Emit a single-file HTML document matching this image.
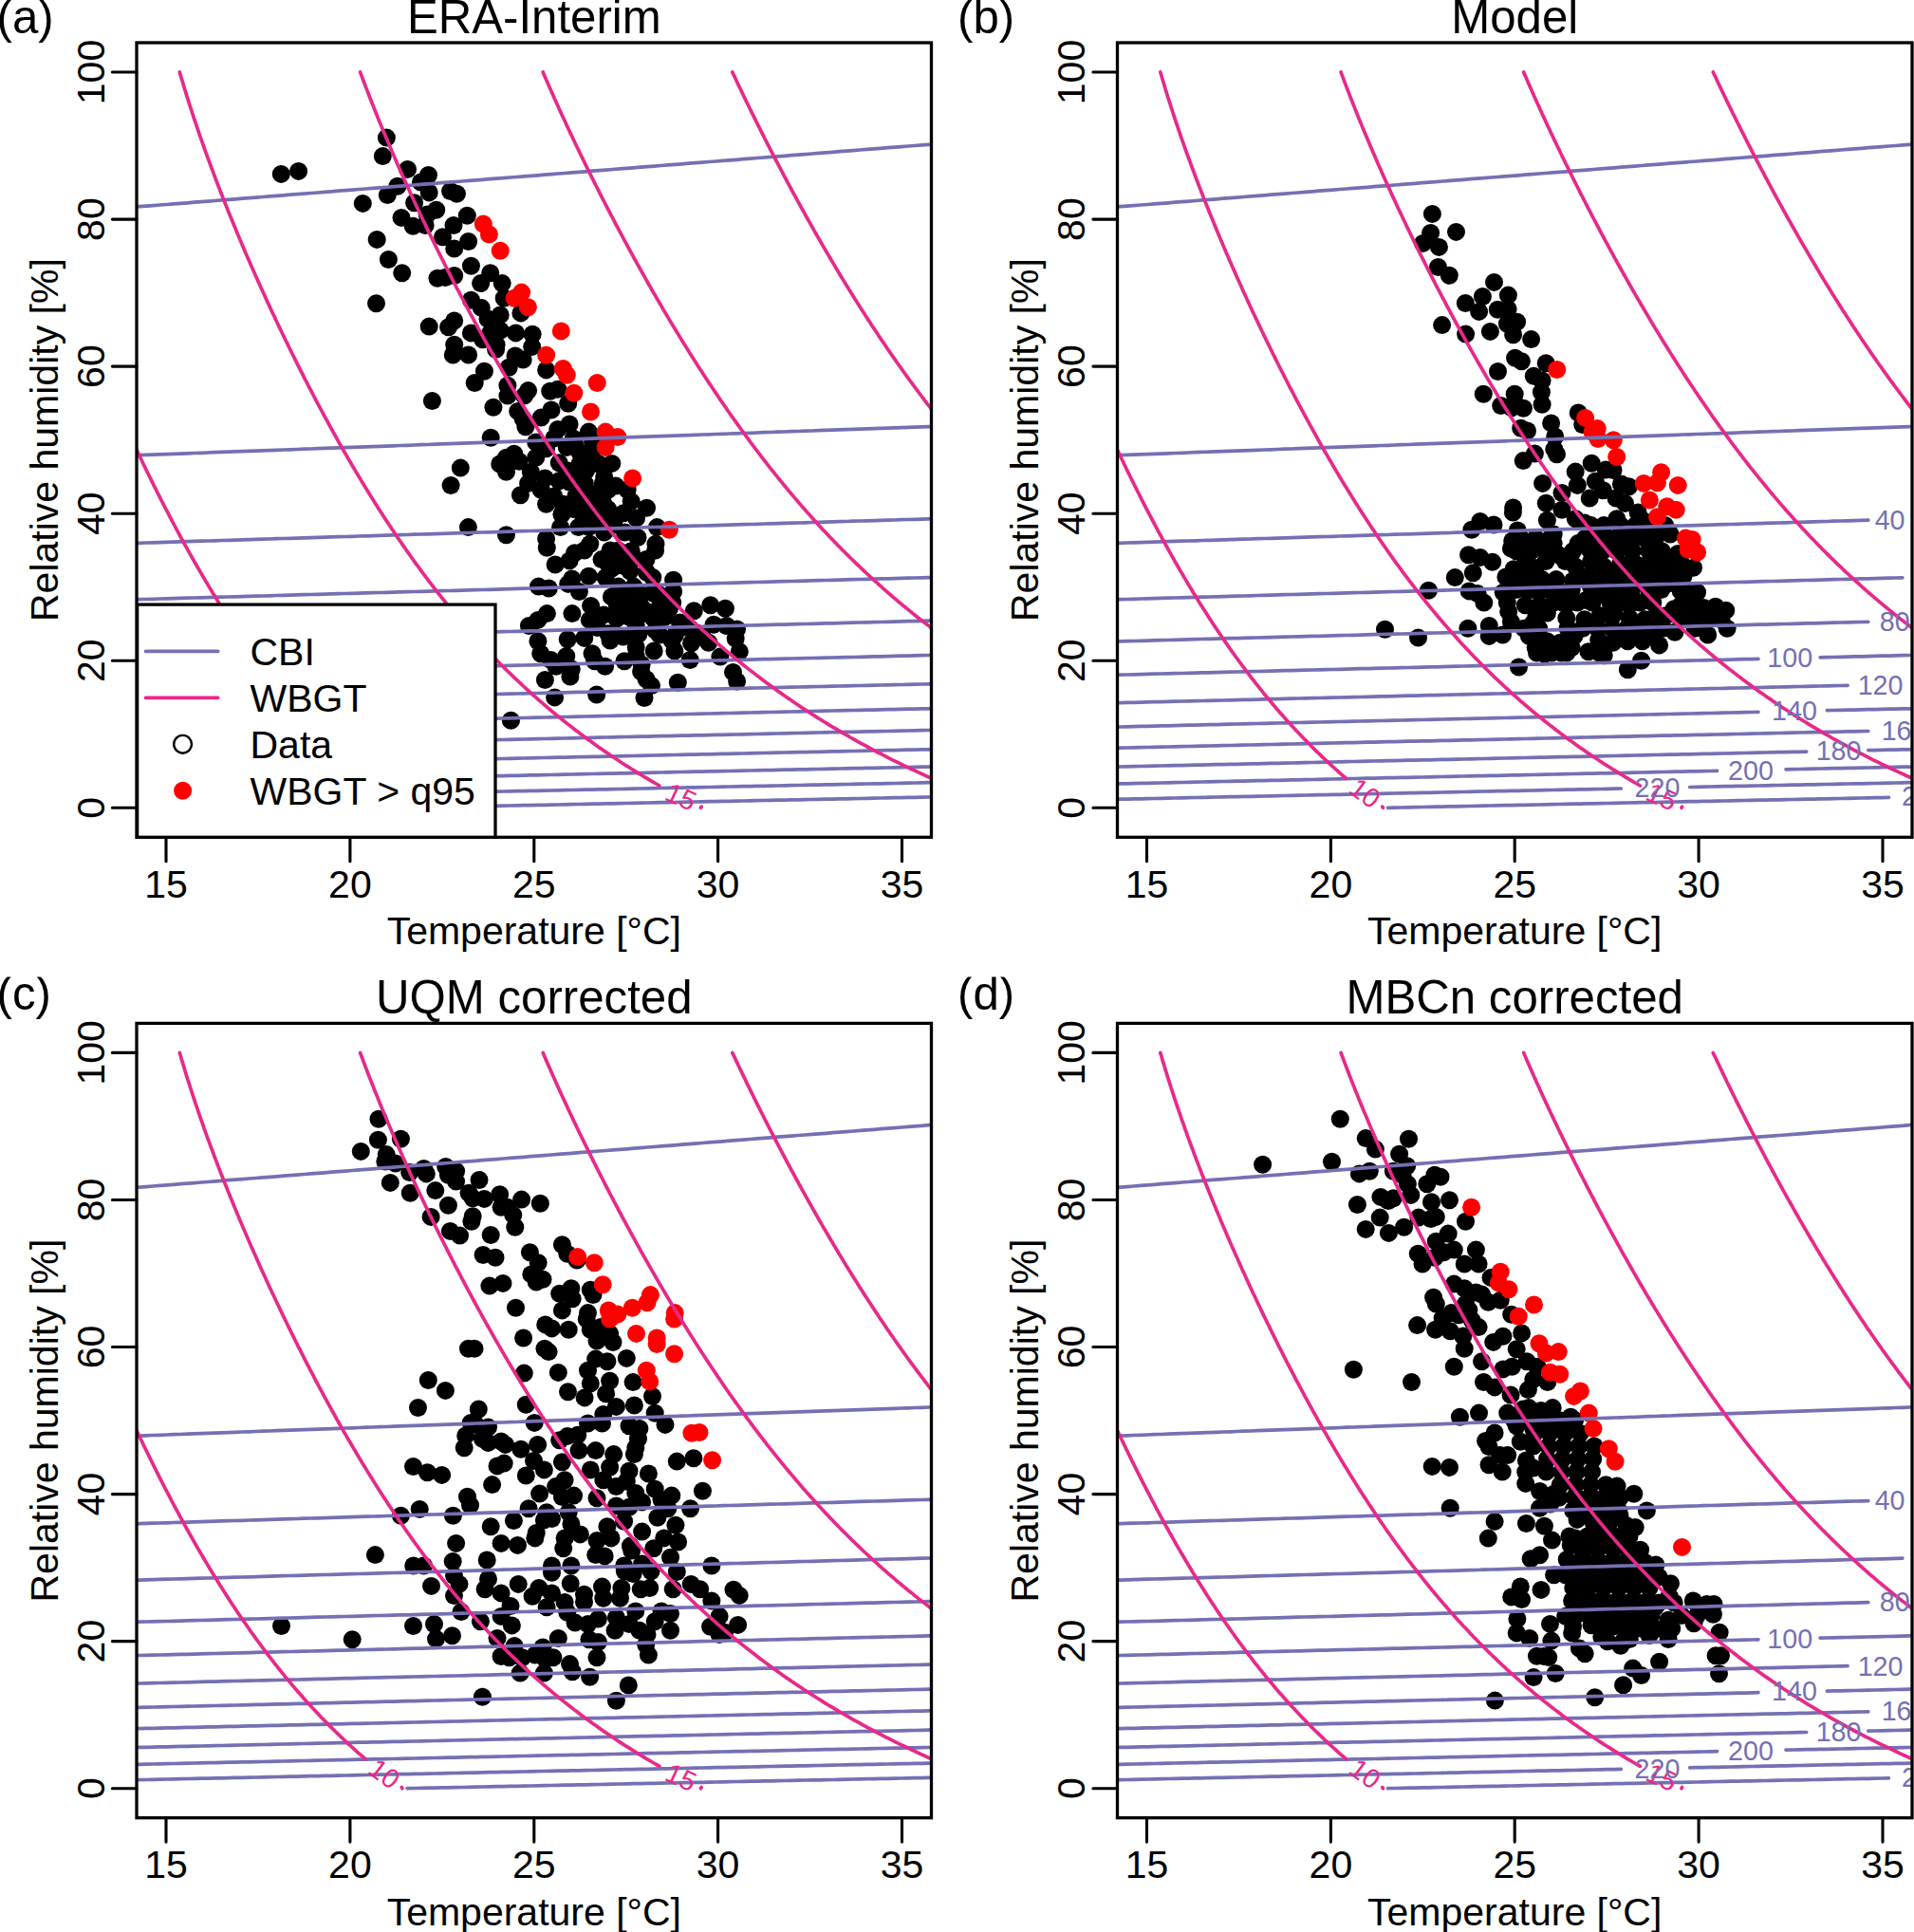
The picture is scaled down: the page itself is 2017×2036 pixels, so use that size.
<!DOCTYPE html>
<html><head><meta charset="utf-8"><style>
html,body{margin:0;padding:0;background:#fff;overflow:hidden;}
svg{display:block;font-family:'Liberation Sans', sans-serif;}
</style></head><body>
<svg width="2017" height="2036" viewBox="0 0 2017 2036">
<rect width="2017" height="2036" fill="#fff"/>
<defs><clipPath id="clip0"><rect x="144.0" y="45.0" width="837.5" height="837.3"/></clipPath></defs>
<g clip-path="url(#clip0)">
<g fill="#000"><circle cx="296.3" cy="183.4" r="9.5"/><circle cx="314.6" cy="180.4" r="9.5"/><circle cx="407.4" cy="145.1" r="9.5"/><circle cx="403.3" cy="164.6" r="9.5"/><circle cx="429.5" cy="178.4" r="9.5"/><circle cx="451.5" cy="184.5" r="9.5"/><circle cx="443.4" cy="192.0" r="9.5"/><circle cx="418.9" cy="196.3" r="9.5"/><circle cx="408.3" cy="205.6" r="9.5"/><circle cx="382.3" cy="214.4" r="9.5"/><circle cx="452.2" cy="202.9" r="9.5"/><circle cx="436.6" cy="213.7" r="9.5"/><circle cx="474.6" cy="201.5" r="9.5"/><circle cx="481.4" cy="204.2" r="9.5"/><circle cx="459.7" cy="221.2" r="9.5"/><circle cx="450.2" cy="226.0" r="9.5"/><circle cx="423.0" cy="229.4" r="9.5"/><circle cx="435.2" cy="238.2" r="9.5"/><circle cx="448.1" cy="237.5" r="9.5"/><circle cx="492.3" cy="227.3" r="9.5"/><circle cx="478.0" cy="237.5" r="9.5"/><circle cx="466.5" cy="249.7" r="9.5"/><circle cx="493.6" cy="254.5" r="9.5"/><circle cx="478.7" cy="262.0" r="9.5"/><circle cx="397.2" cy="252.4" r="9.5"/><circle cx="409.4" cy="273.5" r="9.5"/><circle cx="423.7" cy="287.8" r="9.5"/><circle cx="496.4" cy="280.3" r="9.5"/><circle cx="461.0" cy="293.2" r="9.5"/><circle cx="469.2" cy="292.5" r="9.5"/><circle cx="478.7" cy="290.5" r="9.5"/><circle cx="506.6" cy="298.6" r="9.5"/><circle cx="516.7" cy="287.8" r="9.5"/><circle cx="396.5" cy="319.7" r="9.5"/><circle cx="496.4" cy="316.3" r="9.5"/><circle cx="507.2" cy="324.4" r="9.5"/><circle cx="514.0" cy="336.0" r="9.5"/><circle cx="452.2" cy="344.1" r="9.5"/><circle cx="478.7" cy="338.0" r="9.5"/><circle cx="472.6" cy="344.8" r="9.5"/><circle cx="496.4" cy="350.9" r="9.5"/><circle cx="478.7" cy="363.2" r="9.5"/><circle cx="477.3" cy="374.0" r="9.5"/><circle cx="493.6" cy="374.0" r="9.5"/><circle cx="508.6" cy="357.7" r="9.5"/><circle cx="516.7" cy="350.9" r="9.5"/><circle cx="510.4" cy="391.2" r="9.5"/><circle cx="522.6" cy="368.2" r="9.5"/><circle cx="500.2" cy="403.5" r="9.5"/><circle cx="534.9" cy="406.2" r="9.5"/><circle cx="534.9" cy="417.1" r="9.5"/><circle cx="536.2" cy="387.2" r="9.5"/><circle cx="551.2" cy="379.0" r="9.5"/><circle cx="543.0" cy="374.9" r="9.5"/><circle cx="560.7" cy="365.4" r="9.5"/><circle cx="575.6" cy="389.9" r="9.5"/><circle cx="556.6" cy="411.6" r="9.5"/><circle cx="552.5" cy="417.1" r="9.5"/><circle cx="579.7" cy="412.3" r="9.5"/><circle cx="587.8" cy="410.3" r="9.5"/><circle cx="598.7" cy="425.2" r="9.5"/><circle cx="455.4" cy="422.5" r="9.5"/><circle cx="519.9" cy="429.3" r="9.5"/><circle cx="545.7" cy="433.4" r="9.5"/><circle cx="551.2" cy="441.5" r="9.5"/><circle cx="553.9" cy="449.7" r="9.5"/><circle cx="581.0" cy="432.0" r="9.5"/><circle cx="570.2" cy="440.1" r="9.5"/><circle cx="600.1" cy="446.9" r="9.5"/><circle cx="587.8" cy="452.4" r="9.5"/><circle cx="620.4" cy="455.1" r="9.5"/><circle cx="517.2" cy="461.2" r="9.5"/><circle cx="564.7" cy="466.0" r="9.5"/><circle cx="575.6" cy="472.7" r="9.5"/><circle cx="541.7" cy="478.2" r="9.5"/><circle cx="533.5" cy="482.3" r="9.5"/><circle cx="526.7" cy="489.0" r="9.5"/><circle cx="533.5" cy="497.2" r="9.5"/><circle cx="547.1" cy="486.3" r="9.5"/><circle cx="564.7" cy="482.3" r="9.5"/><circle cx="559.3" cy="497.2" r="9.5"/><circle cx="589.2" cy="487.7" r="9.5"/><circle cx="556.6" cy="509.4" r="9.5"/><circle cx="548.4" cy="521.7" r="9.5"/><circle cx="574.3" cy="504.0" r="9.5"/><circle cx="589.2" cy="506.7" r="9.5"/><circle cx="605.5" cy="506.7" r="9.5"/><circle cx="617.7" cy="495.8" r="9.5"/><circle cx="610.9" cy="476.8" r="9.5"/><circle cx="597.3" cy="471.4" r="9.5"/><circle cx="631.3" cy="489.0" r="9.5"/><circle cx="635.4" cy="509.4" r="9.5"/><circle cx="575.6" cy="531.2" r="9.5"/><circle cx="593.3" cy="531.2" r="9.5"/><circle cx="613.6" cy="525.7" r="9.5"/><circle cx="635.4" cy="529.8" r="9.5"/><circle cx="591.9" cy="542.0" r="9.5"/><circle cx="615.0" cy="546.1" r="9.5"/><circle cx="635.4" cy="547.5" r="9.5"/><circle cx="590.6" cy="555.6" r="9.5"/><circle cx="609.6" cy="555.6" r="9.5"/><circle cx="620.4" cy="555.6" r="9.5"/><circle cx="636.7" cy="561.0" r="9.5"/><circle cx="485.3" cy="493.1" r="9.5"/><circle cx="475.1" cy="511.5" r="9.5"/><circle cx="493.4" cy="555.6" r="9.5"/><circle cx="533.5" cy="563.8" r="9.5"/><circle cx="575.6" cy="567.8" r="9.5"/><circle cx="576.3" cy="577.3" r="9.5"/><circle cx="621.8" cy="573.3" r="9.5"/><circle cx="605.5" cy="582.8" r="9.5"/><circle cx="634.0" cy="589.6" r="9.5"/><circle cx="585.1" cy="595.0" r="9.5"/><circle cx="600.1" cy="590.9" r="9.5"/><circle cx="620.4" cy="607.2" r="9.5"/><circle cx="638.1" cy="608.6" r="9.5"/><circle cx="598.7" cy="615.4" r="9.5"/><circle cx="567.5" cy="618.1" r="9.5"/><circle cx="578.3" cy="620.0" r="9.5"/><circle cx="583.8" cy="461.9" r="9.5"/><circle cx="604.1" cy="461.9" r="9.5"/><circle cx="624.5" cy="466.0" r="9.5"/><circle cx="610.9" cy="489.0" r="9.5"/><circle cx="624.5" cy="475.5" r="9.5"/><circle cx="597.3" cy="495.8" r="9.5"/><circle cx="627.2" cy="520.3" r="9.5"/><circle cx="604.1" cy="536.6" r="9.5"/><circle cx="624.5" cy="536.6" r="9.5"/><circle cx="583.8" cy="523.0" r="9.5"/><circle cx="570.2" cy="516.2" r="9.5"/><circle cx="640.3" cy="593.6" r="9.5"/><circle cx="656.6" cy="596.3" r="9.5"/><circle cx="681.0" cy="589.5" r="9.5"/><circle cx="687.8" cy="608.5" r="9.5"/><circle cx="709.6" cy="611.2" r="9.5"/><circle cx="615.8" cy="580.0" r="9.5"/><circle cx="643.0" cy="580.0" r="9.5"/><circle cx="690.6" cy="580.0" r="9.5"/><circle cx="610.4" cy="623.5" r="9.5"/><circle cx="709.6" cy="623.5" r="9.5"/><circle cx="576.4" cy="646.6" r="9.5"/><circle cx="566.9" cy="653.4" r="9.5"/><circle cx="557.4" cy="659.5" r="9.5"/><circle cx="602.9" cy="646.6" r="9.5"/><circle cx="622.6" cy="638.4" r="9.5"/><circle cx="644.4" cy="628.9" r="9.5"/><circle cx="655.2" cy="634.3" r="9.5"/><circle cx="670.2" cy="631.6" r="9.5"/><circle cx="687.8" cy="624.8" r="9.5"/><circle cx="696.0" cy="634.3" r="9.5"/><circle cx="705.5" cy="641.1" r="9.5"/><circle cx="731.3" cy="643.8" r="9.5"/><circle cx="621.3" cy="653.4" r="9.5"/><circle cx="636.2" cy="647.9" r="9.5"/><circle cx="649.8" cy="652.0" r="9.5"/><circle cx="663.4" cy="650.6" r="9.5"/><circle cx="683.8" cy="645.2" r="9.5"/><circle cx="700.1" cy="650.6" r="9.5"/><circle cx="716.4" cy="656.1" r="9.5"/><circle cx="734.0" cy="666.9" r="9.5"/><circle cx="566.9" cy="675.8" r="9.5"/><circle cx="598.2" cy="673.7" r="9.5"/><circle cx="615.8" cy="672.4" r="9.5"/><circle cx="643.0" cy="675.1" r="9.5"/><circle cx="656.6" cy="671.0" r="9.5"/><circle cx="672.9" cy="668.3" r="9.5"/><circle cx="690.6" cy="664.2" r="9.5"/><circle cx="708.2" cy="675.1" r="9.5"/><circle cx="724.5" cy="661.5" r="9.5"/><circle cx="728.6" cy="677.8" r="9.5"/><circle cx="569.7" cy="688.7" r="9.5"/><circle cx="580.5" cy="695.5" r="9.5"/><circle cx="596.8" cy="691.4" r="9.5"/><circle cx="586.0" cy="702.3" r="9.5"/><circle cx="624.0" cy="688.7" r="9.5"/><circle cx="626.7" cy="696.8" r="9.5"/><circle cx="637.6" cy="702.3" r="9.5"/><circle cx="658.0" cy="696.8" r="9.5"/><circle cx="670.2" cy="691.4" r="9.5"/><circle cx="689.2" cy="686.0" r="9.5"/><circle cx="670.2" cy="681.9" r="9.5"/><circle cx="710.9" cy="686.0" r="9.5"/><circle cx="727.2" cy="695.5" r="9.5"/><circle cx="675.6" cy="707.7" r="9.5"/><circle cx="681.0" cy="715.8" r="9.5"/><circle cx="686.5" cy="722.6" r="9.5"/><circle cx="574.4" cy="716.5" r="9.5"/><circle cx="600.9" cy="713.1" r="9.5"/><circle cx="602.3" cy="705.0" r="9.5"/><circle cx="714.3" cy="719.2" r="9.5"/><circle cx="584.6" cy="734.9" r="9.5"/><circle cx="628.7" cy="732.1" r="9.5"/><circle cx="679.0" cy="735.5" r="9.5"/><circle cx="538.4" cy="759.3" r="9.5"/><circle cx="656.6" cy="641.1" r="9.5"/><circle cx="677.0" cy="641.1" r="9.5"/><circle cx="629.4" cy="661.5" r="9.5"/><circle cx="670.2" cy="658.8" r="9.5"/><circle cx="529.2" cy="298.6" r="9.5"/><circle cx="531.2" cy="314.3" r="9.5"/><circle cx="527.2" cy="331.9" r="9.5"/><circle cx="548.9" cy="329.9" r="9.5"/><circle cx="527.2" cy="348.2" r="9.5"/><circle cx="543.5" cy="350.9" r="9.5"/><circle cx="561.1" cy="352.3" r="9.5"/><circle cx="523.1" cy="363.2" r="9.5"/><circle cx="605.4" cy="467.3" r="9.5"/><circle cx="620.4" cy="482.3" r="9.5"/><circle cx="644.8" cy="488.4" r="9.5"/><circle cx="606.8" cy="495.8" r="9.5"/><circle cx="636.7" cy="502.6" r="9.5"/><circle cx="616.3" cy="509.4" r="9.5"/><circle cx="600.0" cy="508.1" r="9.5"/><circle cx="648.9" cy="512.1" r="9.5"/><circle cx="661.1" cy="516.2" r="9.5"/><circle cx="665.2" cy="528.4" r="9.5"/><circle cx="681.5" cy="535.2" r="9.5"/><circle cx="614.9" cy="536.6" r="9.5"/><circle cx="640.8" cy="536.6" r="9.5"/><circle cx="657.1" cy="540.7" r="9.5"/><circle cx="670.6" cy="546.1" r="9.5"/><circle cx="692.4" cy="555.6" r="9.5"/><circle cx="640.8" cy="557.0" r="9.5"/><circle cx="658.4" cy="561.0" r="9.5"/><circle cx="672.0" cy="566.5" r="9.5"/><circle cx="691.0" cy="573.3" r="9.5"/><circle cx="651.6" cy="580.1" r="9.5"/><circle cx="667.9" cy="588.2" r="9.5"/><circle cx="644.8" cy="599.1" r="9.5"/><circle cx="663.8" cy="601.8" r="9.5"/><circle cx="681.5" cy="603.2" r="9.5"/><circle cx="602.7" cy="609.9" r="9.5"/><circle cx="667.9" cy="618.1" r="9.5"/><circle cx="651.6" cy="618.1" r="9.5"/><circle cx="640.8" cy="516.2" r="9.5"/><circle cx="606.8" cy="523.0" r="9.5"/><circle cx="627.2" cy="543.4" r="9.5"/><circle cx="647.5" cy="547.5" r="9.5"/><circle cx="650.3" cy="594.3" r="9.5"/><circle cx="665.2" cy="580.8" r="9.5"/><circle cx="661.1" cy="624.2" r="9.5"/><circle cx="676.1" cy="626.9" r="9.5"/><circle cx="695.1" cy="626.9" r="9.5"/><circle cx="708.7" cy="635.1" r="9.5"/><circle cx="650.3" cy="637.8" r="9.5"/><circle cx="665.2" cy="640.5" r="9.5"/><circle cx="695.1" cy="643.2" r="9.5"/><circle cx="748.7" cy="637.8" r="9.5"/><circle cx="764.4" cy="641.2" r="9.5"/><circle cx="672.0" cy="650.0" r="9.5"/><circle cx="688.3" cy="651.4" r="9.5"/><circle cx="752.1" cy="658.2" r="9.5"/><circle cx="765.7" cy="659.5" r="9.5"/><circle cx="776.6" cy="662.9" r="9.5"/><circle cx="640.8" cy="667.7" r="9.5"/><circle cx="695.1" cy="669.0" r="9.5"/><circle cx="711.4" cy="669.0" r="9.5"/><circle cx="739.9" cy="670.4" r="9.5"/><circle cx="775.2" cy="673.1" r="9.5"/><circle cx="746.7" cy="677.2" r="9.5"/><circle cx="779.3" cy="686.7" r="9.5"/><circle cx="758.9" cy="692.1" r="9.5"/><circle cx="676.1" cy="700.3" r="9.5"/><circle cx="772.5" cy="708.4" r="9.5"/><circle cx="776.6" cy="718.0" r="9.5"/></g>
<g fill="#f00"><circle cx="509.3" cy="236.1" r="9.5"/><circle cx="515.4" cy="247.0" r="9.5"/><circle cx="575.6" cy="374.3" r="9.5"/><circle cx="593.3" cy="388.5" r="9.5"/><circle cx="597.3" cy="395.3" r="9.5"/><circle cx="604.8" cy="414.3" r="9.5"/><circle cx="629.3" cy="403.5" r="9.5"/><circle cx="622.5" cy="434.0" r="9.5"/><circle cx="638.1" cy="455.1" r="9.5"/><circle cx="638.1" cy="471.4" r="9.5"/><circle cx="527.2" cy="264.3" r="9.5"/><circle cx="549.6" cy="308.1" r="9.5"/><circle cx="542.1" cy="314.3" r="9.5"/><circle cx="556.4" cy="323.8" r="9.5"/><circle cx="591.3" cy="348.9" r="9.5"/><circle cx="650.9" cy="460.5" r="9.5"/><circle cx="666.6" cy="504.0" r="9.5"/><circle cx="705.3" cy="558.3" r="9.5"/></g>
<g fill="none" stroke="#7570B3" stroke-width="3.7" stroke-linecap="round" stroke-linejoin="round">
<path d="M132.4,218.9 L139.6,218.3 L146.8,217.7 L154.1,217.2 L161.3,216.6 L168.5,216.0 L175.8,215.5 L183.0,214.9 L190.2,214.3 L197.5,213.8 L204.7,213.2 L211.9,212.6 L219.2,212.1 L226.4,211.5 L233.6,210.9 L240.9,210.3 L248.1,209.8 L255.3,209.2 L262.6,208.6 L269.8,208.1 L277.0,207.5 L284.3,206.9 L291.5,206.4 L298.7,205.8 L306.0,205.2 L313.2,204.7 L320.4,204.1 L327.7,203.5 L334.9,203.0 L342.1,202.4 L349.4,201.8 L356.6,201.2 L363.8,200.7 L371.1,200.1 L378.3,199.5 L385.5,199.0 L392.8,198.4 L400.0,197.8 L407.2,197.3 L414.5,196.7 L421.7,196.1 L428.9,195.6 L436.2,195.0 L443.4,194.4 L450.6,193.9 L457.9,193.3 L465.1,192.7 L472.3,192.1 L479.6,191.6 L486.8,191.0 L494.0,190.4 L501.3,189.9 L508.5,189.3 L515.7,188.7 L523.0,188.2 L530.2,187.6 L537.4,187.0 L544.7,186.5 L551.9,185.9 L559.1,185.3 L566.4,184.8 L573.6,184.2 L580.8,183.6 L588.1,183.0 L595.3,182.5 L602.5,181.9 L609.8,181.3 L617.0,180.8 L624.2,180.2 L631.5,179.6 L638.7,179.1 L645.9,178.5 L653.2,177.9 L660.4,177.4 L667.6,176.8 L674.9,176.2 L682.1,175.6 L689.3,175.1 L696.6,174.5 L703.8,173.9 L711.0,173.4 L718.3,172.8 L725.5,172.2 L732.7,171.7 L740.0,171.1 L747.2,170.5 L754.4,170.0 L761.7,169.4 L768.9,168.8 L776.1,168.3 L783.4,167.7 L790.6,167.1 L797.8,166.5 L805.1,166.0 L812.3,165.4 L819.5,164.8 L826.8,164.3 L834.0,163.7 L841.2,163.1 L848.5,162.6 L855.7,162.0 L862.9,161.4 L870.2,160.9 L877.4,160.3 L884.6,159.7 L891.9,159.2 L899.1,158.6 L906.3,158.0 L913.6,157.4 L920.8,156.9 L928.0,156.3 L935.3,155.7 L942.5,155.2 L949.7,154.6 L957.0,154.0 L964.2,153.5 L971.4,152.9 L978.7,152.3 L985.9,151.8 L993.1,151.2"/>
<path d="M132.4,480.2 L139.6,479.9 L146.8,479.7 L154.1,479.4 L161.3,479.1 L168.5,478.9 L175.8,478.6 L183.0,478.3 L190.2,478.1 L197.5,477.8 L204.7,477.5 L211.9,477.3 L219.2,477.0 L226.4,476.7 L233.6,476.4 L240.9,476.2 L248.1,475.9 L255.3,475.6 L262.6,475.4 L269.8,475.1 L277.0,474.8 L284.3,474.6 L291.5,474.3 L298.7,474.0 L306.0,473.8 L313.2,473.5 L320.4,473.2 L327.7,473.0 L334.9,472.7 L342.1,472.4 L349.4,472.2 L356.6,471.9 L363.8,471.6 L371.1,471.4 L378.3,471.1 L385.5,470.8 L392.8,470.6 L400.0,470.3 L407.2,470.1 L414.5,469.8 L421.7,469.5 L428.9,469.3 L436.2,469.0 L443.4,468.7 L450.6,468.5 L457.9,468.2 L465.1,467.9 L472.3,467.7 L479.6,467.4 L486.8,467.2 L494.0,466.9 L501.3,466.6 L508.5,466.4 L515.7,466.1 L523.0,465.8 L530.2,465.6 L537.4,465.3 L544.7,465.1 L551.9,464.8 L559.1,464.5 L566.4,464.3 L573.6,464.0 L580.8,463.7 L588.1,463.5 L595.3,463.2 L602.5,463.0 L609.8,462.7 L617.0,462.4 L624.2,462.2 L631.5,461.9 L638.7,461.7 L645.9,461.4 L653.2,461.1 L660.4,460.9 L667.6,460.6 L674.9,460.4 L682.1,460.1 L689.3,459.9 L696.6,459.6 L703.8,459.3 L711.0,459.1 L718.3,458.8 L725.5,458.6 L732.7,458.3 L740.0,458.0 L747.2,457.8 L754.4,457.5 L761.7,457.3 L768.9,457.0 L776.1,456.8 L783.4,456.5 L790.6,456.3 L797.8,456.0 L805.1,455.7 L812.3,455.5 L819.5,455.2 L826.8,455.0 L834.0,454.7 L841.2,454.5 L848.5,454.2 L855.7,454.0 L862.9,453.7 L870.2,453.4 L877.4,453.2 L884.6,452.9 L891.9,452.7 L899.1,452.4 L906.3,452.2 L913.6,451.9 L920.8,451.7 L928.0,451.4 L935.3,451.2 L942.5,450.9 L949.7,450.6 L957.0,450.4 L964.2,450.1 L971.4,449.9 L978.7,449.6 L985.9,449.4 L993.1,449.1"/>
<path d="M132.4,572.7 L139.6,572.5 L146.8,572.3 L154.1,572.0 L161.3,571.8 L168.5,571.6 L175.8,571.4 L183.0,571.1 L190.2,570.9 L197.5,570.7 L204.7,570.4 L211.9,570.2 L219.2,570.0 L226.4,569.8 L233.6,569.5 L240.9,569.3 L248.1,569.1 L255.3,568.9 L262.6,568.6 L269.8,568.4 L277.0,568.2 L284.3,568.0 L291.5,567.7 L298.7,567.5 L306.0,567.3 L313.2,567.1 L320.4,566.8 L327.7,566.6 L334.9,566.4 L342.1,566.2 L349.4,565.9 L356.6,565.7 L363.8,565.5 L371.1,565.3 L378.3,565.0 L385.5,564.8 L392.8,564.6 L400.0,564.4 L407.2,564.1 L414.5,563.9 L421.7,563.7 L428.9,563.5 L436.2,563.2 L443.4,563.0 L450.6,562.8 L457.9,562.6 L465.1,562.4 L472.3,562.1 L479.6,561.9 L486.8,561.7 L494.0,561.5 L501.3,561.2 L508.5,561.0 L515.7,560.8 L523.0,560.6 L530.2,560.4 L537.4,560.1 L544.7,559.9 L551.9,559.7 L559.1,559.5 L566.4,559.3 L573.6,559.0 L580.8,558.8 L588.1,558.6 L595.3,558.4 L602.5,558.2 L609.8,557.9 L617.0,557.7 L624.2,557.5 L631.5,557.3 L638.7,557.1 L645.9,556.8 L653.2,556.6 L660.4,556.4 L667.6,556.2 L674.9,556.0 L682.1,555.7 L689.3,555.5 L696.6,555.3 L703.8,555.1 L711.0,554.9 L718.3,554.7 L725.5,554.4 L732.7,554.2 L740.0,554.0 L747.2,553.8 L754.4,553.6 L761.7,553.3 L768.9,553.1 L776.1,552.9 L783.4,552.7 L790.6,552.5 L797.8,552.3 L805.1,552.0 L812.3,551.8 L819.5,551.6 L826.8,551.4 L834.0,551.2 L841.2,551.0 L848.5,550.8 L855.7,550.5 L862.9,550.3 L870.2,550.1 L877.4,549.9 L884.6,549.7 L891.9,549.5 L899.1,549.2 L906.3,549.0 L913.6,548.8 L920.8,548.6 L928.0,548.4 L935.3,548.2 L942.5,548.0 L949.7,547.7 L957.0,547.5 L964.2,547.3 L971.4,547.1 L978.7,546.9 L985.9,546.7 L993.1,546.5"/>
<path d="M132.4,632.1 L139.6,631.9 L146.8,631.7 L154.1,631.5 L161.3,631.3 L168.5,631.0 L175.8,630.8 L183.0,630.6 L190.2,630.4 L197.5,630.2 L204.7,630.0 L211.9,629.8 L219.2,629.6 L226.4,629.4 L233.6,629.2 L240.9,629.0 L248.1,628.8 L255.3,628.6 L262.6,628.4 L269.8,628.2 L277.0,628.0 L284.3,627.8 L291.5,627.5 L298.7,627.3 L306.0,627.1 L313.2,626.9 L320.4,626.7 L327.7,626.5 L334.9,626.3 L342.1,626.1 L349.4,625.9 L356.6,625.7 L363.8,625.5 L371.1,625.3 L378.3,625.1 L385.5,624.9 L392.8,624.7 L400.0,624.5 L407.2,624.3 L414.5,624.1 L421.7,623.9 L428.9,623.7 L436.2,623.5 L443.4,623.3 L450.6,623.1 L457.9,622.9 L465.1,622.7 L472.3,622.5 L479.6,622.3 L486.8,622.1 L494.0,621.9 L501.3,621.7 L508.5,621.5 L515.7,621.3 L523.0,621.1 L530.2,620.8 L537.4,620.6 L544.7,620.4 L551.9,620.2 L559.1,620.0 L566.4,619.8 L573.6,619.6 L580.8,619.4 L588.1,619.2 L595.3,619.0 L602.5,618.8 L609.8,618.6 L617.0,618.4 L624.2,618.2 L631.5,618.0 L638.7,617.8 L645.9,617.6 L653.2,617.4 L660.4,617.2 L667.6,617.0 L674.9,616.8 L682.1,616.6 L689.3,616.4 L696.6,616.3 L703.8,616.1 L711.0,615.9 L718.3,615.7 L725.5,615.5 L732.7,615.3 L740.0,615.1 L747.2,614.9 L754.4,614.7 L761.7,614.5 L768.9,614.3 L776.1,614.1 L783.4,613.9 L790.6,613.7 L797.8,613.5 L805.1,613.3 L812.3,613.1 L819.5,612.9 L826.8,612.7 L834.0,612.5 L841.2,612.3 L848.5,612.1 L855.7,611.9 L862.9,611.7 L870.2,611.5 L877.4,611.3 L884.6,611.1 L891.9,610.9 L899.1,610.7 L906.3,610.5 L913.6,610.3 L920.8,610.1 L928.0,609.9 L935.3,609.8 L942.5,609.6 L949.7,609.4 L957.0,609.2 L964.2,609.0 L971.4,608.8 L978.7,608.6 L985.9,608.4 L993.1,608.2"/>
<path d="M132.4,676.2 L139.6,676.0 L146.8,675.8 L154.1,675.6 L161.3,675.5 L168.5,675.3 L175.8,675.1 L183.0,674.9 L190.2,674.7 L197.5,674.5 L204.7,674.3 L211.9,674.1 L219.2,673.9 L226.4,673.7 L233.6,673.5 L240.9,673.3 L248.1,673.1 L255.3,672.9 L262.6,672.7 L269.8,672.6 L277.0,672.4 L284.3,672.2 L291.5,672.0 L298.7,671.8 L306.0,671.6 L313.2,671.4 L320.4,671.2 L327.7,671.0 L334.9,670.8 L342.1,670.6 L349.4,670.4 L356.6,670.3 L363.8,670.1 L371.1,669.9 L378.3,669.7 L385.5,669.5 L392.8,669.3 L400.0,669.1 L407.2,668.9 L414.5,668.7 L421.7,668.5 L428.9,668.4 L436.2,668.2 L443.4,668.0 L450.6,667.8 L457.9,667.6 L465.1,667.4 L472.3,667.2 L479.6,667.0 L486.8,666.8 L494.0,666.6 L501.3,666.5 L508.5,666.3 L515.7,666.1 L523.0,665.9 L530.2,665.7 L537.4,665.5 L544.7,665.3 L551.9,665.1 L559.1,664.9 L566.4,664.8 L573.6,664.6 L580.8,664.4 L588.1,664.2 L595.3,664.0 L602.5,663.8 L609.8,663.6 L617.0,663.4 L624.2,663.3 L631.5,663.1 L638.7,662.9 L645.9,662.7 L653.2,662.5 L660.4,662.3 L667.6,662.1 L674.9,662.0 L682.1,661.8 L689.3,661.6 L696.6,661.4 L703.8,661.2 L711.0,661.0 L718.3,660.8 L725.5,660.6 L732.7,660.5 L740.0,660.3 L747.2,660.1 L754.4,659.9 L761.7,659.7 L768.9,659.5 L776.1,659.3 L783.4,659.2 L790.6,659.0 L797.8,658.8 L805.1,658.6 L812.3,658.4 L819.5,658.2 L826.8,658.1 L834.0,657.9 L841.2,657.7 L848.5,657.5 L855.7,657.3 L862.9,657.1 L870.2,656.9 L877.4,656.8 L884.6,656.6 L891.9,656.4 L899.1,656.2 L906.3,656.0 L913.6,655.8 L920.8,655.7 L928.0,655.5 L935.3,655.3 L942.5,655.1 L949.7,654.9 L957.0,654.7 L964.2,654.6 L971.4,654.4 L978.7,654.2 L985.9,654.0 L993.1,653.8"/>
<path d="M132.4,711.5 L139.6,711.3 L146.8,711.1 L154.1,711.0 L161.3,710.8 L168.5,710.6 L175.8,710.4 L183.0,710.2 L190.2,710.0 L197.5,709.9 L204.7,709.7 L211.9,709.5 L219.2,709.3 L226.4,709.1 L233.6,708.9 L240.9,708.8 L248.1,708.6 L255.3,708.4 L262.6,708.2 L269.8,708.0 L277.0,707.8 L284.3,707.7 L291.5,707.5 L298.7,707.3 L306.0,707.1 L313.2,706.9 L320.4,706.7 L327.7,706.6 L334.9,706.4 L342.1,706.2 L349.4,706.0 L356.6,705.8 L363.8,705.7 L371.1,705.5 L378.3,705.3 L385.5,705.1 L392.8,704.9 L400.0,704.7 L407.2,704.6 L414.5,704.4 L421.7,704.2 L428.9,704.0 L436.2,703.8 L443.4,703.7 L450.6,703.5 L457.9,703.3 L465.1,703.1 L472.3,702.9 L479.6,702.8 L486.8,702.6 L494.0,702.4 L501.3,702.2 L508.5,702.0 L515.7,701.9 L523.0,701.7 L530.2,701.5 L537.4,701.3 L544.7,701.1 L551.9,701.0 L559.1,700.8 L566.4,700.6 L573.6,700.4 L580.8,700.2 L588.1,700.1 L595.3,699.9 L602.5,699.7 L609.8,699.5 L617.0,699.3 L624.2,699.2 L631.5,699.0 L638.7,698.8 L645.9,698.6 L653.2,698.5 L660.4,698.3 L667.6,698.1 L674.9,697.9 L682.1,697.7 L689.3,697.6 L696.6,697.4 L703.8,697.2 L711.0,697.0 L718.3,696.9 L725.5,696.7 L732.7,696.5 L740.0,696.3 L747.2,696.1 L754.4,696.0 L761.7,695.8 L768.9,695.6 L776.1,695.4 L783.4,695.3 L790.6,695.1 L797.8,694.9 L805.1,694.7 L812.3,694.6 L819.5,694.4 L826.8,694.2 L834.0,694.0 L841.2,693.9 L848.5,693.7 L855.7,693.5 L862.9,693.3 L870.2,693.2 L877.4,693.0 L884.6,692.8 L891.9,692.6 L899.1,692.5 L906.3,692.3 L913.6,692.1 L920.8,691.9 L928.0,691.8 L935.3,691.6 L942.5,691.4 L949.7,691.2 L957.0,691.1 L964.2,690.9 L971.4,690.7 L978.7,690.5 L985.9,690.4 L993.1,690.2"/>
<path d="M132.4,741.0 L139.6,740.8 L146.8,740.6 L154.1,740.4 L161.3,740.3 L168.5,740.1 L175.8,739.9 L183.0,739.7 L190.2,739.6 L197.5,739.4 L204.7,739.2 L211.9,739.0 L219.2,738.8 L226.4,738.7 L233.6,738.5 L240.9,738.3 L248.1,738.1 L255.3,738.0 L262.6,737.8 L269.8,737.6 L277.0,737.4 L284.3,737.3 L291.5,737.1 L298.7,736.9 L306.0,736.7 L313.2,736.6 L320.4,736.4 L327.7,736.2 L334.9,736.0 L342.1,735.9 L349.4,735.7 L356.6,735.5 L363.8,735.3 L371.1,735.2 L378.3,735.0 L385.5,734.8 L392.8,734.6 L400.0,734.5 L407.2,734.3 L414.5,734.1 L421.7,733.9 L428.9,733.8 L436.2,733.6 L443.4,733.4 L450.6,733.2 L457.9,733.1 L465.1,732.9 L472.3,732.7 L479.6,732.6 L486.8,732.4 L494.0,732.2 L501.3,732.0 L508.5,731.9 L515.7,731.7 L523.0,731.5 L530.2,731.3 L537.4,731.2 L544.7,731.0 L551.9,730.8 L559.1,730.7 L566.4,730.5 L573.6,730.3 L580.8,730.1 L588.1,730.0 L595.3,729.8 L602.5,729.6 L609.8,729.4 L617.0,729.3 L624.2,729.1 L631.5,728.9 L638.7,728.8 L645.9,728.6 L653.2,728.4 L660.4,728.2 L667.6,728.1 L674.9,727.9 L682.1,727.7 L689.3,727.6 L696.6,727.4 L703.8,727.2 L711.0,727.0 L718.3,726.9 L725.5,726.7 L732.7,726.5 L740.0,726.4 L747.2,726.2 L754.4,726.0 L761.7,725.9 L768.9,725.7 L776.1,725.5 L783.4,725.3 L790.6,725.2 L797.8,725.0 L805.1,724.8 L812.3,724.7 L819.5,724.5 L826.8,724.3 L834.0,724.2 L841.2,724.0 L848.5,723.8 L855.7,723.7 L862.9,723.5 L870.2,723.3 L877.4,723.1 L884.6,723.0 L891.9,722.8 L899.1,722.6 L906.3,722.5 L913.6,722.3 L920.8,722.1 L928.0,722.0 L935.3,721.8 L942.5,721.6 L949.7,721.5 L957.0,721.3 L964.2,721.1 L971.4,721.0 L978.7,720.8 L985.9,720.6 L993.1,720.5"/>
<path d="M132.4,766.3 L139.6,766.1 L146.8,766.0 L154.1,765.8 L161.3,765.6 L168.5,765.4 L175.8,765.3 L183.0,765.1 L190.2,764.9 L197.5,764.8 L204.7,764.6 L211.9,764.4 L219.2,764.2 L226.4,764.1 L233.6,763.9 L240.9,763.7 L248.1,763.6 L255.3,763.4 L262.6,763.2 L269.8,763.0 L277.0,762.9 L284.3,762.7 L291.5,762.5 L298.7,762.4 L306.0,762.2 L313.2,762.0 L320.4,761.9 L327.7,761.7 L334.9,761.5 L342.1,761.3 L349.4,761.2 L356.6,761.0 L363.8,760.8 L371.1,760.7 L378.3,760.5 L385.5,760.3 L392.8,760.2 L400.0,760.0 L407.2,759.8 L414.5,759.7 L421.7,759.5 L428.9,759.3 L436.2,759.2 L443.4,759.0 L450.6,758.8 L457.9,758.6 L465.1,758.5 L472.3,758.3 L479.6,758.1 L486.8,758.0 L494.0,757.8 L501.3,757.6 L508.5,757.5 L515.7,757.3 L523.0,757.1 L530.2,757.0 L537.4,756.8 L544.7,756.6 L551.9,756.5 L559.1,756.3 L566.4,756.1 L573.6,756.0 L580.8,755.8 L588.1,755.6 L595.3,755.5 L602.5,755.3 L609.8,755.1 L617.0,755.0 L624.2,754.8 L631.5,754.6 L638.7,754.5 L645.9,754.3 L653.2,754.1 L660.4,754.0 L667.6,753.8 L674.9,753.6 L682.1,753.5 L689.3,753.3 L696.6,753.1 L703.8,753.0 L711.0,752.8 L718.3,752.7 L725.5,752.5 L732.7,752.3 L740.0,752.2 L747.2,752.0 L754.4,751.8 L761.7,751.7 L768.9,751.5 L776.1,751.3 L783.4,751.2 L790.6,751.0 L797.8,750.8 L805.1,750.7 L812.3,750.5 L819.5,750.3 L826.8,750.2 L834.0,750.0 L841.2,749.9 L848.5,749.7 L855.7,749.5 L862.9,749.4 L870.2,749.2 L877.4,749.0 L884.6,748.9 L891.9,748.7 L899.1,748.5 L906.3,748.4 L913.6,748.2 L920.8,748.1 L928.0,747.9 L935.3,747.7 L942.5,747.6 L949.7,747.4 L957.0,747.2 L964.2,747.1 L971.4,746.9 L978.7,746.8 L985.9,746.6 L993.1,746.4"/>
<path d="M132.4,788.5 L139.6,788.4 L146.8,788.2 L154.1,788.0 L161.3,787.9 L168.5,787.7 L175.8,787.5 L183.0,787.4 L190.2,787.2 L197.5,787.0 L204.7,786.9 L211.9,786.7 L219.2,786.5 L226.4,786.4 L233.6,786.2 L240.9,786.0 L248.1,785.9 L255.3,785.7 L262.6,785.5 L269.8,785.4 L277.0,785.2 L284.3,785.0 L291.5,784.9 L298.7,784.7 L306.0,784.5 L313.2,784.4 L320.4,784.2 L327.7,784.0 L334.9,783.9 L342.1,783.7 L349.4,783.5 L356.6,783.4 L363.8,783.2 L371.1,783.0 L378.3,782.9 L385.5,782.7 L392.8,782.6 L400.0,782.4 L407.2,782.2 L414.5,782.1 L421.7,781.9 L428.9,781.7 L436.2,781.6 L443.4,781.4 L450.6,781.2 L457.9,781.1 L465.1,780.9 L472.3,780.8 L479.6,780.6 L486.8,780.4 L494.0,780.3 L501.3,780.1 L508.5,779.9 L515.7,779.8 L523.0,779.6 L530.2,779.5 L537.4,779.3 L544.7,779.1 L551.9,779.0 L559.1,778.8 L566.4,778.6 L573.6,778.5 L580.8,778.3 L588.1,778.2 L595.3,778.0 L602.5,777.8 L609.8,777.7 L617.0,777.5 L624.2,777.3 L631.5,777.2 L638.7,777.0 L645.9,776.9 L653.2,776.7 L660.4,776.5 L667.6,776.4 L674.9,776.2 L682.1,776.1 L689.3,775.9 L696.6,775.7 L703.8,775.6 L711.0,775.4 L718.3,775.2 L725.5,775.1 L732.7,774.9 L740.0,774.8 L747.2,774.6 L754.4,774.4 L761.7,774.3 L768.9,774.1 L776.1,774.0 L783.4,773.8 L790.6,773.6 L797.8,773.5 L805.1,773.3 L812.3,773.2 L819.5,773.0 L826.8,772.8 L834.0,772.7 L841.2,772.5 L848.5,772.4 L855.7,772.2 L862.9,772.0 L870.2,771.9 L877.4,771.7 L884.6,771.6 L891.9,771.4 L899.1,771.3 L906.3,771.1 L913.6,770.9 L920.8,770.8 L928.0,770.6 L935.3,770.5 L942.5,770.3 L949.7,770.1 L957.0,770.0 L964.2,769.8 L971.4,769.7 L978.7,769.5 L985.9,769.4 L993.1,769.2"/>
<path d="M132.4,808.3 L139.6,808.2 L146.8,808.0 L154.1,807.9 L161.3,807.7 L168.5,807.5 L175.8,807.4 L183.0,807.2 L190.2,807.0 L197.5,806.9 L204.7,806.7 L211.9,806.6 L219.2,806.4 L226.4,806.2 L233.6,806.1 L240.9,805.9 L248.1,805.7 L255.3,805.6 L262.6,805.4 L269.8,805.3 L277.0,805.1 L284.3,804.9 L291.5,804.8 L298.7,804.6 L306.0,804.4 L313.2,804.3 L320.4,804.1 L327.7,804.0 L334.9,803.8 L342.1,803.6 L349.4,803.5 L356.6,803.3 L363.8,803.2 L371.1,803.0 L378.3,802.8 L385.5,802.7 L392.8,802.5 L400.0,802.4 L407.2,802.2 L414.5,802.0 L421.7,801.9 L428.9,801.7 L436.2,801.6 L443.4,801.4 L450.6,801.2 L457.9,801.1 L465.1,800.9 L472.3,800.8 L479.6,800.6 L486.8,800.4 L494.0,800.3 L501.3,800.1 L508.5,800.0 L515.7,799.8 L523.0,799.6 L530.2,799.5 L537.4,799.3 L544.7,799.2 L551.9,799.0 L559.1,798.9 L566.4,798.7 L573.6,798.5 L580.8,798.4 L588.1,798.2 L595.3,798.1 L602.5,797.9 L609.8,797.7 L617.0,797.6 L624.2,797.4 L631.5,797.3 L638.7,797.1 L645.9,797.0 L653.2,796.8 L660.4,796.6 L667.6,796.5 L674.9,796.3 L682.1,796.2 L689.3,796.0 L696.6,795.9 L703.8,795.7 L711.0,795.5 L718.3,795.4 L725.5,795.2 L732.7,795.1 L740.0,794.9 L747.2,794.8 L754.4,794.6 L761.7,794.4 L768.9,794.3 L776.1,794.1 L783.4,794.0 L790.6,793.8 L797.8,793.7 L805.1,793.5 L812.3,793.3 L819.5,793.2 L826.8,793.0 L834.0,792.9 L841.2,792.7 L848.5,792.6 L855.7,792.4 L862.9,792.3 L870.2,792.1 L877.4,791.9 L884.6,791.8 L891.9,791.6 L899.1,791.5 L906.3,791.3 L913.6,791.2 L920.8,791.0 L928.0,790.9 L935.3,790.7 L942.5,790.6 L949.7,790.4 L957.0,790.2 L964.2,790.1 L971.4,789.9 L978.7,789.8 L985.9,789.6 L993.1,789.5"/>
<path d="M132.4,826.2 L139.6,826.1 L146.8,825.9 L154.1,825.8 L161.3,825.6 L168.5,825.4 L175.8,825.3 L183.0,825.1 L190.2,825.0 L197.5,824.8 L204.7,824.6 L211.9,824.5 L219.2,824.3 L226.4,824.2 L233.6,824.0 L240.9,823.8 L248.1,823.7 L255.3,823.5 L262.6,823.4 L269.8,823.2 L277.0,823.1 L284.3,822.9 L291.5,822.7 L298.7,822.6 L306.0,822.4 L313.2,822.3 L320.4,822.1 L327.7,821.9 L334.9,821.8 L342.1,821.6 L349.4,821.5 L356.6,821.3 L363.8,821.2 L371.1,821.0 L378.3,820.8 L385.5,820.7 L392.8,820.5 L400.0,820.4 L407.2,820.2 L414.5,820.1 L421.7,819.9 L428.9,819.7 L436.2,819.6 L443.4,819.4 L450.6,819.3 L457.9,819.1 L465.1,819.0 L472.3,818.8 L479.6,818.7 L486.8,818.5 L494.0,818.3 L501.3,818.2 L508.5,818.0 L515.7,817.9 L523.0,817.7 L530.2,817.6 L537.4,817.4 L544.7,817.3 L551.9,817.1 L559.1,816.9 L566.4,816.8 L573.6,816.6 L580.8,816.5 L588.1,816.3 L595.3,816.2 L602.5,816.0 L609.8,815.9 L617.0,815.7 L624.2,815.5 L631.5,815.4 L638.7,815.2 L645.9,815.1 L653.2,814.9 L660.4,814.8 L667.6,814.6 L674.9,814.5 L682.1,814.3 L689.3,814.2 L696.6,814.0 L703.8,813.9 L711.0,813.7 L718.3,813.5 L725.5,813.4 L732.7,813.2 L740.0,813.1 L747.2,812.9 L754.4,812.8 L761.7,812.6 L768.9,812.5 L776.1,812.3 L783.4,812.2 L790.6,812.0 L797.8,811.9 L805.1,811.7 L812.3,811.6 L819.5,811.4 L826.8,811.2 L834.0,811.1 L841.2,810.9 L848.5,810.8 L855.7,810.6 L862.9,810.5 L870.2,810.3 L877.4,810.2 L884.6,810.0 L891.9,809.9 L899.1,809.7 L906.3,809.6 L913.6,809.4 L920.8,809.3 L928.0,809.1 L935.3,809.0 L942.5,808.8 L949.7,808.7 L957.0,808.5 L964.2,808.4 L971.4,808.2 L978.7,808.1 L985.9,807.9 L993.1,807.8"/>
<path d="M132.4,842.5 L139.6,842.4 L146.8,842.2 L154.1,842.1 L161.3,841.9 L168.5,841.8 L175.8,841.6 L183.0,841.5 L190.2,841.3 L197.5,841.1 L204.7,841.0 L211.9,840.8 L219.2,840.7 L226.4,840.5 L233.6,840.4 L240.9,840.2 L248.1,840.0 L255.3,839.9 L262.6,839.7 L269.8,839.6 L277.0,839.4 L284.3,839.3 L291.5,839.1 L298.7,839.0 L306.0,838.8 L313.2,838.7 L320.4,838.5 L327.7,838.3 L334.9,838.2 L342.1,838.0 L349.4,837.9 L356.6,837.7 L363.8,837.6 L371.1,837.4 L378.3,837.3 L385.5,837.1 L392.8,837.0 L400.0,836.8 L407.2,836.6 L414.5,836.5 L421.7,836.3 L428.9,836.2 L436.2,836.0 L443.4,835.9 L450.6,835.7 L457.9,835.6 L465.1,835.4 L472.3,835.3 L479.6,835.1 L486.8,835.0 L494.0,834.8 L501.3,834.7 L508.5,834.5 L515.7,834.3 L523.0,834.2 L530.2,834.0 L537.4,833.9 L544.7,833.7 L551.9,833.6 L559.1,833.4 L566.4,833.3 L573.6,833.1 L580.8,833.0 L588.1,832.8 L595.3,832.7 L602.5,832.5 L609.8,832.4 L617.0,832.2 L624.2,832.1 L631.5,831.9 L638.7,831.8 L645.9,831.6 L653.2,831.5 L660.4,831.3 L667.6,831.2 L674.9,831.0 L682.1,830.9 L689.3,830.7 L696.6,830.5 L703.8,830.4 L711.0,830.2 L718.3,830.1 L725.5,829.9 L732.7,829.8 L740.0,829.6 L747.2,829.5 L754.4,829.3 L761.7,829.2 L768.9,829.0 L776.1,828.9 L783.4,828.7 L790.6,828.6 L797.8,828.4 L805.1,828.3 L812.3,828.1 L819.5,828.0 L826.8,827.8 L834.0,827.7 L841.2,827.5 L848.5,827.4 L855.7,827.2 L862.9,827.1 L870.2,826.9 L877.4,826.8 L884.6,826.6 L891.9,826.5 L899.1,826.3 L906.3,826.2 L913.6,826.0 L920.8,825.9 L928.0,825.8 L935.3,825.6 L942.5,825.5 L949.7,825.3 L957.0,825.2 L964.2,825.0 L971.4,824.9 L978.7,824.7 L985.9,824.6 L993.1,824.4"/>
<path d="M429.0,851.3 L436.2,851.1 L443.4,851.0 L450.6,850.8 L457.9,850.7 L465.1,850.5 L472.3,850.4 L479.6,850.2 L486.8,850.1 L494.0,849.9 L501.3,849.8 L508.5,849.6 L515.7,849.5 L523.0,849.3 L530.2,849.2 L537.4,849.0 L544.7,848.9 L551.9,848.7 L559.1,848.6 L566.4,848.4 L573.6,848.3 L580.8,848.1 L588.1,848.0 L595.3,847.8 L602.5,847.7 L609.8,847.5 L617.0,847.4 L624.2,847.2 L631.5,847.1 L638.7,846.9 L645.9,846.8 L653.2,846.6 L660.4,846.5 L667.6,846.3 L674.9,846.2 L682.1,846.0 L689.3,845.9 L696.6,845.7 L703.8,845.6 L711.0,845.5 L718.3,845.3 L725.5,845.2 L732.7,845.0 L740.0,844.9 L747.2,844.7 L754.4,844.6 L761.7,844.4 L768.9,844.3 L776.1,844.1 L783.4,844.0 L790.6,843.8 L797.8,843.7 L805.1,843.5 L812.3,843.4 L819.5,843.2 L826.8,843.1 L834.0,842.9 L841.2,842.8 L848.5,842.6 L855.7,842.5 L862.9,842.4 L870.2,842.2 L877.4,842.1 L884.6,841.9 L891.9,841.8 L899.1,841.6 L906.3,841.5 L913.6,841.3 L920.8,841.2 L928.0,841.0 L935.3,840.9 L942.5,840.7 L949.7,840.6 L957.0,840.4 L964.2,840.3 L971.4,840.2 L978.7,840.0 L985.9,839.9 L993.1,839.7"/>
</g>
<g fill="none" stroke="#E7298A" stroke-width="3.7" stroke-linecap="round" stroke-linejoin="round">
<path d="M59.3,270.3 L60.0,272.3 L60.7,274.2 L61.4,276.1 L62.1,278.1 L62.8,280.0 L63.5,282.0 L64.2,283.9 L64.9,285.9 L65.6,287.8 L66.4,289.7 L67.1,291.7 L67.8,293.6 L68.5,295.6 L69.3,297.5 L70.0,299.5 L70.7,301.4 L71.5,303.3 L72.2,305.3 L72.9,307.2 L73.7,309.2 L74.4,311.1 L75.2,313.1 L75.9,315.0 L76.7,316.9 L77.4,318.9 L78.2,320.8 L78.9,322.8 L79.7,324.7 L80.4,326.7 L81.2,328.6 L82.0,330.6 L82.7,332.5 L83.5,334.4 L84.3,336.4 L85.0,338.3 L85.8,340.3 L86.6,342.2 L87.4,344.2 L88.1,346.1 L88.9,348.0 L89.7,350.0 L90.5,351.9 L91.3,353.9 L92.1,355.8 L92.9,357.8 L93.6,359.7 L94.4,361.6 L95.2,363.6 L96.0,365.5 L96.8,367.5 L97.6,369.4 L98.5,371.4 L99.3,373.3 L100.1,375.2 L100.9,377.2 L101.7,379.1 L102.5,381.1 L103.3,383.0 L104.2,385.0 L105.0,386.9 L105.8,388.8 L106.6,390.8 L107.4,392.7 L108.3,394.7 L109.1,396.6 L109.9,398.6 L110.8,400.5 L111.6,402.4 L112.5,404.4 L113.3,406.3 L114.1,408.3 L115.0,410.2 L115.8,412.2 L116.7,414.1 L117.5,416.0 L118.4,418.0 L119.3,419.9 L120.1,421.9 L121.0,423.8 L121.8,425.8 L122.7,427.7 L123.6,429.6 L124.4,431.6 L125.3,433.5 L126.2,435.5 L127.1,437.4 L127.9,439.4 L128.8,441.3 L129.7,443.2 L130.6,445.2 L131.5,447.1 L132.4,449.1 L133.2,451.0 L134.1,453.0 L135.0,454.9 L135.9,456.8 L136.8,458.8 L137.7,460.7 L138.6,462.7 L139.5,464.6 L140.4,466.6 L141.4,468.5 L142.3,470.5 L143.2,472.4 L144.1,474.3 L145.0,476.3 L145.9,478.2 L146.9,480.2 L147.8,482.1 L148.7,484.1 L149.7,486.0 L150.6,487.9 L151.5,489.9 L152.5,491.8 L153.4,493.8 L154.4,495.7 L155.3,497.7 L156.3,499.6 L157.2,501.5 L158.2,503.5 L159.1,505.4 L160.1,507.4 L161.1,509.3 L162.0,511.3 L163.0,513.2 L164.0,515.1 L164.9,517.1 L165.9,519.0 L166.9,521.0 L167.9,522.9 L168.9,524.9 L169.8,526.8 L170.8,528.7 L171.8,530.7 L172.8,532.6 L173.8,534.6 L174.8,536.5 L175.8,538.5 L176.9,540.4 L177.9,542.3 L178.9,544.3 L179.9,546.2 L180.9,548.2 L182.0,550.1 L183.0,552.1 L184.0,554.0 L185.0,555.9 L186.1,557.9 L187.1,559.8 L188.2,561.8 L189.2,563.7 L190.3,565.7 L191.3,567.6 L192.4,569.5 L193.5,571.5 L194.5,573.4 L195.6,575.4 L196.7,577.3 L197.8,579.3 L198.8,581.2 L199.9,583.1 L201.0,585.1 L202.1,587.0 L203.2,589.0 L204.3,590.9 L205.4,592.9 L206.5,594.8 L207.6,596.7 L208.8,598.7 L209.9,600.6 L211.0,602.6 L212.2,604.5 L213.3,606.5 L214.4,608.4 L215.6,610.4 L216.7,612.3 L217.9,614.2 L219.0,616.2 L220.2,618.1 L221.4,620.1 L222.6,622.0 L223.7,624.0 L224.9,625.9 L226.1,627.8 L227.3,629.8 L228.5,631.7 L229.7,633.7 L230.9,635.6 L232.1,637.6 L233.4,639.5 L234.6,641.4 L235.8,643.4 L237.1,645.3 L238.3,647.3 L239.6,649.2 L240.8,651.2 L242.1,653.1 L243.3,655.0 L244.6,657.0 L245.9,658.9 L247.2,660.9 L248.5,662.8 L249.8,664.8 L251.1,666.7 L252.4,668.6 L253.7,670.6 L255.0,672.5 L256.4,674.5 L257.7,676.4 L259.1,678.4 L260.4,680.3 L261.8,682.2 L263.1,684.2 L264.5,686.1 L265.9,688.1 L267.3,690.0 L268.7,692.0 L270.1,693.9 L271.5,695.8 L272.9,697.8 L274.4,699.7 L275.8,701.7 L277.3,703.6 L278.7,705.6 L280.2,707.5 L281.6,709.4 L283.1,711.4 L284.6,713.3 L286.1,715.3 L287.6,717.2 L289.1,719.2 L290.7,721.1 L292.2,723.0 L293.7,725.0 L295.3,726.9 L296.9,728.9 L298.4,730.8 L300.0,732.8 L301.6,734.7 L303.2,736.6 L304.9,738.6 L306.5,740.5 L308.1,742.5 L309.8,744.4 L311.4,746.4 L313.1,748.3 L314.8,750.3 L316.5,752.2 L318.2,754.1 L319.9,756.1 L321.6,758.0 L323.4,760.0 L325.2,761.9 L326.9,763.9 L328.7,765.8 L330.5,767.7 L332.3,769.7 L334.1,771.6 L336.0,773.6 L337.8,775.5 L339.7,777.5 L341.6,779.4 L343.5,781.3 L345.4,783.3 L347.3,785.2 L349.3,787.2 L351.2,789.1 L353.2,791.1 L355.2,793.0 L357.2,794.9 L359.2,796.9 L361.3,798.8 L363.3,800.8 L365.4,802.7 L367.5,804.7 L369.6,806.6 L371.7,808.5 L373.9,810.5 L376.0,812.4 L378.2,814.4 L380.4,816.3 L382.7,818.3 L384.9,820.2"/>
<path d="M423.2,850.1 L424.0,851.3"/>
<path d="M189.3,76.0 L189.9,78.0 L190.5,79.9 L191.0,81.8 L191.6,83.8 L192.2,85.7 L192.8,87.7 L193.4,89.6 L194.0,91.6 L194.5,93.5 L195.1,95.4 L195.7,97.4 L196.3,99.3 L196.9,101.3 L197.5,103.2 L198.2,105.2 L198.8,107.1 L199.4,109.0 L200.0,111.0 L200.6,112.9 L201.3,114.9 L201.9,116.8 L202.5,118.8 L203.2,120.7 L203.8,122.6 L204.4,124.6 L205.1,126.5 L205.7,128.5 L206.4,130.4 L207.1,132.4 L207.7,134.3 L208.4,136.2 L209.0,138.2 L209.7,140.1 L210.4,142.1 L211.0,144.0 L211.7,146.0 L212.4,147.9 L213.1,149.8 L213.8,151.8 L214.5,153.7 L215.1,155.7 L215.8,157.6 L216.5,159.6 L217.2,161.5 L217.9,163.4 L218.6,165.4 L219.3,167.3 L220.1,169.3 L220.8,171.2 L221.5,173.2 L222.2,175.1 L222.9,177.0 L223.7,179.0 L224.4,180.9 L225.1,182.9 L225.8,184.8 L226.6,186.8 L227.3,188.7 L228.1,190.7 L228.8,192.6 L229.5,194.5 L230.3,196.5 L231.0,198.4 L231.8,200.4 L232.5,202.3 L233.3,204.3 L234.1,206.2 L234.8,208.1 L235.6,210.1 L236.4,212.0 L237.1,214.0 L237.9,215.9 L238.7,217.9 L239.5,219.8 L240.2,221.7 L241.0,223.7 L241.8,225.6 L242.6,227.6 L243.4,229.5 L244.2,231.5 L245.0,233.4 L245.8,235.3 L246.6,237.3 L247.4,239.2 L248.2,241.2 L249.0,243.1 L249.8,245.1 L250.6,247.0 L251.4,248.9 L252.2,250.9 L253.0,252.8 L253.9,254.8 L254.7,256.7 L255.5,258.7 L256.3,260.6 L257.2,262.5 L258.0,264.5 L258.8,266.4 L259.7,268.4 L260.5,270.3 L261.4,272.3 L262.2,274.2 L263.0,276.1 L263.9,278.1 L264.7,280.0 L265.6,282.0 L266.5,283.9 L267.3,285.9 L268.2,287.8 L269.0,289.7 L269.9,291.7 L270.8,293.6 L271.6,295.6 L272.5,297.5 L273.4,299.5 L274.3,301.4 L275.1,303.3 L276.0,305.3 L276.9,307.2 L277.8,309.2 L278.7,311.1 L279.6,313.1 L280.4,315.0 L281.3,316.9 L282.2,318.9 L283.1,320.8 L284.0,322.8 L284.9,324.7 L285.8,326.7 L286.7,328.6 L287.6,330.6 L288.6,332.5 L289.5,334.4 L290.4,336.4 L291.3,338.3 L292.2,340.3 L293.2,342.2 L294.1,344.2 L295.0,346.1 L295.9,348.0 L296.9,350.0 L297.8,351.9 L298.7,353.9 L299.7,355.8 L300.6,357.8 L301.6,359.7 L302.5,361.6 L303.5,363.6 L304.4,365.5 L305.4,367.5 L306.3,369.4 L307.3,371.4 L308.2,373.3 L309.2,375.2 L310.2,377.2 L311.1,379.1 L312.1,381.1 L313.1,383.0 L314.0,385.0 L315.0,386.9 L316.0,388.8 L317.0,390.8 L318.0,392.7 L319.0,394.7 L319.9,396.6 L320.9,398.6 L321.9,400.5 L322.9,402.4 L323.9,404.4 L324.9,406.3 L325.9,408.3 L326.9,410.2 L328.0,412.2 L329.0,414.1 L330.0,416.0 L331.0,418.0 L332.0,419.9 L333.0,421.9 L334.1,423.8 L335.1,425.8 L336.1,427.7 L337.2,429.6 L338.2,431.6 L339.3,433.5 L340.3,435.5 L341.3,437.4 L342.4,439.4 L343.5,441.3 L344.5,443.2 L345.6,445.2 L346.6,447.1 L347.7,449.1 L348.8,451.0 L349.8,453.0 L350.9,454.9 L352.0,456.8 L353.1,458.8 L354.2,460.7 L355.2,462.7 L356.3,464.6 L357.4,466.6 L358.5,468.5 L359.6,470.5 L360.7,472.4 L361.8,474.3 L362.9,476.3 L364.1,478.2 L365.2,480.2 L366.3,482.1 L367.4,484.1 L368.6,486.0 L369.7,487.9 L370.8,489.9 L372.0,491.8 L373.1,493.8 L374.3,495.7 L375.4,497.7 L376.6,499.6 L377.7,501.5 L378.9,503.5 L380.1,505.4 L381.2,507.4 L382.4,509.3 L383.6,511.3 L384.8,513.2 L386.0,515.1 L387.2,517.1 L388.4,519.0 L389.6,521.0 L390.8,522.9 L392.0,524.9 L393.2,526.8 L394.4,528.7 L395.6,530.7 L396.9,532.6 L398.1,534.6 L399.3,536.5 L400.6,538.5 L401.8,540.4 L403.1,542.3 L404.3,544.3 L405.6,546.2 L406.9,548.2 L408.1,550.1 L409.4,552.1 L410.7,554.0 L412.0,555.9 L413.3,557.9 L414.6,559.8 L415.9,561.8 L417.2,563.7 L418.5,565.7 L419.8,567.6 L421.1,569.5 L422.5,571.5 L423.8,573.4 L425.2,575.4 L426.5,577.3 L427.9,579.3 L429.2,581.2 L430.6,583.1 L432.0,585.1 L433.4,587.0 L434.7,589.0 L436.1,590.9 L437.5,592.9 L438.9,594.8 L440.4,596.7 L441.8,598.7 L443.2,600.6 L444.6,602.6 L446.1,604.5 L447.5,606.5 L449.0,608.4 L450.5,610.4 L451.9,612.3 L453.4,614.2 L454.9,616.2 L456.4,618.1 L457.9,620.1 L459.4,622.0 L460.9,624.0 L462.4,625.9 L464.0,627.8 L465.5,629.8 L467.1,631.7 L468.6,633.7 L470.2,635.6 L471.8,637.6 L473.3,639.5 L474.9,641.4 L476.5,643.4 L478.1,645.3 L479.8,647.3 L481.4,649.2 L483.0,651.2 L484.7,653.1 L486.3,655.0 L488.0,657.0 L489.7,658.9 L491.4,660.9 L493.1,662.8 L494.8,664.8 L496.5,666.7 L498.2,668.6 L500.0,670.6 L501.7,672.5 L503.5,674.5 L505.2,676.4 L507.0,678.4 L508.8,680.3 L510.6,682.2 L512.5,684.2 L514.3,686.1 L516.1,688.1 L518.0,690.0 L519.8,692.0 L521.7,693.9 L523.6,695.8 L525.5,697.8 L527.4,699.7 L529.4,701.7 L531.3,703.6 L533.3,705.6 L535.2,707.5 L537.2,709.4 L539.2,711.4 L541.2,713.3 L543.3,715.3 L545.3,717.2 L547.4,719.2 L549.5,721.1 L551.5,723.0 L553.6,725.0 L555.8,726.9 L557.9,728.9 L560.1,730.8 L562.2,732.8 L564.4,734.7 L566.6,736.6 L568.8,738.6 L571.1,740.5 L573.3,742.5 L575.6,744.4 L577.9,746.4 L580.2,748.3 L582.5,750.3 L584.9,752.2 L587.2,754.1 L589.6,756.1 L592.0,758.0 L594.5,760.0 L596.9,761.9 L599.4,763.9 L601.9,765.8 L604.4,767.7 L606.9,769.7 L609.5,771.6 L612.0,773.6 L614.6,775.5 L617.3,777.5 L619.9,779.4 L622.6,781.3 L625.3,783.3 L628.0,785.2 L630.7,787.2 L633.5,789.1 L636.3,791.1 L639.1,793.0 L642.0,794.9 L644.8,796.9 L647.7,798.8 L650.7,800.8 L653.6,802.7 L656.6,804.7 L659.6,806.6 L662.7,808.5 L665.8,810.5 L668.9,812.4 L672.0,814.4 L675.2,816.3 L678.4,818.3 L681.6,820.2 L684.9,822.1 L688.2,824.1 L691.5,826.0 L694.9,828.0"/>
<path d="M739.2,850.1 L738.4,851.3"/>
<path d="M379.6,76.0 L380.3,78.0 L381.0,79.9 L381.8,81.8 L382.5,83.8 L383.2,85.7 L384.0,87.7 L384.7,89.6 L385.4,91.6 L386.2,93.5 L386.9,95.4 L387.7,97.4 L388.4,99.3 L389.2,101.3 L389.9,103.2 L390.7,105.2 L391.5,107.1 L392.2,109.0 L393.0,111.0 L393.8,112.9 L394.5,114.9 L395.3,116.8 L396.1,118.8 L396.9,120.7 L397.7,122.6 L398.4,124.6 L399.2,126.5 L400.0,128.5 L400.8,130.4 L401.6,132.4 L402.4,134.3 L403.2,136.2 L404.0,138.2 L404.8,140.1 L405.7,142.1 L406.5,144.0 L407.3,146.0 L408.1,147.9 L408.9,149.8 L409.8,151.8 L410.6,153.7 L411.4,155.7 L412.2,157.6 L413.1,159.6 L413.9,161.5 L414.8,163.4 L415.6,165.4 L416.4,167.3 L417.3,169.3 L418.1,171.2 L419.0,173.2 L419.8,175.1 L420.7,177.0 L421.6,179.0 L422.4,180.9 L423.3,182.9 L424.1,184.8 L425.0,186.8 L425.9,188.7 L426.8,190.7 L427.6,192.6 L428.5,194.5 L429.4,196.5 L430.3,198.4 L431.2,200.4 L432.0,202.3 L432.9,204.3 L433.8,206.2 L434.7,208.1 L435.6,210.1 L436.5,212.0 L437.4,214.0 L438.3,215.9 L439.2,217.9 L440.1,219.8 L441.0,221.7 L442.0,223.7 L442.9,225.6 L443.8,227.6 L444.7,229.5 L445.6,231.5 L446.6,233.4 L447.5,235.3 L448.4,237.3 L449.3,239.2 L450.3,241.2 L451.2,243.1 L452.1,245.1 L453.1,247.0 L454.0,248.9 L455.0,250.9 L455.9,252.8 L456.9,254.8 L457.8,256.7 L458.8,258.7 L459.7,260.6 L460.7,262.5 L461.6,264.5 L462.6,266.4 L463.6,268.4 L464.5,270.3 L465.5,272.3 L466.5,274.2 L467.5,276.1 L468.4,278.1 L469.4,280.0 L470.4,282.0 L471.4,283.9 L472.4,285.9 L473.4,287.8 L474.3,289.7 L475.3,291.7 L476.3,293.6 L477.3,295.6 L478.3,297.5 L479.3,299.5 L480.3,301.4 L481.3,303.3 L482.4,305.3 L483.4,307.2 L484.4,309.2 L485.4,311.1 L486.4,313.1 L487.4,315.0 L488.5,316.9 L489.5,318.9 L490.5,320.8 L491.5,322.8 L492.6,324.7 L493.6,326.7 L494.7,328.6 L495.7,330.6 L496.7,332.5 L497.8,334.4 L498.8,336.4 L499.9,338.3 L500.9,340.3 L502.0,342.2 L503.1,344.2 L504.1,346.1 L505.2,348.0 L506.3,350.0 L507.3,351.9 L508.4,353.9 L509.5,355.8 L510.6,357.8 L511.6,359.7 L512.7,361.6 L513.8,363.6 L514.9,365.5 L516.0,367.5 L517.1,369.4 L518.2,371.4 L519.3,373.3 L520.4,375.2 L521.5,377.2 L522.6,379.1 L523.7,381.1 L524.8,383.0 L526.0,385.0 L527.1,386.9 L528.2,388.8 L529.3,390.8 L530.5,392.7 L531.6,394.7 L532.7,396.6 L533.9,398.6 L535.0,400.5 L536.2,402.4 L537.3,404.4 L538.5,406.3 L539.6,408.3 L540.8,410.2 L542.0,412.2 L543.1,414.1 L544.3,416.0 L545.5,418.0 L546.7,419.9 L547.9,421.9 L549.0,423.8 L550.2,425.8 L551.4,427.7 L552.6,429.6 L553.8,431.6 L555.0,433.5 L556.2,435.5 L557.4,437.4 L558.7,439.4 L559.9,441.3 L561.1,443.2 L562.3,445.2 L563.6,447.1 L564.8,449.1 L566.0,451.0 L567.3,453.0 L568.5,454.9 L569.8,456.8 L571.0,458.8 L572.3,460.7 L573.6,462.7 L574.8,464.6 L576.1,466.6 L577.4,468.5 L578.7,470.5 L580.0,472.4 L581.3,474.3 L582.6,476.3 L583.9,478.2 L585.2,480.2 L586.5,482.1 L587.8,484.1 L589.1,486.0 L590.4,487.9 L591.8,489.9 L593.1,491.8 L594.5,493.8 L595.8,495.7 L597.2,497.7 L598.5,499.6 L599.9,501.5 L601.2,503.5 L602.6,505.4 L604.0,507.4 L605.4,509.3 L606.8,511.3 L608.2,513.2 L609.6,515.1 L611.0,517.1 L612.4,519.0 L613.8,521.0 L615.2,522.9 L616.7,524.9 L618.1,526.8 L619.5,528.7 L621.0,530.7 L622.5,532.6 L623.9,534.6 L625.4,536.5 L626.9,538.5 L628.3,540.4 L629.8,542.3 L631.3,544.3 L632.8,546.2 L634.3,548.2 L635.9,550.1 L637.4,552.1 L638.9,554.0 L640.5,555.9 L642.0,557.9 L643.6,559.8 L645.1,561.8 L646.7,563.7 L648.3,565.7 L649.9,567.6 L651.4,569.5 L653.0,571.5 L654.7,573.4 L656.3,575.4 L657.9,577.3 L659.5,579.3 L661.2,581.2 L662.8,583.1 L664.5,585.1 L666.1,587.0 L667.8,589.0 L669.5,590.9 L671.2,592.9 L672.9,594.8 L674.6,596.7 L676.3,598.7 L678.1,600.6 L679.8,602.6 L681.6,604.5 L683.3,606.5 L685.1,608.4 L686.9,610.4 L688.7,612.3 L690.5,614.2 L692.3,616.2 L694.1,618.1 L695.9,620.1 L697.8,622.0 L699.6,624.0 L701.5,625.9 L703.4,627.8 L705.2,629.8 L707.1,631.7 L709.1,633.7 L711.0,635.6 L712.9,637.6 L714.9,639.5 L716.8,641.4 L718.8,643.4 L720.8,645.3 L722.8,647.3 L724.8,649.2 L726.8,651.2 L728.8,653.1 L730.9,655.0 L732.9,657.0 L735.0,658.9 L737.1,660.9 L739.2,662.8 L741.3,664.8 L743.5,666.7 L745.6,668.6 L747.8,670.6 L750.0,672.5 L752.1,674.5 L754.4,676.4 L756.6,678.4 L758.8,680.3 L761.1,682.2 L763.3,684.2 L765.6,686.1 L767.9,688.1 L770.3,690.0 L772.6,692.0 L775.0,693.9 L777.3,695.8 L779.7,697.8 L782.1,699.7 L784.6,701.7 L787.0,703.6 L789.5,705.6 L792.0,707.5 L794.5,709.4 L797.0,711.4 L799.5,713.3 L802.1,715.3 L804.7,717.2 L807.3,719.2 L809.9,721.1 L812.6,723.0 L815.2,725.0 L817.9,726.9 L820.6,728.9 L823.4,730.8 L826.1,732.8 L828.9,734.7 L831.7,736.6 L834.5,738.6 L837.4,740.5 L840.3,742.5 L843.2,744.4 L846.1,746.4 L849.1,748.3 L852.1,750.3 L855.1,752.2 L858.1,754.1 L861.2,756.1 L864.3,758.0 L867.4,760.0 L870.5,761.9 L873.7,763.9 L876.9,765.8 L880.2,767.7 L883.5,769.7 L886.8,771.6 L890.1,773.6 L893.5,775.5 L896.9,777.5 L900.3,779.4 L903.8,781.3 L907.3,783.3 L910.8,785.2 L914.4,787.2 L918.0,789.1 L921.7,791.1 L925.4,793.0 L929.1,794.9 L932.9,796.9 L936.7,798.8 L940.5,800.8 L944.4,802.7 L948.4,804.7 L952.4,806.6 L956.4,808.5 L960.5,810.5 L964.6,812.4 L968.8,814.4 L973.0,816.3 L977.2,818.3 L981.6,820.2 L985.9,822.1 L990.4,824.1 L994.8,826.0 L999.4,828.0 L1004.0,829.9 L1008.6,831.9 L1013.3,833.8 L1018.1,835.7 L1022.9,837.7 L1027.8,839.6 L1032.8,841.6 L1037.8,843.5 L1042.9,845.5 L1048.1,847.4 L1053.3,849.3 L1058.7,851.3"/>
<path d="M572.2,76.0 L573.0,78.0 L573.8,79.9 L574.7,81.8 L575.5,83.8 L576.4,85.7 L577.2,87.7 L578.1,89.6 L578.9,91.6 L579.8,93.5 L580.6,95.4 L581.5,97.4 L582.4,99.3 L583.2,101.3 L584.1,103.2 L585.0,105.2 L585.8,107.1 L586.7,109.0 L587.6,111.0 L588.5,112.9 L589.3,114.9 L590.2,116.8 L591.1,118.8 L592.0,120.7 L592.9,122.6 L593.8,124.6 L594.7,126.5 L595.6,128.5 L596.5,130.4 L597.4,132.4 L598.3,134.3 L599.2,136.2 L600.1,138.2 L601.0,140.1 L602.0,142.1 L602.9,144.0 L603.8,146.0 L604.7,147.9 L605.6,149.8 L606.6,151.8 L607.5,153.7 L608.4,155.7 L609.4,157.6 L610.3,159.6 L611.2,161.5 L612.2,163.4 L613.1,165.4 L614.1,167.3 L615.0,169.3 L616.0,171.2 L616.9,173.2 L617.9,175.1 L618.8,177.0 L619.8,179.0 L620.7,180.9 L621.7,182.9 L622.7,184.8 L623.6,186.8 L624.6,188.7 L625.6,190.7 L626.5,192.6 L627.5,194.5 L628.5,196.5 L629.5,198.4 L630.5,200.4 L631.4,202.3 L632.4,204.3 L633.4,206.2 L634.4,208.1 L635.4,210.1 L636.4,212.0 L637.4,214.0 L638.4,215.9 L639.4,217.9 L640.4,219.8 L641.4,221.7 L642.4,223.7 L643.4,225.6 L644.4,227.6 L645.5,229.5 L646.5,231.5 L647.5,233.4 L648.5,235.3 L649.5,237.3 L650.6,239.2 L651.6,241.2 L652.6,243.1 L653.7,245.1 L654.7,247.0 L655.7,248.9 L656.8,250.9 L657.8,252.8 L658.9,254.8 L659.9,256.7 L661.0,258.7 L662.0,260.6 L663.1,262.5 L664.1,264.5 L665.2,266.4 L666.3,268.4 L667.3,270.3 L668.4,272.3 L669.5,274.2 L670.5,276.1 L671.6,278.1 L672.7,280.0 L673.8,282.0 L674.8,283.9 L675.9,285.9 L677.0,287.8 L678.1,289.7 L679.2,291.7 L680.3,293.6 L681.4,295.6 L682.5,297.5 L683.6,299.5 L684.7,301.4 L685.8,303.3 L686.9,305.3 L688.0,307.2 L689.2,309.2 L690.3,311.1 L691.4,313.1 L692.5,315.0 L693.7,316.9 L694.8,318.9 L695.9,320.8 L697.1,322.8 L698.2,324.7 L699.3,326.7 L700.5,328.6 L701.6,330.6 L702.8,332.5 L703.9,334.4 L705.1,336.4 L706.3,338.3 L707.4,340.3 L708.6,342.2 L709.8,344.2 L710.9,346.1 L712.1,348.0 L713.3,350.0 L714.5,351.9 L715.7,353.9 L716.9,355.8 L718.0,357.8 L719.2,359.7 L720.4,361.6 L721.6,363.6 L722.9,365.5 L724.1,367.5 L725.3,369.4 L726.5,371.4 L727.7,373.3 L728.9,375.2 L730.2,377.2 L731.4,379.1 L732.6,381.1 L733.9,383.0 L735.1,385.0 L736.4,386.9 L737.6,388.8 L738.9,390.8 L740.1,392.7 L741.4,394.7 L742.7,396.6 L743.9,398.6 L745.2,400.5 L746.5,402.4 L747.8,404.4 L749.1,406.3 L750.4,408.3 L751.7,410.2 L753.0,412.2 L754.3,414.1 L755.6,416.0 L756.9,418.0 L758.2,419.9 L759.5,421.9 L760.9,423.8 L762.2,425.8 L763.5,427.7 L764.9,429.6 L766.2,431.6 L767.6,433.5 L768.9,435.5 L770.3,437.4 L771.6,439.4 L773.0,441.3 L774.4,443.2 L775.8,445.2 L777.2,447.1 L778.6,449.1 L780.0,451.0 L781.4,453.0 L782.8,454.9 L784.2,456.8 L785.6,458.8 L787.0,460.7 L788.5,462.7 L789.9,464.6 L791.3,466.6 L792.8,468.5 L794.2,470.5 L795.7,472.4 L797.2,474.3 L798.6,476.3 L800.1,478.2 L801.6,480.2 L803.1,482.1 L804.6,484.1 L806.1,486.0 L807.6,487.9 L809.1,489.9 L810.6,491.8 L812.2,493.8 L813.7,495.7 L815.3,497.7 L816.8,499.6 L818.4,501.5 L819.9,503.5 L821.5,505.4 L823.1,507.4 L824.7,509.3 L826.3,511.3 L827.9,513.2 L829.5,515.1 L831.1,517.1 L832.7,519.0 L834.4,521.0 L836.0,522.9 L837.7,524.9 L839.3,526.8 L841.0,528.7 L842.7,530.7 L844.3,532.6 L846.0,534.6 L847.7,536.5 L849.4,538.5 L851.2,540.4 L852.9,542.3 L854.6,544.3 L856.4,546.2 L858.1,548.2 L859.9,550.1 L861.6,552.1 L863.4,554.0 L865.2,555.9 L867.0,557.9 L868.8,559.8 L870.7,561.8 L872.5,563.7 L874.3,565.7 L876.2,567.6 L878.1,569.5 L879.9,571.5 L881.8,573.4 L883.7,575.4 L885.6,577.3 L887.5,579.3 L889.5,581.2 L891.4,583.1 L893.4,585.1 L895.3,587.0 L897.3,589.0 L899.3,590.9 L901.3,592.9 L903.3,594.8 L905.3,596.7 L907.4,598.7 L909.4,600.6 L911.5,602.6 L913.6,604.5 L915.7,606.5 L917.8,608.4 L919.9,610.4 L922.0,612.3 L924.2,614.2 L926.3,616.2 L928.5,618.1 L930.7,620.1 L932.9,622.0 L935.1,624.0 L937.3,625.9 L939.6,627.8 L941.9,629.8 L944.1,631.7 L946.4,633.7 L948.8,635.6 L951.1,637.6 L953.4,639.5 L955.8,641.4 L958.2,643.4 L960.6,645.3 L963.0,647.3 L965.4,649.2 L967.9,651.2 L970.4,653.1 L972.9,655.0 L975.4,657.0 L977.9,658.9 L980.4,660.9 L983.0,662.8 L985.6,664.8 L988.2,666.7 L990.8,668.6 L993.5,670.6 L996.2,672.5 L998.9,674.5 L1001.6,676.4 L1004.3,678.4 L1007.1,680.3 L1009.9,682.2 L1012.7,684.2 L1015.5,686.1 L1018.4,688.1 L1021.2,690.0 L1024.1,692.0 L1027.1,693.9 L1030.0,695.8 L1033.0,697.8 L1036.0,699.7 L1039.1,701.7 L1042.1,703.6 L1045.2,705.6 L1048.4,707.5 L1051.5,709.4 L1054.7,711.4 L1057.9,713.3 L1061.1,715.3 L1064.4,717.2 L1067.7,719.2 L1071.1,721.1 L1074.4,723.0 L1077.8,725.0 L1081.3,726.9 L1084.8,728.9 L1088.3,730.8 L1091.8,732.8 L1095.4,734.7 L1099.0,736.6 L1102.7,738.6 L1106.4,740.5 L1110.1,742.5 L1113.9,744.4 L1117.8,746.4 L1121.6,748.3 L1125.5,750.3 L1129.5,752.2 L1133.5,754.1 L1137.6,756.1 L1141.7,758.0"/>
<path d="M771.8,76.0 L772.7,78.0 L773.7,79.9 L774.6,81.8 L775.5,83.8 L776.4,85.7 L777.3,87.7 L778.2,89.6 L779.2,91.6 L780.1,93.5 L781.0,95.4 L782.0,97.4 L782.9,99.3 L783.8,101.3 L784.8,103.2 L785.7,105.2 L786.6,107.1 L787.6,109.0 L788.5,111.0 L789.5,112.9 L790.4,114.9 L791.4,116.8 L792.3,118.8 L793.3,120.7 L794.3,122.6 L795.2,124.6 L796.2,126.5 L797.1,128.5 L798.1,130.4 L799.1,132.4 L800.1,134.3 L801.0,136.2 L802.0,138.2 L803.0,140.1 L804.0,142.1 L805.0,144.0 L805.9,146.0 L806.9,147.9 L807.9,149.8 L808.9,151.8 L809.9,153.7 L810.9,155.7 L811.9,157.6 L812.9,159.6 L813.9,161.5 L814.9,163.4 L815.9,165.4 L816.9,167.3 L817.9,169.3 L818.9,171.2 L820.0,173.2 L821.0,175.1 L822.0,177.0 L823.0,179.0 L824.1,180.9 L825.1,182.9 L826.1,184.8 L827.1,186.8 L828.2,188.7 L829.2,190.7 L830.2,192.6 L831.3,194.5 L832.3,196.5 L833.4,198.4 L834.4,200.4 L835.5,202.3 L836.5,204.3 L837.6,206.2 L838.6,208.1 L839.7,210.1 L840.8,212.0 L841.8,214.0 L842.9,215.9 L844.0,217.9 L845.0,219.8 L846.1,221.7 L847.2,223.7 L848.3,225.6 L849.3,227.6 L850.4,229.5 L851.5,231.5 L852.6,233.4 L853.7,235.3 L854.8,237.3 L855.9,239.2 L857.0,241.2 L858.1,243.1 L859.2,245.1 L860.3,247.0 L861.4,248.9 L862.5,250.9 L863.6,252.8 L864.8,254.8 L865.9,256.7 L867.0,258.7 L868.1,260.6 L869.3,262.5 L870.4,264.5 L871.5,266.4 L872.7,268.4 L873.8,270.3 L875.0,272.3 L876.1,274.2 L877.3,276.1 L878.4,278.1 L879.6,280.0 L880.7,282.0 L881.9,283.9 L883.1,285.9 L884.2,287.8 L885.4,289.7 L886.6,291.7 L887.7,293.6 L888.9,295.6 L890.1,297.5 L891.3,299.5 L892.5,301.4 L893.7,303.3 L894.9,305.3 L896.1,307.2 L897.3,309.2 L898.5,311.1 L899.7,313.1 L900.9,315.0 L902.2,316.9 L903.4,318.9 L904.6,320.8 L905.8,322.8 L907.1,324.7 L908.3,326.7 L909.5,328.6 L910.8,330.6 L912.0,332.5 L913.3,334.4 L914.5,336.4 L915.8,338.3 L917.1,340.3 L918.3,342.2 L919.6,344.2 L920.9,346.1 L922.2,348.0 L923.5,350.0 L924.8,351.9 L926.0,353.9 L927.3,355.8 L928.6,357.8 L930.0,359.7 L931.3,361.6 L932.6,363.6 L933.9,365.5 L935.2,367.5 L936.6,369.4 L937.9,371.4 L939.2,373.3 L940.6,375.2 L941.9,377.2 L943.3,379.1 L944.6,381.1 L946.0,383.0 L947.4,385.0 L948.8,386.9 L950.1,388.8 L951.5,390.8 L952.9,392.7 L954.3,394.7 L955.7,396.6 L957.1,398.6 L958.5,400.5 L959.9,402.4 L961.4,404.4 L962.8,406.3 L964.2,408.3 L965.7,410.2 L967.1,412.2 L968.6,414.1 L970.0,416.0 L971.5,418.0 L973.0,419.9 L974.4,421.9 L975.9,423.8 L977.4,425.8 L978.9,427.7 L980.4,429.6 L981.9,431.6 L983.5,433.5 L985.0,435.5 L986.5,437.4 L988.0,439.4 L989.6,441.3 L991.1,443.2 L992.7,445.2 L994.3,447.1 L995.8,449.1 L997.4,451.0 L999.0,453.0 L1000.6,454.9 L1002.2,456.8 L1003.8,458.8 L1005.4,460.7 L1007.1,462.7 L1008.7,464.6 L1010.3,466.6 L1012.0,468.5 L1013.6,470.5 L1015.3,472.4 L1017.0,474.3 L1018.7,476.3 L1020.4,478.2 L1022.1,480.2 L1023.8,482.1 L1025.5,484.1 L1027.2,486.0 L1029.0,487.9 L1030.7,489.9 L1032.5,491.8 L1034.2,493.8 L1036.0,495.7 L1037.8,497.7 L1039.6,499.6 L1041.4,501.5 L1043.2,503.5 L1045.0,505.4 L1046.9,507.4 L1048.7,509.3 L1050.6,511.3 L1052.5,513.2 L1054.3,515.1 L1056.2,517.1 L1058.1,519.0 L1060.1,521.0 L1062.0,522.9 L1063.9,524.9 L1065.9,526.8 L1067.8,528.7 L1069.8,530.7 L1071.8,532.6 L1073.8,534.6 L1075.8,536.5 L1077.8,538.5 L1079.9,540.4 L1081.9,542.3 L1084.0,544.3 L1086.1,546.2 L1088.2,548.2 L1090.3,550.1 L1092.4,552.1 L1094.5,554.0 L1096.7,555.9 L1098.8,557.9 L1101.0,559.8 L1103.2,561.8 L1105.4,563.7 L1107.6,565.7 L1109.9,567.6 L1112.1,569.5 L1114.4,571.5 L1116.7,573.4 L1119.0,575.4 L1121.3,577.3 L1123.7,579.3 L1126.0,581.2 L1128.4,583.1 L1130.8,585.1 L1133.2,587.0 L1135.6,589.0 L1138.1,590.9 L1140.6,592.9 L1143.1,594.8"/>
</g>
<text x="405.1" y="835.8" transform="rotate(36.6 405.1 835.8)" font-size="28.7" fill="#E7298A" text-anchor="middle" dominant-baseline="central">10</text>
<text x="717.8" y="839.5" transform="rotate(24.8 717.8 839.5)" font-size="28.7" fill="#E7298A" text-anchor="middle" dominant-baseline="central">15</text>
</g>
<rect x="144.0" y="45.0" width="837.5" height="837.3" fill="none" stroke="#000" stroke-width="3.3"/>
<path d="M175.0,882.3 V907.7 M368.9,882.3 V907.7 M562.8,882.3 V907.7 M756.6,882.3 V907.7 M950.5,882.3 V907.7 M144.0,851.3 H118.4 M144.0,696.2 H118.4 M144.0,541.2 H118.4 M144.0,386.1 H118.4 M144.0,231.1 H118.4 M144.0,76.0 H118.4" stroke="#000" stroke-width="3.1" stroke-linecap="round" fill="none"/>
<text x="175.0" y="946.0" font-size="41" text-anchor="middle">15</text>
<text x="368.9" y="946.0" font-size="41" text-anchor="middle">20</text>
<text x="562.8" y="946.0" font-size="41" text-anchor="middle">25</text>
<text x="756.6" y="946.0" font-size="41" text-anchor="middle">30</text>
<text x="950.5" y="946.0" font-size="41" text-anchor="middle">35</text>
<text x="109.7" y="851.3" font-size="41" text-anchor="middle" transform="rotate(-90 109.7 851.3)">0</text>
<text x="109.7" y="696.2" font-size="41" text-anchor="middle" transform="rotate(-90 109.7 696.2)">20</text>
<text x="109.7" y="541.2" font-size="41" text-anchor="middle" transform="rotate(-90 109.7 541.2)">40</text>
<text x="109.7" y="386.1" font-size="41" text-anchor="middle" transform="rotate(-90 109.7 386.1)">60</text>
<text x="109.7" y="231.1" font-size="41" text-anchor="middle" transform="rotate(-90 109.7 231.1)">80</text>
<text x="109.7" y="76.0" font-size="41" text-anchor="middle" transform="rotate(-90 109.7 76.0)">100</text>
<text x="562.8" y="995.1" font-size="41" text-anchor="middle">Temperature [°C]</text>
<text x="60.6" y="463.6" font-size="41" text-anchor="middle" transform="rotate(-90 60.6 463.6)">Relative humidity [%]</text>
<text x="562.8" y="34.9" font-size="49.2" text-anchor="middle">ERA-Interim</text>
<text x="-3.4" y="34.5" font-size="49.2">(a)</text>
<defs><clipPath id="clip1"><rect x="1177.5" y="45.0" width="837.5" height="837.3"/></clipPath></defs>
<g clip-path="url(#clip1)">
<g fill="#000"><circle cx="1594.6" cy="534.9" r="9.5"/><circle cx="1629.3" cy="530.2" r="9.5"/><circle cx="1459.5" cy="663.3" r="9.5"/><circle cx="1494.5" cy="672.1" r="9.5"/><circle cx="1509.4" cy="225.4" r="9.5"/><circle cx="1507.6" cy="245.5" r="9.5"/><circle cx="1499.5" cy="256.4" r="9.5"/><circle cx="1516.4" cy="260.4" r="9.5"/><circle cx="1534.5" cy="244.4" r="9.5"/><circle cx="1515.5" cy="281.5" r="9.5"/><circle cx="1527.3" cy="290.3" r="9.5"/><circle cx="1574.5" cy="297.4" r="9.5"/><circle cx="1544.3" cy="319.5" r="9.5"/><circle cx="1562.4" cy="312.5" r="9.5"/><circle cx="1558.6" cy="328.4" r="9.5"/><circle cx="1589.4" cy="311.1" r="9.5"/><circle cx="1578.3" cy="326.3" r="9.5"/><circle cx="1589.1" cy="325.7" r="9.5"/><circle cx="1588.4" cy="341.3" r="9.5"/><circle cx="1598.6" cy="339.2" r="9.5"/><circle cx="1594.6" cy="352.8" r="9.5"/><circle cx="1570.4" cy="349.4" r="9.5"/><circle cx="1544.6" cy="352.1" r="9.5"/><circle cx="1519.6" cy="342.6" r="9.5"/><circle cx="1613.6" cy="357.6" r="9.5"/><circle cx="1596.6" cy="377.3" r="9.5"/><circle cx="1603.4" cy="380.7" r="9.5"/><circle cx="1629.2" cy="382.7" r="9.5"/><circle cx="1616.3" cy="396.3" r="9.5"/><circle cx="1625.1" cy="401.0" r="9.5"/><circle cx="1578.5" cy="391.5" r="9.5"/><circle cx="1563.3" cy="415.3" r="9.5"/><circle cx="1596.2" cy="415.3" r="9.5"/><circle cx="1624.4" cy="413.3" r="9.5"/><circle cx="1625.1" cy="426.2" r="9.5"/><circle cx="1581.7" cy="427.5" r="9.5"/><circle cx="1595.9" cy="424.1" r="9.5"/><circle cx="1605.4" cy="430.3" r="9.5"/><circle cx="1602.7" cy="451.3" r="9.5"/><circle cx="1609.5" cy="454.0" r="9.5"/><circle cx="1634.6" cy="445.9" r="9.5"/><circle cx="1663.2" cy="435.0" r="9.5"/><circle cx="1638.7" cy="460.0" r="9.5"/><circle cx="1593.0" cy="429.9" r="9.5"/><circle cx="1667.7" cy="447.5" r="9.5"/><circle cx="1637.8" cy="473.4" r="9.5"/><circle cx="1640.5" cy="478.8" r="9.5"/><circle cx="1617.4" cy="478.1" r="9.5"/><circle cx="1605.2" cy="485.6" r="9.5"/><circle cx="1677.2" cy="488.3" r="9.5"/><circle cx="1692.1" cy="495.1" r="9.5"/><circle cx="1660.2" cy="497.1" r="9.5"/><circle cx="1625.6" cy="509.4" r="9.5"/><circle cx="1646.0" cy="519.5" r="9.5"/><circle cx="1662.3" cy="511.4" r="9.5"/><circle cx="1681.3" cy="507.3" r="9.5"/><circle cx="1708.4" cy="510.0" r="9.5"/><circle cx="1716.6" cy="512.7" r="9.5"/><circle cx="1675.2" cy="525.0" r="9.5"/><circle cx="1646.0" cy="537.2" r="9.5"/><circle cx="1689.4" cy="516.8" r="9.5"/><circle cx="1703.0" cy="525.0" r="9.5"/><circle cx="1712.5" cy="530.4" r="9.5"/><circle cx="1726.1" cy="539.9" r="9.5"/><circle cx="1760.1" cy="563.0" r="9.5"/><circle cx="1768.2" cy="583.4" r="9.5"/><circle cx="1764.1" cy="595.6" r="9.5"/><circle cx="1784.5" cy="598.3" r="9.5"/><circle cx="1770.9" cy="611.9" r="9.5"/><circle cx="1777.7" cy="624.1" r="9.5"/><circle cx="1788.6" cy="624.1" r="9.5"/><circle cx="1764.1" cy="641.8" r="9.5"/><circle cx="1784.5" cy="647.2" r="9.5"/><circle cx="1795.4" cy="640.4" r="9.5"/><circle cx="1771.2" cy="593.0" r="9.5"/><circle cx="1771.2" cy="622.9" r="9.5"/><circle cx="1771.2" cy="637.8" r="9.5"/><circle cx="1771.2" cy="652.7" r="9.5"/><circle cx="1785.4" cy="652.7" r="9.5"/><circle cx="1799.7" cy="652.7" r="9.5"/><circle cx="1814.0" cy="652.7" r="9.5"/><circle cx="1765.0" cy="666.3" r="9.5"/><circle cx="1784.7" cy="639.2" r="9.5"/><circle cx="1807.8" cy="639.2" r="9.5"/><circle cx="1818.7" cy="643.2" r="9.5"/><circle cx="1820.1" cy="662.3" r="9.5"/><circle cx="1799.7" cy="669.0" r="9.5"/><circle cx="1786.1" cy="662.3" r="9.5"/><circle cx="1700.0" cy="495.5" r="9.5"/><circle cx="1761.1" cy="600.1" r="9.5"/><circle cx="1760.4" cy="607.2" r="9.5"/><circle cx="1774.0" cy="607.2" r="9.5"/><circle cx="1594.4" cy="540.0" r="9.5"/><circle cx="1630.4" cy="548.2" r="9.5"/><circle cx="1637.2" cy="563.1" r="9.5"/><circle cx="1660.3" cy="546.8" r="9.5"/><circle cx="1669.8" cy="550.9" r="9.5"/><circle cx="1599.2" cy="559.0" r="9.5"/><circle cx="1593.7" cy="569.9" r="9.5"/><circle cx="1592.4" cy="578.0" r="9.5"/><circle cx="1607.3" cy="584.8" r="9.5"/><circle cx="1616.8" cy="574.0" r="9.5"/><circle cx="1637.2" cy="572.6" r="9.5"/><circle cx="1642.6" cy="584.8" r="9.5"/><circle cx="1663.0" cy="572.6" r="9.5"/><circle cx="1675.2" cy="579.4" r="9.5"/><circle cx="1690.2" cy="553.6" r="9.5"/><circle cx="1703.8" cy="546.8" r="9.5"/><circle cx="1717.3" cy="557.7" r="9.5"/><circle cx="1730.9" cy="548.2" r="9.5"/><circle cx="1744.5" cy="567.2" r="9.5"/><circle cx="1752.7" cy="591.6" r="9.5"/><circle cx="1717.3" cy="574.0" r="9.5"/><circle cx="1737.7" cy="580.8" r="9.5"/><circle cx="1690.2" cy="574.0" r="9.5"/><circle cx="1703.8" cy="580.8" r="9.5"/><circle cx="1607.3" cy="593.0" r="9.5"/><circle cx="1595.1" cy="599.8" r="9.5"/><circle cx="1586.9" cy="607.9" r="9.5"/><circle cx="1604.6" cy="612.0" r="9.5"/><circle cx="1618.2" cy="598.4" r="9.5"/><circle cx="1629.0" cy="591.6" r="9.5"/><circle cx="1649.4" cy="591.6" r="9.5"/><circle cx="1660.3" cy="597.1" r="9.5"/><circle cx="1676.6" cy="591.6" r="9.5"/><circle cx="1690.2" cy="597.1" r="9.5"/><circle cx="1625.0" cy="610.6" r="9.5"/><circle cx="1639.9" cy="610.6" r="9.5"/><circle cx="1657.6" cy="612.0" r="9.5"/><circle cx="1676.6" cy="607.9" r="9.5"/><circle cx="1697.0" cy="602.5" r="9.5"/><circle cx="1711.9" cy="601.1" r="9.5"/><circle cx="1730.9" cy="597.1" r="9.5"/><circle cx="1744.5" cy="605.2" r="9.5"/><circle cx="1758.1" cy="614.7" r="9.5"/><circle cx="1584.2" cy="624.2" r="9.5"/><circle cx="1597.8" cy="621.5" r="9.5"/><circle cx="1615.5" cy="621.5" r="9.5"/><circle cx="1635.8" cy="618.8" r="9.5"/><circle cx="1656.2" cy="621.5" r="9.5"/><circle cx="1676.6" cy="618.8" r="9.5"/><circle cx="1697.0" cy="616.1" r="9.5"/><circle cx="1717.3" cy="616.1" r="9.5"/><circle cx="1737.7" cy="621.5" r="9.5"/><circle cx="1588.3" cy="635.1" r="9.5"/><circle cx="1589.7" cy="644.6" r="9.5"/><circle cx="1607.3" cy="637.8" r="9.5"/><circle cx="1622.3" cy="637.8" r="9.5"/><circle cx="1637.2" cy="635.1" r="9.5"/><circle cx="1653.5" cy="635.1" r="9.5"/><circle cx="1671.2" cy="632.4" r="9.5"/><circle cx="1690.2" cy="626.9" r="9.5"/><circle cx="1703.8" cy="624.2" r="9.5"/><circle cx="1720.1" cy="635.1" r="9.5"/><circle cx="1741.8" cy="635.1" r="9.5"/><circle cx="1755.4" cy="648.7" r="9.5"/><circle cx="1592.4" cy="655.5" r="9.5"/><circle cx="1615.5" cy="656.8" r="9.5"/><circle cx="1630.4" cy="646.0" r="9.5"/><circle cx="1650.8" cy="651.4" r="9.5"/><circle cx="1669.8" cy="652.7" r="9.5"/><circle cx="1686.1" cy="648.7" r="9.5"/><circle cx="1701.0" cy="643.2" r="9.5"/><circle cx="1717.3" cy="651.4" r="9.5"/><circle cx="1733.6" cy="652.7" r="9.5"/><circle cx="1752.7" cy="662.3" r="9.5"/><circle cx="1611.4" cy="670.4" r="9.5"/><circle cx="1630.4" cy="675.8" r="9.5"/><circle cx="1644.0" cy="677.2" r="9.5"/><circle cx="1658.9" cy="670.4" r="9.5"/><circle cx="1618.2" cy="682.6" r="9.5"/><circle cx="1627.7" cy="689.4" r="9.5"/><circle cx="1645.4" cy="688.1" r="9.5"/><circle cx="1656.2" cy="682.6" r="9.5"/><circle cx="1673.9" cy="686.7" r="9.5"/><circle cx="1690.2" cy="690.8" r="9.5"/><circle cx="1684.7" cy="674.5" r="9.5"/><circle cx="1699.7" cy="677.2" r="9.5"/><circle cx="1711.9" cy="667.7" r="9.5"/><circle cx="1722.8" cy="670.4" r="9.5"/><circle cx="1736.4" cy="669.0" r="9.5"/><circle cx="1748.6" cy="679.9" r="9.5"/><circle cx="1729.6" cy="696.2" r="9.5"/><circle cx="1715.3" cy="705.7" r="9.5"/><circle cx="1550.9" cy="558.3" r="9.5"/><circle cx="1559.8" cy="549.5" r="9.5"/><circle cx="1574.0" cy="552.9" r="9.5"/><circle cx="1547.5" cy="584.8" r="9.5"/><circle cx="1559.8" cy="587.5" r="9.5"/><circle cx="1572.7" cy="592.3" r="9.5"/><circle cx="1533.3" cy="608.6" r="9.5"/><circle cx="1552.3" cy="603.8" r="9.5"/><circle cx="1548.2" cy="622.9" r="9.5"/><circle cx="1557.1" cy="625.6" r="9.5"/><circle cx="1563.8" cy="635.1" r="9.5"/><circle cx="1505.4" cy="622.2" r="9.5"/><circle cx="1546.9" cy="662.3" r="9.5"/><circle cx="1569.3" cy="659.5" r="9.5"/><circle cx="1569.3" cy="670.4" r="9.5"/><circle cx="1583.5" cy="669.0" r="9.5"/><circle cx="1600.5" cy="703.0" r="9.5"/><circle cx="1676.6" cy="553.6" r="9.5"/><circle cx="1707.8" cy="553.6" r="9.5"/><circle cx="1723.5" cy="553.6" r="9.5"/><circle cx="1739.1" cy="553.6" r="9.5"/><circle cx="1754.7" cy="553.6" r="9.5"/><circle cx="1602.6" cy="567.2" r="9.5"/><circle cx="1618.2" cy="567.2" r="9.5"/><circle cx="1633.8" cy="567.2" r="9.5"/><circle cx="1670.5" cy="567.2" r="9.5"/><circle cx="1686.1" cy="567.2" r="9.5"/><circle cx="1701.7" cy="567.2" r="9.5"/><circle cx="1717.3" cy="567.2" r="9.5"/><circle cx="1733.0" cy="567.2" r="9.5"/><circle cx="1597.8" cy="580.8" r="9.5"/><circle cx="1613.4" cy="580.8" r="9.5"/><circle cx="1629.0" cy="580.8" r="9.5"/><circle cx="1657.6" cy="580.8" r="9.5"/><circle cx="1688.8" cy="580.8" r="9.5"/><circle cx="1720.1" cy="580.8" r="9.5"/><circle cx="1751.3" cy="580.8" r="9.5"/><circle cx="1707.8" cy="594.3" r="9.5"/><circle cx="1723.5" cy="594.3" r="9.5"/><circle cx="1739.1" cy="594.3" r="9.5"/><circle cx="1592.4" cy="607.9" r="9.5"/><circle cx="1608.0" cy="607.9" r="9.5"/><circle cx="1670.5" cy="607.9" r="9.5"/><circle cx="1686.1" cy="607.9" r="9.5"/><circle cx="1701.7" cy="607.9" r="9.5"/><circle cx="1717.3" cy="607.9" r="9.5"/><circle cx="1733.0" cy="607.9" r="9.5"/><circle cx="1610.0" cy="621.5" r="9.5"/><circle cx="1625.7" cy="621.5" r="9.5"/><circle cx="1641.3" cy="621.5" r="9.5"/><circle cx="1688.1" cy="621.5" r="9.5"/><circle cx="1719.4" cy="621.5" r="9.5"/><circle cx="1750.6" cy="621.5" r="9.5"/><circle cx="1646.7" cy="635.1" r="9.5"/><circle cx="1662.3" cy="635.1" r="9.5"/><circle cx="1678.0" cy="635.1" r="9.5"/><circle cx="1697.0" cy="635.1" r="9.5"/><circle cx="1712.6" cy="635.1" r="9.5"/><circle cx="1728.2" cy="635.1" r="9.5"/><circle cx="1618.9" cy="648.7" r="9.5"/><circle cx="1699.7" cy="648.7" r="9.5"/><circle cx="1745.2" cy="648.7" r="9.5"/><circle cx="1606.0" cy="662.3" r="9.5"/><circle cx="1621.6" cy="662.3" r="9.5"/><circle cx="1652.1" cy="662.3" r="9.5"/><circle cx="1667.8" cy="662.3" r="9.5"/><circle cx="1683.4" cy="662.3" r="9.5"/><circle cx="1699.0" cy="662.3" r="9.5"/><circle cx="1714.6" cy="662.3" r="9.5"/><circle cx="1730.3" cy="662.3" r="9.5"/><circle cx="1745.9" cy="662.3" r="9.5"/><circle cx="1618.9" cy="675.8" r="9.5"/><circle cx="1650.1" cy="675.8" r="9.5"/><circle cx="1715.3" cy="675.8" r="9.5"/><circle cx="1730.9" cy="675.8" r="9.5"/><circle cx="1619.5" cy="688.1" r="9.5"/><circle cx="1635.2" cy="688.1" r="9.5"/><circle cx="1650.8" cy="688.1" r="9.5"/><circle cx="1685.4" cy="688.1" r="9.5"/></g>
<g fill="#f00"><circle cx="1640.7" cy="389.5" r="9.5"/><circle cx="1670.6" cy="440.4" r="9.5"/><circle cx="1678.1" cy="455.4" r="9.5"/><circle cx="1683.3" cy="451.6" r="9.5"/><circle cx="1684.0" cy="462.5" r="9.5"/><circle cx="1700.3" cy="463.8" r="9.5"/><circle cx="1703.7" cy="481.5" r="9.5"/><circle cx="1732.2" cy="509.4" r="9.5"/><circle cx="1750.6" cy="497.8" r="9.5"/><circle cx="1746.5" cy="508.7" r="9.5"/><circle cx="1768.2" cy="511.4" r="9.5"/><circle cx="1738.3" cy="527.0" r="9.5"/><circle cx="1756.7" cy="533.8" r="9.5"/><circle cx="1766.2" cy="537.2" r="9.5"/><circle cx="1746.5" cy="544.7" r="9.5"/><circle cx="1776.4" cy="567.1" r="9.5"/><circle cx="1783.2" cy="568.4" r="9.5"/><circle cx="1779.1" cy="579.3" r="9.5"/><circle cx="1788.6" cy="582.0" r="9.5"/></g>
<g fill="none" stroke="#7570B3" stroke-width="3.7" stroke-linecap="round" stroke-linejoin="round">
<path d="M1165.9,218.9 L1173.1,218.3 L1180.3,217.7 L1187.6,217.2 L1194.8,216.6 L1202.0,216.0 L1209.3,215.5 L1216.5,214.9 L1223.7,214.3 L1231.0,213.8 L1238.2,213.2 L1245.4,212.6 L1252.7,212.1 L1259.9,211.5 L1267.1,210.9 L1274.4,210.3 L1281.6,209.8 L1288.8,209.2 L1296.1,208.6 L1303.3,208.1 L1310.5,207.5 L1317.8,206.9 L1325.0,206.4 L1332.2,205.8 L1339.5,205.2 L1346.7,204.7 L1353.9,204.1 L1361.2,203.5 L1368.4,203.0 L1375.6,202.4 L1382.9,201.8 L1390.1,201.2 L1397.3,200.7 L1404.6,200.1 L1411.8,199.5 L1419.0,199.0 L1426.3,198.4 L1433.5,197.8 L1440.7,197.3 L1448.0,196.7 L1455.2,196.1 L1462.4,195.6 L1469.7,195.0 L1476.9,194.4 L1484.1,193.9 L1491.4,193.3 L1498.6,192.7 L1505.8,192.1 L1513.1,191.6 L1520.3,191.0 L1527.5,190.4 L1534.8,189.9 L1542.0,189.3 L1549.2,188.7 L1556.5,188.2 L1563.7,187.6 L1570.9,187.0 L1578.2,186.5 L1585.4,185.9 L1592.6,185.3 L1599.9,184.8 L1607.1,184.2 L1614.3,183.6 L1621.6,183.0 L1628.8,182.5 L1636.0,181.9 L1643.3,181.3 L1650.5,180.8 L1657.7,180.2 L1665.0,179.6 L1672.2,179.1 L1679.4,178.5 L1686.7,177.9 L1693.9,177.4 L1701.1,176.8 L1708.4,176.2 L1715.6,175.6 L1722.8,175.1 L1730.1,174.5 L1737.3,173.9 L1744.5,173.4 L1751.8,172.8 L1759.0,172.2 L1766.2,171.7 L1773.5,171.1 L1780.7,170.5 L1787.9,170.0 L1795.2,169.4 L1802.4,168.8 L1809.6,168.3 L1816.9,167.7 L1824.1,167.1 L1831.3,166.5 L1838.6,166.0 L1845.8,165.4 L1853.0,164.8 L1860.3,164.3 L1867.5,163.7 L1874.7,163.1 L1882.0,162.6 L1889.2,162.0 L1896.4,161.4 L1903.7,160.9 L1910.9,160.3 L1918.1,159.7 L1925.4,159.2 L1932.6,158.6 L1939.8,158.0 L1947.1,157.4 L1954.3,156.9 L1961.5,156.3 L1968.8,155.7 L1976.0,155.2 L1983.2,154.6 L1990.5,154.0 L1997.7,153.5 L2004.9,152.9 L2012.2,152.3 L2019.4,151.8 L2026.6,151.2"/>
<path d="M1165.9,480.2 L1173.1,479.9 L1180.3,479.7 L1187.6,479.4 L1194.8,479.1 L1202.0,478.9 L1209.3,478.6 L1216.5,478.3 L1223.7,478.1 L1231.0,477.8 L1238.2,477.5 L1245.4,477.3 L1252.7,477.0 L1259.9,476.7 L1267.1,476.4 L1274.4,476.2 L1281.6,475.9 L1288.8,475.6 L1296.1,475.4 L1303.3,475.1 L1310.5,474.8 L1317.8,474.6 L1325.0,474.3 L1332.2,474.0 L1339.5,473.8 L1346.7,473.5 L1353.9,473.2 L1361.2,473.0 L1368.4,472.7 L1375.6,472.4 L1382.9,472.2 L1390.1,471.9 L1397.3,471.6 L1404.6,471.4 L1411.8,471.1 L1419.0,470.8 L1426.3,470.6 L1433.5,470.3 L1440.7,470.1 L1448.0,469.8 L1455.2,469.5 L1462.4,469.3 L1469.7,469.0 L1476.9,468.7 L1484.1,468.5 L1491.4,468.2 L1498.6,467.9 L1505.8,467.7 L1513.1,467.4 L1520.3,467.2 L1527.5,466.9 L1534.8,466.6 L1542.0,466.4 L1549.2,466.1 L1556.5,465.8 L1563.7,465.6 L1570.9,465.3 L1578.2,465.1 L1585.4,464.8 L1592.6,464.5 L1599.9,464.3 L1607.1,464.0 L1614.3,463.7 L1621.6,463.5 L1628.8,463.2 L1636.0,463.0 L1643.3,462.7 L1650.5,462.4 L1657.7,462.2 L1665.0,461.9 L1672.2,461.7 L1679.4,461.4 L1686.7,461.1 L1693.9,460.9 L1701.1,460.6 L1708.4,460.4 L1715.6,460.1 L1722.8,459.9 L1730.1,459.6 L1737.3,459.3 L1744.5,459.1 L1751.8,458.8 L1759.0,458.6 L1766.2,458.3 L1773.5,458.0 L1780.7,457.8 L1787.9,457.5 L1795.2,457.3 L1802.4,457.0 L1809.6,456.8 L1816.9,456.5 L1824.1,456.3 L1831.3,456.0 L1838.6,455.7 L1845.8,455.5 L1853.0,455.2 L1860.3,455.0 L1867.5,454.7 L1874.7,454.5 L1882.0,454.2 L1889.2,454.0 L1896.4,453.7 L1903.7,453.4 L1910.9,453.2 L1918.1,452.9 L1925.4,452.7 L1932.6,452.4 L1939.8,452.2 L1947.1,451.9 L1954.3,451.7 L1961.5,451.4 L1968.8,451.2 L1976.0,450.9 L1983.2,450.6 L1990.5,450.4 L1997.7,450.1 L2004.9,449.9 L2012.2,449.6 L2019.4,449.4 L2026.6,449.1"/>
<path d="M1165.9,572.7 L1173.1,572.5 L1180.3,572.3 L1187.6,572.0 L1194.8,571.8 L1202.0,571.6 L1209.3,571.4 L1216.5,571.1 L1223.7,570.9 L1231.0,570.7 L1238.2,570.4 L1245.4,570.2 L1252.7,570.0 L1259.9,569.8 L1267.1,569.5 L1274.4,569.3 L1281.6,569.1 L1288.8,568.9 L1296.1,568.6 L1303.3,568.4 L1310.5,568.2 L1317.8,568.0 L1325.0,567.7 L1332.2,567.5 L1339.5,567.3 L1346.7,567.1 L1353.9,566.8 L1361.2,566.6 L1368.4,566.4 L1375.6,566.2 L1382.9,565.9 L1390.1,565.7 L1397.3,565.5 L1404.6,565.3 L1411.8,565.0 L1419.0,564.8 L1426.3,564.6 L1433.5,564.4 L1440.7,564.1 L1448.0,563.9 L1455.2,563.7 L1462.4,563.5 L1469.7,563.2 L1476.9,563.0 L1484.1,562.8 L1491.4,562.6 L1498.6,562.4 L1505.8,562.1 L1513.1,561.9 L1520.3,561.7 L1527.5,561.5 L1534.8,561.2 L1542.0,561.0 L1549.2,560.8 L1556.5,560.6 L1563.7,560.4 L1570.9,560.1 L1578.2,559.9 L1585.4,559.7 L1592.6,559.5 L1599.9,559.3 L1607.1,559.0 L1614.3,558.8 L1621.6,558.6 L1628.8,558.4 L1636.0,558.2 L1643.3,557.9 L1650.5,557.7 L1657.7,557.5 L1665.0,557.3 L1672.2,557.1 L1679.4,556.8 L1686.7,556.6 L1693.9,556.4 L1701.1,556.2 L1708.4,556.0 L1715.6,555.7 L1722.8,555.5 L1730.1,555.3 L1737.3,555.1 L1744.5,554.9 L1751.8,554.7 L1759.0,554.4 L1766.2,554.2 L1773.5,554.0 L1780.7,553.8 L1787.9,553.6 L1795.2,553.3 L1802.4,553.1 L1809.6,552.9 L1816.9,552.7 L1824.1,552.5 L1831.3,552.3 L1838.6,552.0 L1845.8,551.8 L1853.0,551.6 L1860.3,551.4 L1867.5,551.2 L1874.7,551.0 L1882.0,550.8 L1889.2,550.5 L1896.4,550.3 L1903.7,550.1 L1910.9,549.9 L1918.1,549.7 L1925.4,549.5 L1932.6,549.2 L1939.8,549.0 L1947.1,548.8 L1954.3,548.6 L1961.5,548.4 L1968.8,548.2"/>
<path d="M2019.4,546.7 L2026.6,546.5"/>
<path d="M1165.9,632.1 L1173.1,631.9 L1180.3,631.7 L1187.6,631.5 L1194.8,631.3 L1202.0,631.0 L1209.3,630.8 L1216.5,630.6 L1223.7,630.4 L1231.0,630.2 L1238.2,630.0 L1245.4,629.8 L1252.7,629.6 L1259.9,629.4 L1267.1,629.2 L1274.4,629.0 L1281.6,628.8 L1288.8,628.6 L1296.1,628.4 L1303.3,628.2 L1310.5,628.0 L1317.8,627.8 L1325.0,627.5 L1332.2,627.3 L1339.5,627.1 L1346.7,626.9 L1353.9,626.7 L1361.2,626.5 L1368.4,626.3 L1375.6,626.1 L1382.9,625.9 L1390.1,625.7 L1397.3,625.5 L1404.6,625.3 L1411.8,625.1 L1419.0,624.9 L1426.3,624.7 L1433.5,624.5 L1440.7,624.3 L1448.0,624.1 L1455.2,623.9 L1462.4,623.7 L1469.7,623.5 L1476.9,623.3 L1484.1,623.1 L1491.4,622.9 L1498.6,622.7 L1505.8,622.5 L1513.1,622.3 L1520.3,622.1 L1527.5,621.9 L1534.8,621.7 L1542.0,621.5 L1549.2,621.3 L1556.5,621.1 L1563.7,620.8 L1570.9,620.6 L1578.2,620.4 L1585.4,620.2 L1592.6,620.0 L1599.9,619.8 L1607.1,619.6 L1614.3,619.4 L1621.6,619.2 L1628.8,619.0 L1636.0,618.8 L1643.3,618.6 L1650.5,618.4 L1657.7,618.2 L1665.0,618.0 L1672.2,617.8 L1679.4,617.6 L1686.7,617.4 L1693.9,617.2 L1701.1,617.0 L1708.4,616.8 L1715.6,616.6 L1722.8,616.4 L1730.1,616.3 L1737.3,616.1 L1744.5,615.9 L1751.8,615.7 L1759.0,615.5 L1766.2,615.3 L1773.5,615.1 L1780.7,614.9 L1787.9,614.7 L1795.2,614.5 L1802.4,614.3 L1809.6,614.1 L1816.9,613.9 L1824.1,613.7 L1831.3,613.5 L1838.6,613.3 L1845.8,613.1 L1853.0,612.9 L1860.3,612.7 L1867.5,612.5 L1874.7,612.3 L1882.0,612.1 L1889.2,611.9 L1896.4,611.7 L1903.7,611.5 L1910.9,611.3 L1918.1,611.1 L1925.4,610.9 L1932.6,610.7 L1939.8,610.5 L1947.1,610.3 L1954.3,610.1 L1961.5,609.9 L1968.8,609.8 L1976.0,609.6 L1983.2,609.4 L1990.5,609.2 L1997.7,609.0 L2004.9,608.8"/>
<path d="M1165.9,676.2 L1173.1,676.0 L1180.3,675.8 L1187.6,675.6 L1194.8,675.5 L1202.0,675.3 L1209.3,675.1 L1216.5,674.9 L1223.7,674.7 L1231.0,674.5 L1238.2,674.3 L1245.4,674.1 L1252.7,673.9 L1259.9,673.7 L1267.1,673.5 L1274.4,673.3 L1281.6,673.1 L1288.8,672.9 L1296.1,672.7 L1303.3,672.6 L1310.5,672.4 L1317.8,672.2 L1325.0,672.0 L1332.2,671.8 L1339.5,671.6 L1346.7,671.4 L1353.9,671.2 L1361.2,671.0 L1368.4,670.8 L1375.6,670.6 L1382.9,670.4 L1390.1,670.3 L1397.3,670.1 L1404.6,669.9 L1411.8,669.7 L1419.0,669.5 L1426.3,669.3 L1433.5,669.1 L1440.7,668.9 L1448.0,668.7 L1455.2,668.5 L1462.4,668.4 L1469.7,668.2 L1476.9,668.0 L1484.1,667.8 L1491.4,667.6 L1498.6,667.4 L1505.8,667.2 L1513.1,667.0 L1520.3,666.8 L1527.5,666.6 L1534.8,666.5 L1542.0,666.3 L1549.2,666.1 L1556.5,665.9 L1563.7,665.7 L1570.9,665.5 L1578.2,665.3 L1585.4,665.1 L1592.6,664.9 L1599.9,664.8 L1607.1,664.6 L1614.3,664.4 L1621.6,664.2 L1628.8,664.0 L1636.0,663.8 L1643.3,663.6 L1650.5,663.4 L1657.7,663.3 L1665.0,663.1 L1672.2,662.9 L1679.4,662.7 L1686.7,662.5 L1693.9,662.3 L1701.1,662.1 L1708.4,662.0 L1715.6,661.8 L1722.8,661.6 L1730.1,661.4 L1737.3,661.2 L1744.5,661.0 L1751.8,660.8 L1759.0,660.6 L1766.2,660.5 L1773.5,660.3 L1780.7,660.1 L1787.9,659.9 L1795.2,659.7 L1802.4,659.5 L1809.6,659.3 L1816.9,659.2 L1824.1,659.0 L1831.3,658.8 L1838.6,658.6 L1845.8,658.4 L1853.0,658.2 L1860.3,658.1 L1867.5,657.9 L1874.7,657.7 L1882.0,657.5 L1889.2,657.3 L1896.4,657.1 L1903.7,656.9 L1910.9,656.8 L1918.1,656.6 L1925.4,656.4 L1932.6,656.2 L1939.8,656.0 L1947.1,655.8 L1954.3,655.7 L1961.5,655.5 L1968.8,655.3"/>
<path d="M2019.4,654.0 L2026.6,653.8"/>
<path d="M1165.9,711.5 L1173.1,711.3 L1180.3,711.1 L1187.6,711.0 L1194.8,710.8 L1202.0,710.6 L1209.3,710.4 L1216.5,710.2 L1223.7,710.0 L1231.0,709.9 L1238.2,709.7 L1245.4,709.5 L1252.7,709.3 L1259.9,709.1 L1267.1,708.9 L1274.4,708.8 L1281.6,708.6 L1288.8,708.4 L1296.1,708.2 L1303.3,708.0 L1310.5,707.8 L1317.8,707.7 L1325.0,707.5 L1332.2,707.3 L1339.5,707.1 L1346.7,706.9 L1353.9,706.7 L1361.2,706.6 L1368.4,706.4 L1375.6,706.2 L1382.9,706.0 L1390.1,705.8 L1397.3,705.7 L1404.6,705.5 L1411.8,705.3 L1419.0,705.1 L1426.3,704.9 L1433.5,704.7 L1440.7,704.6 L1448.0,704.4 L1455.2,704.2 L1462.4,704.0 L1469.7,703.8 L1476.9,703.7 L1484.1,703.5 L1491.4,703.3 L1498.6,703.1 L1505.8,702.9 L1513.1,702.8 L1520.3,702.6 L1527.5,702.4 L1534.8,702.2 L1542.0,702.0 L1549.2,701.9 L1556.5,701.7 L1563.7,701.5 L1570.9,701.3 L1578.2,701.1 L1585.4,701.0 L1592.6,700.8 L1599.9,700.6 L1607.1,700.4 L1614.3,700.2 L1621.6,700.1 L1628.8,699.9 L1636.0,699.7 L1643.3,699.5 L1650.5,699.3 L1657.7,699.2 L1665.0,699.0 L1672.2,698.8 L1679.4,698.6 L1686.7,698.5 L1693.9,698.3 L1701.1,698.1 L1708.4,697.9 L1715.6,697.7 L1722.8,697.6 L1730.1,697.4 L1737.3,697.2 L1744.5,697.0 L1751.8,696.9 L1759.0,696.7 L1766.2,696.5 L1773.5,696.3 L1780.7,696.1 L1787.9,696.0 L1795.2,695.8 L1802.4,695.6 L1809.6,695.4 L1816.9,695.3 L1824.1,695.1 L1831.3,694.9 L1838.6,694.7 L1845.8,694.6 L1853.0,694.4"/>
<path d="M1918.1,692.8 L1925.4,692.6 L1932.6,692.5 L1939.8,692.3 L1947.1,692.1 L1954.3,691.9 L1961.5,691.8 L1968.8,691.6 L1976.0,691.4 L1983.2,691.2 L1990.5,691.1 L1997.7,690.9 L2004.9,690.7 L2012.2,690.5 L2019.4,690.4 L2026.6,690.2"/>
<path d="M1165.9,741.0 L1173.1,740.8 L1180.3,740.6 L1187.6,740.4 L1194.8,740.3 L1202.0,740.1 L1209.3,739.9 L1216.5,739.7 L1223.7,739.6 L1231.0,739.4 L1238.2,739.2 L1245.4,739.0 L1252.7,738.8 L1259.9,738.7 L1267.1,738.5 L1274.4,738.3 L1281.6,738.1 L1288.8,738.0 L1296.1,737.8 L1303.3,737.6 L1310.5,737.4 L1317.8,737.3 L1325.0,737.1 L1332.2,736.9 L1339.5,736.7 L1346.7,736.6 L1353.9,736.4 L1361.2,736.2 L1368.4,736.0 L1375.6,735.9 L1382.9,735.7 L1390.1,735.5 L1397.3,735.3 L1404.6,735.2 L1411.8,735.0 L1419.0,734.8 L1426.3,734.6 L1433.5,734.5 L1440.7,734.3 L1448.0,734.1 L1455.2,733.9 L1462.4,733.8 L1469.7,733.6 L1476.9,733.4 L1484.1,733.2 L1491.4,733.1 L1498.6,732.9 L1505.8,732.7 L1513.1,732.6 L1520.3,732.4 L1527.5,732.2 L1534.8,732.0 L1542.0,731.9 L1549.2,731.7 L1556.5,731.5 L1563.7,731.3 L1570.9,731.2 L1578.2,731.0 L1585.4,730.8 L1592.6,730.7 L1599.9,730.5 L1607.1,730.3 L1614.3,730.1 L1621.6,730.0 L1628.8,729.8 L1636.0,729.6 L1643.3,729.4 L1650.5,729.3 L1657.7,729.1 L1665.0,728.9 L1672.2,728.8 L1679.4,728.6 L1686.7,728.4 L1693.9,728.2 L1701.1,728.1 L1708.4,727.9 L1715.6,727.7 L1722.8,727.6 L1730.1,727.4 L1737.3,727.2 L1744.5,727.0 L1751.8,726.9 L1759.0,726.7 L1766.2,726.5 L1773.5,726.4 L1780.7,726.2 L1787.9,726.0 L1795.2,725.9 L1802.4,725.7 L1809.6,725.5 L1816.9,725.3 L1824.1,725.2 L1831.3,725.0 L1838.6,724.8 L1845.8,724.7 L1853.0,724.5 L1860.3,724.3 L1867.5,724.2 L1874.7,724.0 L1882.0,723.8 L1889.2,723.7 L1896.4,723.5 L1903.7,723.3 L1910.9,723.1 L1918.1,723.0 L1925.4,722.8 L1932.6,722.6 L1939.8,722.5 L1947.1,722.3"/>
<path d="M2019.4,720.6 L2026.6,720.5"/>
<path d="M1165.9,766.3 L1173.1,766.1 L1180.3,766.0 L1187.6,765.8 L1194.8,765.6 L1202.0,765.4 L1209.3,765.3 L1216.5,765.1 L1223.7,764.9 L1231.0,764.8 L1238.2,764.6 L1245.4,764.4 L1252.7,764.2 L1259.9,764.1 L1267.1,763.9 L1274.4,763.7 L1281.6,763.6 L1288.8,763.4 L1296.1,763.2 L1303.3,763.0 L1310.5,762.9 L1317.8,762.7 L1325.0,762.5 L1332.2,762.4 L1339.5,762.2 L1346.7,762.0 L1353.9,761.9 L1361.2,761.7 L1368.4,761.5 L1375.6,761.3 L1382.9,761.2 L1390.1,761.0 L1397.3,760.8 L1404.6,760.7 L1411.8,760.5 L1419.0,760.3 L1426.3,760.2 L1433.5,760.0 L1440.7,759.8 L1448.0,759.7 L1455.2,759.5 L1462.4,759.3 L1469.7,759.2 L1476.9,759.0 L1484.1,758.8 L1491.4,758.6 L1498.6,758.5 L1505.8,758.3 L1513.1,758.1 L1520.3,758.0 L1527.5,757.8 L1534.8,757.6 L1542.0,757.5 L1549.2,757.3 L1556.5,757.1 L1563.7,757.0 L1570.9,756.8 L1578.2,756.6 L1585.4,756.5 L1592.6,756.3 L1599.9,756.1 L1607.1,756.0 L1614.3,755.8 L1621.6,755.6 L1628.8,755.5 L1636.0,755.3 L1643.3,755.1 L1650.5,755.0 L1657.7,754.8 L1665.0,754.6 L1672.2,754.5 L1679.4,754.3 L1686.7,754.1 L1693.9,754.0 L1701.1,753.8 L1708.4,753.6 L1715.6,753.5 L1722.8,753.3 L1730.1,753.1 L1737.3,753.0 L1744.5,752.8 L1751.8,752.7 L1759.0,752.5 L1766.2,752.3 L1773.5,752.2 L1780.7,752.0 L1787.9,751.8 L1795.2,751.7 L1802.4,751.5 L1809.6,751.3 L1816.9,751.2 L1824.1,751.0 L1831.3,750.8 L1838.6,750.7 L1845.8,750.5 L1853.0,750.3"/>
<path d="M1925.4,748.7 L1932.6,748.5 L1939.8,748.4 L1947.1,748.2 L1954.3,748.1 L1961.5,747.9 L1968.8,747.7 L1976.0,747.6 L1983.2,747.4 L1990.5,747.2 L1997.7,747.1 L2004.9,746.9 L2012.2,746.8 L2019.4,746.6 L2026.6,746.4"/>
<path d="M1165.9,788.5 L1173.1,788.4 L1180.3,788.2 L1187.6,788.0 L1194.8,787.9 L1202.0,787.7 L1209.3,787.5 L1216.5,787.4 L1223.7,787.2 L1231.0,787.0 L1238.2,786.9 L1245.4,786.7 L1252.7,786.5 L1259.9,786.4 L1267.1,786.2 L1274.4,786.0 L1281.6,785.9 L1288.8,785.7 L1296.1,785.5 L1303.3,785.4 L1310.5,785.2 L1317.8,785.0 L1325.0,784.9 L1332.2,784.7 L1339.5,784.5 L1346.7,784.4 L1353.9,784.2 L1361.2,784.0 L1368.4,783.9 L1375.6,783.7 L1382.9,783.5 L1390.1,783.4 L1397.3,783.2 L1404.6,783.0 L1411.8,782.9 L1419.0,782.7 L1426.3,782.6 L1433.5,782.4 L1440.7,782.2 L1448.0,782.1 L1455.2,781.9 L1462.4,781.7 L1469.7,781.6 L1476.9,781.4 L1484.1,781.2 L1491.4,781.1 L1498.6,780.9 L1505.8,780.8 L1513.1,780.6 L1520.3,780.4 L1527.5,780.3 L1534.8,780.1 L1542.0,779.9 L1549.2,779.8 L1556.5,779.6 L1563.7,779.5 L1570.9,779.3 L1578.2,779.1 L1585.4,779.0 L1592.6,778.8 L1599.9,778.6 L1607.1,778.5 L1614.3,778.3 L1621.6,778.2 L1628.8,778.0 L1636.0,777.8 L1643.3,777.7 L1650.5,777.5 L1657.7,777.3 L1665.0,777.2 L1672.2,777.0 L1679.4,776.9 L1686.7,776.7 L1693.9,776.5 L1701.1,776.4 L1708.4,776.2 L1715.6,776.1 L1722.8,775.9 L1730.1,775.7 L1737.3,775.6 L1744.5,775.4 L1751.8,775.2 L1759.0,775.1 L1766.2,774.9 L1773.5,774.8 L1780.7,774.6 L1787.9,774.4 L1795.2,774.3 L1802.4,774.1 L1809.6,774.0 L1816.9,773.8 L1824.1,773.6 L1831.3,773.5 L1838.6,773.3 L1845.8,773.2 L1853.0,773.0 L1860.3,772.8 L1867.5,772.7 L1874.7,772.5 L1882.0,772.4 L1889.2,772.2 L1896.4,772.0 L1903.7,771.9 L1910.9,771.7 L1918.1,771.6 L1925.4,771.4 L1932.6,771.3 L1939.8,771.1 L1947.1,770.9 L1954.3,770.8 L1961.5,770.6 L1968.8,770.5"/>
<path d="M1165.9,808.3 L1173.1,808.2 L1180.3,808.0 L1187.6,807.9 L1194.8,807.7 L1202.0,807.5 L1209.3,807.4 L1216.5,807.2 L1223.7,807.0 L1231.0,806.9 L1238.2,806.7 L1245.4,806.6 L1252.7,806.4 L1259.9,806.2 L1267.1,806.1 L1274.4,805.9 L1281.6,805.7 L1288.8,805.6 L1296.1,805.4 L1303.3,805.3 L1310.5,805.1 L1317.8,804.9 L1325.0,804.8 L1332.2,804.6 L1339.5,804.4 L1346.7,804.3 L1353.9,804.1 L1361.2,804.0 L1368.4,803.8 L1375.6,803.6 L1382.9,803.5 L1390.1,803.3 L1397.3,803.2 L1404.6,803.0 L1411.8,802.8 L1419.0,802.7 L1426.3,802.5 L1433.5,802.4 L1440.7,802.2 L1448.0,802.0 L1455.2,801.9 L1462.4,801.7 L1469.7,801.6 L1476.9,801.4 L1484.1,801.2 L1491.4,801.1 L1498.6,800.9 L1505.8,800.8 L1513.1,800.6 L1520.3,800.4 L1527.5,800.3 L1534.8,800.1 L1542.0,800.0 L1549.2,799.8 L1556.5,799.6 L1563.7,799.5 L1570.9,799.3 L1578.2,799.2 L1585.4,799.0 L1592.6,798.9 L1599.9,798.7 L1607.1,798.5 L1614.3,798.4 L1621.6,798.2 L1628.8,798.1 L1636.0,797.9 L1643.3,797.7 L1650.5,797.6 L1657.7,797.4 L1665.0,797.3 L1672.2,797.1 L1679.4,797.0 L1686.7,796.8 L1693.9,796.6 L1701.1,796.5 L1708.4,796.3 L1715.6,796.2 L1722.8,796.0 L1730.1,795.9 L1737.3,795.7 L1744.5,795.5 L1751.8,795.4 L1759.0,795.2 L1766.2,795.1 L1773.5,794.9 L1780.7,794.8 L1787.9,794.6 L1795.2,794.4 L1802.4,794.3 L1809.6,794.1 L1816.9,794.0 L1824.1,793.8 L1831.3,793.7 L1838.6,793.5 L1845.8,793.3 L1853.0,793.2 L1860.3,793.0 L1867.5,792.9 L1874.7,792.7 L1882.0,792.6 L1889.2,792.4 L1896.4,792.3 L1903.7,792.1"/>
<path d="M1968.8,790.7 L1976.0,790.6 L1983.2,790.4 L1990.5,790.2 L1997.7,790.1 L2004.9,789.9 L2012.2,789.8 L2019.4,789.6 L2026.6,789.5"/>
<path d="M1165.9,826.2 L1173.1,826.1 L1180.3,825.9 L1187.6,825.8 L1194.8,825.6 L1202.0,825.4 L1209.3,825.3 L1216.5,825.1 L1223.7,825.0 L1231.0,824.8 L1238.2,824.6 L1245.4,824.5 L1252.7,824.3 L1259.9,824.2 L1267.1,824.0 L1274.4,823.8 L1281.6,823.7 L1288.8,823.5 L1296.1,823.4 L1303.3,823.2 L1310.5,823.1 L1317.8,822.9 L1325.0,822.7 L1332.2,822.6 L1339.5,822.4 L1346.7,822.3 L1353.9,822.1 L1361.2,821.9 L1368.4,821.8 L1375.6,821.6 L1382.9,821.5 L1390.1,821.3 L1397.3,821.2 L1404.6,821.0 L1411.8,820.8 L1419.0,820.7 L1426.3,820.5 L1433.5,820.4 L1440.7,820.2 L1448.0,820.1 L1455.2,819.9 L1462.4,819.7 L1469.7,819.6 L1476.9,819.4 L1484.1,819.3 L1491.4,819.1 L1498.6,819.0 L1505.8,818.8 L1513.1,818.7 L1520.3,818.5 L1527.5,818.3 L1534.8,818.2 L1542.0,818.0 L1549.2,817.9 L1556.5,817.7 L1563.7,817.6 L1570.9,817.4 L1578.2,817.3 L1585.4,817.1 L1592.6,816.9 L1599.9,816.8 L1607.1,816.6 L1614.3,816.5 L1621.6,816.3 L1628.8,816.2 L1636.0,816.0 L1643.3,815.9 L1650.5,815.7 L1657.7,815.5 L1665.0,815.4 L1672.2,815.2 L1679.4,815.1 L1686.7,814.9 L1693.9,814.8 L1701.1,814.6 L1708.4,814.5 L1715.6,814.3 L1722.8,814.2 L1730.1,814.0 L1737.3,813.9 L1744.5,813.7 L1751.8,813.5 L1759.0,813.4 L1766.2,813.2 L1773.5,813.1 L1780.7,812.9 L1787.9,812.8 L1795.2,812.6 L1802.4,812.5 L1809.6,812.3"/>
<path d="M1882.0,810.8 L1889.2,810.6 L1896.4,810.5 L1903.7,810.3 L1910.9,810.2 L1918.1,810.0 L1925.4,809.9 L1932.6,809.7 L1939.8,809.6 L1947.1,809.4 L1954.3,809.3 L1961.5,809.1 L1968.8,809.0 L1976.0,808.8 L1983.2,808.7 L1990.5,808.5 L1997.7,808.4 L2004.9,808.2 L2012.2,808.1 L2019.4,807.9 L2026.6,807.8"/>
<path d="M1165.9,842.5 L1173.1,842.4 L1180.3,842.2 L1187.6,842.1 L1194.8,841.9 L1202.0,841.8 L1209.3,841.6 L1216.5,841.5 L1223.7,841.3 L1231.0,841.1 L1238.2,841.0 L1245.4,840.8 L1252.7,840.7 L1259.9,840.5 L1267.1,840.4 L1274.4,840.2 L1281.6,840.0 L1288.8,839.9 L1296.1,839.7 L1303.3,839.6 L1310.5,839.4 L1317.8,839.3 L1325.0,839.1 L1332.2,839.0 L1339.5,838.8 L1346.7,838.7 L1353.9,838.5 L1361.2,838.3 L1368.4,838.2 L1375.6,838.0 L1382.9,837.9 L1390.1,837.7 L1397.3,837.6 L1404.6,837.4 L1411.8,837.3 L1419.0,837.1 L1426.3,837.0 L1433.5,836.8 L1440.7,836.6 L1448.0,836.5 L1455.2,836.3 L1462.4,836.2 L1469.7,836.0 L1476.9,835.9 L1484.1,835.7 L1491.4,835.6 L1498.6,835.4 L1505.8,835.3 L1513.1,835.1 L1520.3,835.0 L1527.5,834.8 L1534.8,834.7 L1542.0,834.5 L1549.2,834.3 L1556.5,834.2 L1563.7,834.0 L1570.9,833.9 L1578.2,833.7 L1585.4,833.6 L1592.6,833.4 L1599.9,833.3 L1607.1,833.1 L1614.3,833.0 L1621.6,832.8 L1628.8,832.7 L1636.0,832.5 L1643.3,832.4 L1650.5,832.2 L1657.7,832.1 L1665.0,831.9 L1672.2,831.8 L1679.4,831.6 L1686.7,831.5 L1693.9,831.3 L1701.1,831.2 L1708.4,831.0"/>
<path d="M1780.7,829.5 L1787.9,829.3 L1795.2,829.2 L1802.4,829.0 L1809.6,828.9 L1816.9,828.7 L1824.1,828.6 L1831.3,828.4 L1838.6,828.3 L1845.8,828.1 L1853.0,828.0 L1860.3,827.8 L1867.5,827.7 L1874.7,827.5 L1882.0,827.4 L1889.2,827.2 L1896.4,827.1 L1903.7,826.9 L1910.9,826.8 L1918.1,826.6 L1925.4,826.5 L1932.6,826.3 L1939.8,826.2 L1947.1,826.0 L1954.3,825.9 L1961.5,825.8 L1968.8,825.6 L1976.0,825.5 L1983.2,825.3 L1990.5,825.2 L1997.7,825.0 L2004.9,824.9 L2012.2,824.7 L2019.4,824.6 L2026.6,824.4"/>
<path d="M1462.5,851.3 L1469.7,851.1 L1476.9,851.0 L1484.1,850.8 L1491.4,850.7 L1498.6,850.5 L1505.8,850.4 L1513.1,850.2 L1520.3,850.1 L1527.5,849.9 L1534.8,849.8 L1542.0,849.6 L1549.2,849.5 L1556.5,849.3 L1563.7,849.2 L1570.9,849.0 L1578.2,848.9 L1585.4,848.7 L1592.6,848.6 L1599.9,848.4 L1607.1,848.3 L1614.3,848.1 L1621.6,848.0 L1628.8,847.8 L1636.0,847.7 L1643.3,847.5 L1650.5,847.4 L1657.7,847.2 L1665.0,847.1 L1672.2,846.9 L1679.4,846.8 L1686.7,846.6 L1693.9,846.5 L1701.1,846.3 L1708.4,846.2 L1715.6,846.0 L1722.8,845.9 L1730.1,845.7 L1737.3,845.6 L1744.5,845.5 L1751.8,845.3 L1759.0,845.2 L1766.2,845.0 L1773.5,844.9 L1780.7,844.7 L1787.9,844.6 L1795.2,844.4 L1802.4,844.3 L1809.6,844.1 L1816.9,844.0 L1824.1,843.8 L1831.3,843.7 L1838.6,843.5 L1845.8,843.4 L1853.0,843.2 L1860.3,843.1 L1867.5,842.9 L1874.7,842.8 L1882.0,842.6 L1889.2,842.5 L1896.4,842.4 L1903.7,842.2 L1910.9,842.1 L1918.1,841.9 L1925.4,841.8 L1932.6,841.6 L1939.8,841.5 L1947.1,841.3 L1954.3,841.2 L1961.5,841.0 L1968.8,840.9 L1976.0,840.7 L1983.2,840.6 L1990.5,840.4"/>
</g>
<g fill="none" stroke="#E7298A" stroke-width="3.7" stroke-linecap="round" stroke-linejoin="round">
<path d="M1092.8,270.3 L1093.5,272.3 L1094.2,274.2 L1094.9,276.1 L1095.6,278.1 L1096.3,280.0 L1097.0,282.0 L1097.7,283.9 L1098.4,285.9 L1099.1,287.8 L1099.9,289.7 L1100.6,291.7 L1101.3,293.6 L1102.0,295.6 L1102.8,297.5 L1103.5,299.5 L1104.2,301.4 L1105.0,303.3 L1105.7,305.3 L1106.4,307.2 L1107.2,309.2 L1107.9,311.1 L1108.7,313.1 L1109.4,315.0 L1110.2,316.9 L1110.9,318.9 L1111.7,320.8 L1112.4,322.8 L1113.2,324.7 L1113.9,326.7 L1114.7,328.6 L1115.5,330.6 L1116.2,332.5 L1117.0,334.4 L1117.8,336.4 L1118.5,338.3 L1119.3,340.3 L1120.1,342.2 L1120.9,344.2 L1121.6,346.1 L1122.4,348.0 L1123.2,350.0 L1124.0,351.9 L1124.8,353.9 L1125.6,355.8 L1126.4,357.8 L1127.1,359.7 L1127.9,361.6 L1128.7,363.6 L1129.5,365.5 L1130.3,367.5 L1131.1,369.4 L1132.0,371.4 L1132.8,373.3 L1133.6,375.2 L1134.4,377.2 L1135.2,379.1 L1136.0,381.1 L1136.8,383.0 L1137.7,385.0 L1138.5,386.9 L1139.3,388.8 L1140.1,390.8 L1140.9,392.7 L1141.8,394.7 L1142.6,396.6 L1143.4,398.6 L1144.3,400.5 L1145.1,402.4 L1146.0,404.4 L1146.8,406.3 L1147.6,408.3 L1148.5,410.2 L1149.3,412.2 L1150.2,414.1 L1151.0,416.0 L1151.9,418.0 L1152.8,419.9 L1153.6,421.9 L1154.5,423.8 L1155.3,425.8 L1156.2,427.7 L1157.1,429.6 L1157.9,431.6 L1158.8,433.5 L1159.7,435.5 L1160.6,437.4 L1161.4,439.4 L1162.3,441.3 L1163.2,443.2 L1164.1,445.2 L1165.0,447.1 L1165.9,449.1 L1166.7,451.0 L1167.6,453.0 L1168.5,454.9 L1169.4,456.8 L1170.3,458.8 L1171.2,460.7 L1172.1,462.7 L1173.0,464.6 L1173.9,466.6 L1174.9,468.5 L1175.8,470.5 L1176.7,472.4 L1177.6,474.3 L1178.5,476.3 L1179.4,478.2 L1180.4,480.2 L1181.3,482.1 L1182.2,484.1 L1183.2,486.0 L1184.1,487.9 L1185.0,489.9 L1186.0,491.8 L1186.9,493.8 L1187.9,495.7 L1188.8,497.7 L1189.8,499.6 L1190.7,501.5 L1191.7,503.5 L1192.6,505.4 L1193.6,507.4 L1194.6,509.3 L1195.5,511.3 L1196.5,513.2 L1197.5,515.1 L1198.4,517.1 L1199.4,519.0 L1200.4,521.0 L1201.4,522.9 L1202.4,524.9 L1203.3,526.8 L1204.3,528.7 L1205.3,530.7 L1206.3,532.6 L1207.3,534.6 L1208.3,536.5 L1209.3,538.5 L1210.4,540.4 L1211.4,542.3 L1212.4,544.3 L1213.4,546.2 L1214.4,548.2 L1215.5,550.1 L1216.5,552.1 L1217.5,554.0 L1218.5,555.9 L1219.6,557.9 L1220.6,559.8 L1221.7,561.8 L1222.7,563.7 L1223.8,565.7 L1224.8,567.6 L1225.9,569.5 L1227.0,571.5 L1228.0,573.4 L1229.1,575.4 L1230.2,577.3 L1231.3,579.3 L1232.3,581.2 L1233.4,583.1 L1234.5,585.1 L1235.6,587.0 L1236.7,589.0 L1237.8,590.9 L1238.9,592.9 L1240.0,594.8 L1241.1,596.7 L1242.3,598.7 L1243.4,600.6 L1244.5,602.6 L1245.7,604.5 L1246.8,606.5 L1247.9,608.4 L1249.1,610.4 L1250.2,612.3 L1251.4,614.2 L1252.5,616.2 L1253.7,618.1 L1254.9,620.1 L1256.1,622.0 L1257.2,624.0 L1258.4,625.9 L1259.6,627.8 L1260.8,629.8 L1262.0,631.7 L1263.2,633.7 L1264.4,635.6 L1265.6,637.6 L1266.9,639.5 L1268.1,641.4 L1269.3,643.4 L1270.6,645.3 L1271.8,647.3 L1273.1,649.2 L1274.3,651.2 L1275.6,653.1 L1276.8,655.0 L1278.1,657.0 L1279.4,658.9 L1280.7,660.9 L1282.0,662.8 L1283.3,664.8 L1284.6,666.7 L1285.9,668.6 L1287.2,670.6 L1288.5,672.5 L1289.9,674.5 L1291.2,676.4 L1292.6,678.4 L1293.9,680.3 L1295.3,682.2 L1296.6,684.2 L1298.0,686.1 L1299.4,688.1 L1300.8,690.0 L1302.2,692.0 L1303.6,693.9 L1305.0,695.8 L1306.4,697.8 L1307.9,699.7 L1309.3,701.7 L1310.8,703.6 L1312.2,705.6 L1313.7,707.5 L1315.1,709.4 L1316.6,711.4 L1318.1,713.3 L1319.6,715.3 L1321.1,717.2 L1322.6,719.2 L1324.2,721.1 L1325.7,723.0 L1327.2,725.0 L1328.8,726.9 L1330.4,728.9 L1331.9,730.8 L1333.5,732.8 L1335.1,734.7 L1336.7,736.6 L1338.4,738.6 L1340.0,740.5 L1341.6,742.5 L1343.3,744.4 L1344.9,746.4 L1346.6,748.3 L1348.3,750.3 L1350.0,752.2 L1351.7,754.1 L1353.4,756.1 L1355.1,758.0 L1356.9,760.0 L1358.7,761.9 L1360.4,763.9 L1362.2,765.8 L1364.0,767.7 L1365.8,769.7 L1367.6,771.6 L1369.5,773.6 L1371.3,775.5 L1373.2,777.5 L1375.1,779.4 L1377.0,781.3 L1378.9,783.3 L1380.8,785.2 L1382.8,787.2 L1384.7,789.1 L1386.7,791.1 L1388.7,793.0 L1390.7,794.9 L1392.7,796.9 L1394.8,798.8 L1396.8,800.8 L1398.9,802.7 L1401.0,804.7 L1403.1,806.6 L1405.2,808.5 L1407.4,810.5 L1409.5,812.4 L1411.7,814.4 L1413.9,816.3 L1416.2,818.3 L1418.4,820.2"/>
<path d="M1456.7,850.1 L1457.5,851.3"/>
<path d="M1222.8,76.0 L1223.4,78.0 L1224.0,79.9 L1224.5,81.8 L1225.1,83.8 L1225.7,85.7 L1226.3,87.7 L1226.9,89.6 L1227.5,91.6 L1228.0,93.5 L1228.6,95.4 L1229.2,97.4 L1229.8,99.3 L1230.4,101.3 L1231.0,103.2 L1231.7,105.2 L1232.3,107.1 L1232.9,109.0 L1233.5,111.0 L1234.1,112.9 L1234.8,114.9 L1235.4,116.8 L1236.0,118.8 L1236.7,120.7 L1237.3,122.6 L1237.9,124.6 L1238.6,126.5 L1239.2,128.5 L1239.9,130.4 L1240.6,132.4 L1241.2,134.3 L1241.9,136.2 L1242.5,138.2 L1243.2,140.1 L1243.9,142.1 L1244.5,144.0 L1245.2,146.0 L1245.9,147.9 L1246.6,149.8 L1247.3,151.8 L1248.0,153.7 L1248.6,155.7 L1249.3,157.6 L1250.0,159.6 L1250.7,161.5 L1251.4,163.4 L1252.1,165.4 L1252.8,167.3 L1253.6,169.3 L1254.3,171.2 L1255.0,173.2 L1255.7,175.1 L1256.4,177.0 L1257.2,179.0 L1257.9,180.9 L1258.6,182.9 L1259.3,184.8 L1260.1,186.8 L1260.8,188.7 L1261.6,190.7 L1262.3,192.6 L1263.0,194.5 L1263.8,196.5 L1264.5,198.4 L1265.3,200.4 L1266.0,202.3 L1266.8,204.3 L1267.6,206.2 L1268.3,208.1 L1269.1,210.1 L1269.9,212.0 L1270.6,214.0 L1271.4,215.9 L1272.2,217.9 L1273.0,219.8 L1273.7,221.7 L1274.5,223.7 L1275.3,225.6 L1276.1,227.6 L1276.9,229.5 L1277.7,231.5 L1278.5,233.4 L1279.3,235.3 L1280.1,237.3 L1280.9,239.2 L1281.7,241.2 L1282.5,243.1 L1283.3,245.1 L1284.1,247.0 L1284.9,248.9 L1285.7,250.9 L1286.5,252.8 L1287.4,254.8 L1288.2,256.7 L1289.0,258.7 L1289.8,260.6 L1290.7,262.5 L1291.5,264.5 L1292.3,266.4 L1293.2,268.4 L1294.0,270.3 L1294.9,272.3 L1295.7,274.2 L1296.5,276.1 L1297.4,278.1 L1298.2,280.0 L1299.1,282.0 L1300.0,283.9 L1300.8,285.9 L1301.7,287.8 L1302.5,289.7 L1303.4,291.7 L1304.3,293.6 L1305.1,295.6 L1306.0,297.5 L1306.9,299.5 L1307.8,301.4 L1308.6,303.3 L1309.5,305.3 L1310.4,307.2 L1311.3,309.2 L1312.2,311.1 L1313.1,313.1 L1313.9,315.0 L1314.8,316.9 L1315.7,318.9 L1316.6,320.8 L1317.5,322.8 L1318.4,324.7 L1319.3,326.7 L1320.2,328.6 L1321.1,330.6 L1322.1,332.5 L1323.0,334.4 L1323.9,336.4 L1324.8,338.3 L1325.7,340.3 L1326.7,342.2 L1327.6,344.2 L1328.5,346.1 L1329.4,348.0 L1330.4,350.0 L1331.3,351.9 L1332.2,353.9 L1333.2,355.8 L1334.1,357.8 L1335.1,359.7 L1336.0,361.6 L1337.0,363.6 L1337.9,365.5 L1338.9,367.5 L1339.8,369.4 L1340.8,371.4 L1341.7,373.3 L1342.7,375.2 L1343.7,377.2 L1344.6,379.1 L1345.6,381.1 L1346.6,383.0 L1347.5,385.0 L1348.5,386.9 L1349.5,388.8 L1350.5,390.8 L1351.5,392.7 L1352.5,394.7 L1353.4,396.6 L1354.4,398.6 L1355.4,400.5 L1356.4,402.4 L1357.4,404.4 L1358.4,406.3 L1359.4,408.3 L1360.4,410.2 L1361.5,412.2 L1362.5,414.1 L1363.5,416.0 L1364.5,418.0 L1365.5,419.9 L1366.5,421.9 L1367.6,423.8 L1368.6,425.8 L1369.6,427.7 L1370.7,429.6 L1371.7,431.6 L1372.8,433.5 L1373.8,435.5 L1374.8,437.4 L1375.9,439.4 L1377.0,441.3 L1378.0,443.2 L1379.1,445.2 L1380.1,447.1 L1381.2,449.1 L1382.3,451.0 L1383.3,453.0 L1384.4,454.9 L1385.5,456.8 L1386.6,458.8 L1387.7,460.7 L1388.7,462.7 L1389.8,464.6 L1390.9,466.6 L1392.0,468.5 L1393.1,470.5 L1394.2,472.4 L1395.3,474.3 L1396.4,476.3 L1397.6,478.2 L1398.7,480.2 L1399.8,482.1 L1400.9,484.1 L1402.1,486.0 L1403.2,487.9 L1404.3,489.9 L1405.5,491.8 L1406.6,493.8 L1407.8,495.7 L1408.9,497.7 L1410.1,499.6 L1411.2,501.5 L1412.4,503.5 L1413.6,505.4 L1414.7,507.4 L1415.9,509.3 L1417.1,511.3 L1418.3,513.2 L1419.5,515.1 L1420.7,517.1 L1421.9,519.0 L1423.1,521.0 L1424.3,522.9 L1425.5,524.9 L1426.7,526.8 L1427.9,528.7 L1429.1,530.7 L1430.4,532.6 L1431.6,534.6 L1432.8,536.5 L1434.1,538.5 L1435.3,540.4 L1436.6,542.3 L1437.8,544.3 L1439.1,546.2 L1440.4,548.2 L1441.6,550.1 L1442.9,552.1 L1444.2,554.0 L1445.5,555.9 L1446.8,557.9 L1448.1,559.8 L1449.4,561.8 L1450.7,563.7 L1452.0,565.7 L1453.3,567.6 L1454.6,569.5 L1456.0,571.5 L1457.3,573.4 L1458.7,575.4 L1460.0,577.3 L1461.4,579.3 L1462.7,581.2 L1464.1,583.1 L1465.5,585.1 L1466.9,587.0 L1468.2,589.0 L1469.6,590.9 L1471.0,592.9 L1472.4,594.8 L1473.9,596.7 L1475.3,598.7 L1476.7,600.6 L1478.1,602.6 L1479.6,604.5 L1481.0,606.5 L1482.5,608.4 L1484.0,610.4 L1485.4,612.3 L1486.9,614.2 L1488.4,616.2 L1489.9,618.1 L1491.4,620.1 L1492.9,622.0 L1494.4,624.0 L1495.9,625.9 L1497.5,627.8 L1499.0,629.8 L1500.6,631.7 L1502.1,633.7 L1503.7,635.6 L1505.3,637.6 L1506.8,639.5 L1508.4,641.4 L1510.0,643.4 L1511.6,645.3 L1513.3,647.3 L1514.9,649.2 L1516.5,651.2 L1518.2,653.1 L1519.8,655.0 L1521.5,657.0 L1523.2,658.9 L1524.9,660.9 L1526.6,662.8 L1528.3,664.8 L1530.0,666.7 L1531.7,668.6 L1533.5,670.6 L1535.2,672.5 L1537.0,674.5 L1538.7,676.4 L1540.5,678.4 L1542.3,680.3 L1544.1,682.2 L1546.0,684.2 L1547.8,686.1 L1549.6,688.1 L1551.5,690.0 L1553.3,692.0 L1555.2,693.9 L1557.1,695.8 L1559.0,697.8 L1560.9,699.7 L1562.9,701.7 L1564.8,703.6 L1566.8,705.6 L1568.7,707.5 L1570.7,709.4 L1572.7,711.4 L1574.7,713.3 L1576.8,715.3 L1578.8,717.2 L1580.9,719.2 L1583.0,721.1 L1585.0,723.0 L1587.1,725.0 L1589.3,726.9 L1591.4,728.9 L1593.6,730.8 L1595.7,732.8 L1597.9,734.7 L1600.1,736.6 L1602.3,738.6 L1604.6,740.5 L1606.8,742.5 L1609.1,744.4 L1611.4,746.4 L1613.7,748.3 L1616.0,750.3 L1618.4,752.2 L1620.7,754.1 L1623.1,756.1 L1625.5,758.0 L1628.0,760.0 L1630.4,761.9 L1632.9,763.9 L1635.4,765.8 L1637.9,767.7 L1640.4,769.7 L1643.0,771.6 L1645.5,773.6 L1648.1,775.5 L1650.8,777.5 L1653.4,779.4 L1656.1,781.3 L1658.8,783.3 L1661.5,785.2 L1664.2,787.2 L1667.0,789.1 L1669.8,791.1 L1672.6,793.0 L1675.5,794.9 L1678.3,796.9 L1681.2,798.8 L1684.2,800.8 L1687.1,802.7 L1690.1,804.7 L1693.1,806.6 L1696.2,808.5 L1699.3,810.5 L1702.4,812.4 L1705.5,814.4 L1708.7,816.3 L1711.9,818.3 L1715.1,820.2 L1718.4,822.1 L1721.7,824.1 L1725.0,826.0 L1728.4,828.0"/>
<path d="M1772.7,850.1 L1771.9,851.3"/>
<path d="M1413.1,76.0 L1413.8,78.0 L1414.5,79.9 L1415.3,81.8 L1416.0,83.8 L1416.7,85.7 L1417.5,87.7 L1418.2,89.6 L1418.9,91.6 L1419.7,93.5 L1420.4,95.4 L1421.2,97.4 L1421.9,99.3 L1422.7,101.3 L1423.4,103.2 L1424.2,105.2 L1425.0,107.1 L1425.7,109.0 L1426.5,111.0 L1427.3,112.9 L1428.0,114.9 L1428.8,116.8 L1429.6,118.8 L1430.4,120.7 L1431.2,122.6 L1431.9,124.6 L1432.7,126.5 L1433.5,128.5 L1434.3,130.4 L1435.1,132.4 L1435.9,134.3 L1436.7,136.2 L1437.5,138.2 L1438.3,140.1 L1439.2,142.1 L1440.0,144.0 L1440.8,146.0 L1441.6,147.9 L1442.4,149.8 L1443.3,151.8 L1444.1,153.7 L1444.9,155.7 L1445.7,157.6 L1446.6,159.6 L1447.4,161.5 L1448.3,163.4 L1449.1,165.4 L1449.9,167.3 L1450.8,169.3 L1451.6,171.2 L1452.5,173.2 L1453.3,175.1 L1454.2,177.0 L1455.1,179.0 L1455.9,180.9 L1456.8,182.9 L1457.6,184.8 L1458.5,186.8 L1459.4,188.7 L1460.3,190.7 L1461.1,192.6 L1462.0,194.5 L1462.9,196.5 L1463.8,198.4 L1464.7,200.4 L1465.5,202.3 L1466.4,204.3 L1467.3,206.2 L1468.2,208.1 L1469.1,210.1 L1470.0,212.0 L1470.9,214.0 L1471.8,215.9 L1472.7,217.9 L1473.6,219.8 L1474.5,221.7 L1475.5,223.7 L1476.4,225.6 L1477.3,227.6 L1478.2,229.5 L1479.1,231.5 L1480.1,233.4 L1481.0,235.3 L1481.9,237.3 L1482.8,239.2 L1483.8,241.2 L1484.7,243.1 L1485.6,245.1 L1486.6,247.0 L1487.5,248.9 L1488.5,250.9 L1489.4,252.8 L1490.4,254.8 L1491.3,256.7 L1492.3,258.7 L1493.2,260.6 L1494.2,262.5 L1495.1,264.5 L1496.1,266.4 L1497.1,268.4 L1498.0,270.3 L1499.0,272.3 L1500.0,274.2 L1501.0,276.1 L1501.9,278.1 L1502.9,280.0 L1503.9,282.0 L1504.9,283.9 L1505.9,285.9 L1506.9,287.8 L1507.8,289.7 L1508.8,291.7 L1509.8,293.6 L1510.8,295.6 L1511.8,297.5 L1512.8,299.5 L1513.8,301.4 L1514.8,303.3 L1515.9,305.3 L1516.9,307.2 L1517.9,309.2 L1518.9,311.1 L1519.9,313.1 L1520.9,315.0 L1522.0,316.9 L1523.0,318.9 L1524.0,320.8 L1525.0,322.8 L1526.1,324.7 L1527.1,326.7 L1528.2,328.6 L1529.2,330.6 L1530.2,332.5 L1531.3,334.4 L1532.3,336.4 L1533.4,338.3 L1534.4,340.3 L1535.5,342.2 L1536.6,344.2 L1537.6,346.1 L1538.7,348.0 L1539.8,350.0 L1540.8,351.9 L1541.9,353.9 L1543.0,355.8 L1544.1,357.8 L1545.1,359.7 L1546.2,361.6 L1547.3,363.6 L1548.4,365.5 L1549.5,367.5 L1550.6,369.4 L1551.7,371.4 L1552.8,373.3 L1553.9,375.2 L1555.0,377.2 L1556.1,379.1 L1557.2,381.1 L1558.3,383.0 L1559.5,385.0 L1560.6,386.9 L1561.7,388.8 L1562.8,390.8 L1564.0,392.7 L1565.1,394.7 L1566.2,396.6 L1567.4,398.6 L1568.5,400.5 L1569.7,402.4 L1570.8,404.4 L1572.0,406.3 L1573.1,408.3 L1574.3,410.2 L1575.5,412.2 L1576.6,414.1 L1577.8,416.0 L1579.0,418.0 L1580.2,419.9 L1581.4,421.9 L1582.5,423.8 L1583.7,425.8 L1584.9,427.7 L1586.1,429.6 L1587.3,431.6 L1588.5,433.5 L1589.7,435.5 L1590.9,437.4 L1592.2,439.4 L1593.4,441.3 L1594.6,443.2 L1595.8,445.2 L1597.1,447.1 L1598.3,449.1 L1599.5,451.0 L1600.8,453.0 L1602.0,454.9 L1603.3,456.8 L1604.5,458.8 L1605.8,460.7 L1607.1,462.7 L1608.3,464.6 L1609.6,466.6 L1610.9,468.5 L1612.2,470.5 L1613.5,472.4 L1614.8,474.3 L1616.1,476.3 L1617.4,478.2 L1618.7,480.2 L1620.0,482.1 L1621.3,484.1 L1622.6,486.0 L1623.9,487.9 L1625.3,489.9 L1626.6,491.8 L1628.0,493.8 L1629.3,495.7 L1630.7,497.7 L1632.0,499.6 L1633.4,501.5 L1634.7,503.5 L1636.1,505.4 L1637.5,507.4 L1638.9,509.3 L1640.3,511.3 L1641.7,513.2 L1643.1,515.1 L1644.5,517.1 L1645.9,519.0 L1647.3,521.0 L1648.7,522.9 L1650.2,524.9 L1651.6,526.8 L1653.0,528.7 L1654.5,530.7 L1656.0,532.6 L1657.4,534.6 L1658.9,536.5 L1660.4,538.5 L1661.8,540.4 L1663.3,542.3 L1664.8,544.3 L1666.3,546.2 L1667.8,548.2 L1669.4,550.1 L1670.9,552.1 L1672.4,554.0 L1674.0,555.9 L1675.5,557.9 L1677.1,559.8 L1678.6,561.8 L1680.2,563.7 L1681.8,565.7 L1683.4,567.6 L1684.9,569.5 L1686.5,571.5 L1688.2,573.4 L1689.8,575.4 L1691.4,577.3 L1693.0,579.3 L1694.7,581.2 L1696.3,583.1 L1698.0,585.1 L1699.6,587.0 L1701.3,589.0 L1703.0,590.9 L1704.7,592.9 L1706.4,594.8 L1708.1,596.7 L1709.8,598.7 L1711.6,600.6 L1713.3,602.6 L1715.1,604.5 L1716.8,606.5 L1718.6,608.4 L1720.4,610.4 L1722.2,612.3 L1724.0,614.2 L1725.8,616.2 L1727.6,618.1 L1729.4,620.1 L1731.3,622.0 L1733.1,624.0 L1735.0,625.9 L1736.9,627.8 L1738.7,629.8 L1740.6,631.7 L1742.6,633.7 L1744.5,635.6 L1746.4,637.6 L1748.4,639.5 L1750.3,641.4 L1752.3,643.4 L1754.3,645.3 L1756.3,647.3 L1758.3,649.2 L1760.3,651.2 L1762.3,653.1 L1764.4,655.0 L1766.4,657.0 L1768.5,658.9 L1770.6,660.9 L1772.7,662.8 L1774.8,664.8 L1777.0,666.7 L1779.1,668.6 L1781.3,670.6 L1783.5,672.5 L1785.6,674.5 L1787.9,676.4 L1790.1,678.4 L1792.3,680.3 L1794.6,682.2 L1796.8,684.2 L1799.1,686.1 L1801.4,688.1 L1803.8,690.0 L1806.1,692.0 L1808.5,693.9 L1810.8,695.8 L1813.2,697.8 L1815.6,699.7 L1818.1,701.7 L1820.5,703.6 L1823.0,705.6 L1825.5,707.5 L1828.0,709.4 L1830.5,711.4 L1833.0,713.3 L1835.6,715.3 L1838.2,717.2 L1840.8,719.2 L1843.4,721.1 L1846.1,723.0 L1848.7,725.0 L1851.4,726.9 L1854.1,728.9 L1856.9,730.8 L1859.6,732.8 L1862.4,734.7 L1865.2,736.6 L1868.0,738.6 L1870.9,740.5 L1873.8,742.5 L1876.7,744.4 L1879.6,746.4 L1882.6,748.3 L1885.6,750.3 L1888.6,752.2 L1891.6,754.1 L1894.7,756.1 L1897.8,758.0 L1900.9,760.0 L1904.0,761.9 L1907.2,763.9 L1910.4,765.8 L1913.7,767.7 L1917.0,769.7 L1920.3,771.6 L1923.6,773.6 L1927.0,775.5 L1930.4,777.5 L1933.8,779.4 L1937.3,781.3 L1940.8,783.3 L1944.3,785.2 L1947.9,787.2 L1951.5,789.1 L1955.2,791.1 L1958.9,793.0 L1962.6,794.9 L1966.4,796.9 L1970.2,798.8 L1974.0,800.8 L1977.9,802.7 L1981.9,804.7 L1985.9,806.6 L1989.9,808.5 L1994.0,810.5 L1998.1,812.4 L2002.3,814.4 L2006.5,816.3 L2010.7,818.3 L2015.1,820.2 L2019.4,822.1 L2023.9,824.1 L2028.3,826.0 L2032.9,828.0 L2037.5,829.9 L2042.1,831.9 L2046.8,833.8 L2051.6,835.7 L2056.4,837.7 L2061.3,839.6 L2066.3,841.6 L2071.3,843.5 L2076.4,845.5 L2081.6,847.4 L2086.8,849.3 L2092.2,851.3"/>
<path d="M1605.7,76.0 L1606.5,78.0 L1607.3,79.9 L1608.2,81.8 L1609.0,83.8 L1609.9,85.7 L1610.7,87.7 L1611.6,89.6 L1612.4,91.6 L1613.3,93.5 L1614.1,95.4 L1615.0,97.4 L1615.9,99.3 L1616.7,101.3 L1617.6,103.2 L1618.5,105.2 L1619.3,107.1 L1620.2,109.0 L1621.1,111.0 L1622.0,112.9 L1622.8,114.9 L1623.7,116.8 L1624.6,118.8 L1625.5,120.7 L1626.4,122.6 L1627.3,124.6 L1628.2,126.5 L1629.1,128.5 L1630.0,130.4 L1630.9,132.4 L1631.8,134.3 L1632.7,136.2 L1633.6,138.2 L1634.5,140.1 L1635.5,142.1 L1636.4,144.0 L1637.3,146.0 L1638.2,147.9 L1639.1,149.8 L1640.1,151.8 L1641.0,153.7 L1641.9,155.7 L1642.9,157.6 L1643.8,159.6 L1644.7,161.5 L1645.7,163.4 L1646.6,165.4 L1647.6,167.3 L1648.5,169.3 L1649.5,171.2 L1650.4,173.2 L1651.4,175.1 L1652.3,177.0 L1653.3,179.0 L1654.2,180.9 L1655.2,182.9 L1656.2,184.8 L1657.1,186.8 L1658.1,188.7 L1659.1,190.7 L1660.0,192.6 L1661.0,194.5 L1662.0,196.5 L1663.0,198.4 L1664.0,200.4 L1664.9,202.3 L1665.9,204.3 L1666.9,206.2 L1667.9,208.1 L1668.9,210.1 L1669.9,212.0 L1670.9,214.0 L1671.9,215.9 L1672.9,217.9 L1673.9,219.8 L1674.9,221.7 L1675.9,223.7 L1676.9,225.6 L1677.9,227.6 L1679.0,229.5 L1680.0,231.5 L1681.0,233.4 L1682.0,235.3 L1683.0,237.3 L1684.1,239.2 L1685.1,241.2 L1686.1,243.1 L1687.2,245.1 L1688.2,247.0 L1689.2,248.9 L1690.3,250.9 L1691.3,252.8 L1692.4,254.8 L1693.4,256.7 L1694.5,258.7 L1695.5,260.6 L1696.6,262.5 L1697.6,264.5 L1698.7,266.4 L1699.8,268.4 L1700.8,270.3 L1701.9,272.3 L1703.0,274.2 L1704.0,276.1 L1705.1,278.1 L1706.2,280.0 L1707.3,282.0 L1708.3,283.9 L1709.4,285.9 L1710.5,287.8 L1711.6,289.7 L1712.7,291.7 L1713.8,293.6 L1714.9,295.6 L1716.0,297.5 L1717.1,299.5 L1718.2,301.4 L1719.3,303.3 L1720.4,305.3 L1721.5,307.2 L1722.7,309.2 L1723.8,311.1 L1724.9,313.1 L1726.0,315.0 L1727.2,316.9 L1728.3,318.9 L1729.4,320.8 L1730.6,322.8 L1731.7,324.7 L1732.8,326.7 L1734.0,328.6 L1735.1,330.6 L1736.3,332.5 L1737.4,334.4 L1738.6,336.4 L1739.8,338.3 L1740.9,340.3 L1742.1,342.2 L1743.3,344.2 L1744.4,346.1 L1745.6,348.0 L1746.8,350.0 L1748.0,351.9 L1749.2,353.9 L1750.4,355.8 L1751.5,357.8 L1752.7,359.7 L1753.9,361.6 L1755.1,363.6 L1756.4,365.5 L1757.6,367.5 L1758.8,369.4 L1760.0,371.4 L1761.2,373.3 L1762.4,375.2 L1763.7,377.2 L1764.9,379.1 L1766.1,381.1 L1767.4,383.0 L1768.6,385.0 L1769.9,386.9 L1771.1,388.8 L1772.4,390.8 L1773.6,392.7 L1774.9,394.7 L1776.2,396.6 L1777.4,398.6 L1778.7,400.5 L1780.0,402.4 L1781.3,404.4 L1782.6,406.3 L1783.9,408.3 L1785.2,410.2 L1786.5,412.2 L1787.8,414.1 L1789.1,416.0 L1790.4,418.0 L1791.7,419.9 L1793.0,421.9 L1794.4,423.8 L1795.7,425.8 L1797.0,427.7 L1798.4,429.6 L1799.7,431.6 L1801.1,433.5 L1802.4,435.5 L1803.8,437.4 L1805.1,439.4 L1806.5,441.3 L1807.9,443.2 L1809.3,445.2 L1810.7,447.1 L1812.1,449.1 L1813.5,451.0 L1814.9,453.0 L1816.3,454.9 L1817.7,456.8 L1819.1,458.8 L1820.5,460.7 L1822.0,462.7 L1823.4,464.6 L1824.8,466.6 L1826.3,468.5 L1827.7,470.5 L1829.2,472.4 L1830.7,474.3 L1832.1,476.3 L1833.6,478.2 L1835.1,480.2 L1836.6,482.1 L1838.1,484.1 L1839.6,486.0 L1841.1,487.9 L1842.6,489.9 L1844.1,491.8 L1845.7,493.8 L1847.2,495.7 L1848.8,497.7 L1850.3,499.6 L1851.9,501.5 L1853.4,503.5 L1855.0,505.4 L1856.6,507.4 L1858.2,509.3 L1859.8,511.3 L1861.4,513.2 L1863.0,515.1 L1864.6,517.1 L1866.2,519.0 L1867.9,521.0 L1869.5,522.9 L1871.2,524.9 L1872.8,526.8 L1874.5,528.7 L1876.2,530.7 L1877.8,532.6 L1879.5,534.6 L1881.2,536.5 L1882.9,538.5 L1884.7,540.4 L1886.4,542.3 L1888.1,544.3 L1889.9,546.2 L1891.6,548.2 L1893.4,550.1 L1895.1,552.1 L1896.9,554.0 L1898.7,555.9 L1900.5,557.9 L1902.3,559.8 L1904.2,561.8 L1906.0,563.7 L1907.8,565.7 L1909.7,567.6 L1911.6,569.5 L1913.4,571.5 L1915.3,573.4 L1917.2,575.4 L1919.1,577.3 L1921.0,579.3 L1923.0,581.2 L1924.9,583.1 L1926.9,585.1 L1928.8,587.0 L1930.8,589.0 L1932.8,590.9 L1934.8,592.9 L1936.8,594.8 L1938.8,596.7 L1940.9,598.7 L1942.9,600.6 L1945.0,602.6 L1947.1,604.5 L1949.2,606.5 L1951.3,608.4 L1953.4,610.4 L1955.5,612.3 L1957.7,614.2 L1959.8,616.2 L1962.0,618.1 L1964.2,620.1 L1966.4,622.0 L1968.6,624.0 L1970.8,625.9 L1973.1,627.8 L1975.4,629.8 L1977.6,631.7 L1979.9,633.7 L1982.3,635.6 L1984.6,637.6 L1986.9,639.5 L1989.3,641.4 L1991.7,643.4 L1994.1,645.3 L1996.5,647.3 L1998.9,649.2 L2001.4,651.2 L2003.9,653.1 L2006.4,655.0 L2008.9,657.0 L2011.4,658.9 L2013.9,660.9 L2016.5,662.8 L2019.1,664.8 L2021.7,666.7 L2024.3,668.6 L2027.0,670.6 L2029.7,672.5 L2032.4,674.5 L2035.1,676.4 L2037.8,678.4 L2040.6,680.3 L2043.4,682.2 L2046.2,684.2 L2049.0,686.1 L2051.9,688.1 L2054.7,690.0 L2057.6,692.0 L2060.6,693.9 L2063.5,695.8 L2066.5,697.8 L2069.5,699.7 L2072.6,701.7 L2075.6,703.6 L2078.7,705.6 L2081.9,707.5 L2085.0,709.4 L2088.2,711.4 L2091.4,713.3 L2094.6,715.3 L2097.9,717.2 L2101.2,719.2 L2104.6,721.1 L2107.9,723.0 L2111.3,725.0 L2114.8,726.9 L2118.3,728.9 L2121.8,730.8 L2125.3,732.8 L2128.9,734.7 L2132.5,736.6 L2136.2,738.6 L2139.9,740.5 L2143.6,742.5 L2147.4,744.4 L2151.3,746.4 L2155.1,748.3 L2159.0,750.3 L2163.0,752.2 L2167.0,754.1 L2171.1,756.1 L2175.2,758.0"/>
<path d="M1805.3,76.0 L1806.2,78.0 L1807.2,79.9 L1808.1,81.8 L1809.0,83.8 L1809.9,85.7 L1810.8,87.7 L1811.7,89.6 L1812.7,91.6 L1813.6,93.5 L1814.5,95.4 L1815.5,97.4 L1816.4,99.3 L1817.3,101.3 L1818.3,103.2 L1819.2,105.2 L1820.1,107.1 L1821.1,109.0 L1822.0,111.0 L1823.0,112.9 L1823.9,114.9 L1824.9,116.8 L1825.8,118.8 L1826.8,120.7 L1827.8,122.6 L1828.7,124.6 L1829.7,126.5 L1830.6,128.5 L1831.6,130.4 L1832.6,132.4 L1833.6,134.3 L1834.5,136.2 L1835.5,138.2 L1836.5,140.1 L1837.5,142.1 L1838.5,144.0 L1839.4,146.0 L1840.4,147.9 L1841.4,149.8 L1842.4,151.8 L1843.4,153.7 L1844.4,155.7 L1845.4,157.6 L1846.4,159.6 L1847.4,161.5 L1848.4,163.4 L1849.4,165.4 L1850.4,167.3 L1851.4,169.3 L1852.4,171.2 L1853.5,173.2 L1854.5,175.1 L1855.5,177.0 L1856.5,179.0 L1857.6,180.9 L1858.6,182.9 L1859.6,184.8 L1860.6,186.8 L1861.7,188.7 L1862.7,190.7 L1863.7,192.6 L1864.8,194.5 L1865.8,196.5 L1866.9,198.4 L1867.9,200.4 L1869.0,202.3 L1870.0,204.3 L1871.1,206.2 L1872.1,208.1 L1873.2,210.1 L1874.3,212.0 L1875.3,214.0 L1876.4,215.9 L1877.5,217.9 L1878.5,219.8 L1879.6,221.7 L1880.7,223.7 L1881.8,225.6 L1882.8,227.6 L1883.9,229.5 L1885.0,231.5 L1886.1,233.4 L1887.2,235.3 L1888.3,237.3 L1889.4,239.2 L1890.5,241.2 L1891.6,243.1 L1892.7,245.1 L1893.8,247.0 L1894.9,248.9 L1896.0,250.9 L1897.1,252.8 L1898.3,254.8 L1899.4,256.7 L1900.5,258.7 L1901.6,260.6 L1902.8,262.5 L1903.9,264.5 L1905.0,266.4 L1906.2,268.4 L1907.3,270.3 L1908.5,272.3 L1909.6,274.2 L1910.8,276.1 L1911.9,278.1 L1913.1,280.0 L1914.2,282.0 L1915.4,283.9 L1916.6,285.9 L1917.7,287.8 L1918.9,289.7 L1920.1,291.7 L1921.2,293.6 L1922.4,295.6 L1923.6,297.5 L1924.8,299.5 L1926.0,301.4 L1927.2,303.3 L1928.4,305.3 L1929.6,307.2 L1930.8,309.2 L1932.0,311.1 L1933.2,313.1 L1934.4,315.0 L1935.7,316.9 L1936.9,318.9 L1938.1,320.8 L1939.3,322.8 L1940.6,324.7 L1941.8,326.7 L1943.0,328.6 L1944.3,330.6 L1945.5,332.5 L1946.8,334.4 L1948.0,336.4 L1949.3,338.3 L1950.6,340.3 L1951.8,342.2 L1953.1,344.2 L1954.4,346.1 L1955.7,348.0 L1957.0,350.0 L1958.3,351.9 L1959.5,353.9 L1960.8,355.8 L1962.1,357.8 L1963.5,359.7 L1964.8,361.6 L1966.1,363.6 L1967.4,365.5 L1968.7,367.5 L1970.1,369.4 L1971.4,371.4 L1972.7,373.3 L1974.1,375.2 L1975.4,377.2 L1976.8,379.1 L1978.1,381.1 L1979.5,383.0 L1980.9,385.0 L1982.3,386.9 L1983.6,388.8 L1985.0,390.8 L1986.4,392.7 L1987.8,394.7 L1989.2,396.6 L1990.6,398.6 L1992.0,400.5 L1993.4,402.4 L1994.9,404.4 L1996.3,406.3 L1997.7,408.3 L1999.2,410.2 L2000.6,412.2 L2002.1,414.1 L2003.5,416.0 L2005.0,418.0 L2006.5,419.9 L2007.9,421.9 L2009.4,423.8 L2010.9,425.8 L2012.4,427.7 L2013.9,429.6 L2015.4,431.6 L2017.0,433.5 L2018.5,435.5 L2020.0,437.4 L2021.5,439.4 L2023.1,441.3 L2024.6,443.2 L2026.2,445.2 L2027.8,447.1 L2029.3,449.1 L2030.9,451.0 L2032.5,453.0 L2034.1,454.9 L2035.7,456.8 L2037.3,458.8 L2038.9,460.7 L2040.6,462.7 L2042.2,464.6 L2043.8,466.6 L2045.5,468.5 L2047.1,470.5 L2048.8,472.4 L2050.5,474.3 L2052.2,476.3 L2053.9,478.2 L2055.6,480.2 L2057.3,482.1 L2059.0,484.1 L2060.7,486.0 L2062.5,487.9 L2064.2,489.9 L2066.0,491.8 L2067.7,493.8 L2069.5,495.7 L2071.3,497.7 L2073.1,499.6 L2074.9,501.5 L2076.7,503.5 L2078.5,505.4 L2080.4,507.4 L2082.2,509.3 L2084.1,511.3 L2086.0,513.2 L2087.8,515.1 L2089.7,517.1 L2091.6,519.0 L2093.6,521.0 L2095.5,522.9 L2097.4,524.9 L2099.4,526.8 L2101.3,528.7 L2103.3,530.7 L2105.3,532.6 L2107.3,534.6 L2109.3,536.5 L2111.3,538.5 L2113.4,540.4 L2115.4,542.3 L2117.5,544.3 L2119.6,546.2 L2121.7,548.2 L2123.8,550.1 L2125.9,552.1 L2128.0,554.0 L2130.2,555.9 L2132.3,557.9 L2134.5,559.8 L2136.7,561.8 L2138.9,563.7 L2141.1,565.7 L2143.4,567.6 L2145.6,569.5 L2147.9,571.5 L2150.2,573.4 L2152.5,575.4 L2154.8,577.3 L2157.2,579.3 L2159.5,581.2 L2161.9,583.1 L2164.3,585.1 L2166.7,587.0 L2169.1,589.0 L2171.6,590.9 L2174.1,592.9 L2176.6,594.8"/>
</g>
<text x="1438.6" y="835.8" transform="rotate(36.6 1438.6 835.8)" font-size="28.7" fill="#E7298A" text-anchor="middle" dominant-baseline="central">10</text>
<text x="1751.3" y="839.5" transform="rotate(24.8 1751.3 839.5)" font-size="28.7" fill="#E7298A" text-anchor="middle" dominant-baseline="central">15</text>
<text x="1991.6" y="548.0" font-size="28.7" fill="#7570B3" text-anchor="middle" dominant-baseline="central">40</text>
<text x="1996.8" y="654.5" font-size="28.7" fill="#7570B3" text-anchor="middle" dominant-baseline="central">80</text>
<text x="1886.3" y="693.3" font-size="28.7" fill="#7570B3" text-anchor="middle" dominant-baseline="central">100</text>
<text x="1981.6" y="722.2" font-size="28.7" fill="#7570B3" text-anchor="middle" dominant-baseline="central">120</text>
<text x="1891.0" y="748.8" font-size="28.7" fill="#7570B3" text-anchor="middle" dominant-baseline="central">140</text>
<text x="2006.6" y="769.9" font-size="28.7" fill="#7570B3" text-anchor="middle" dominant-baseline="central">160</text>
<text x="1937.6" y="791.3" font-size="28.7" fill="#7570B3" text-anchor="middle" dominant-baseline="central">180</text>
<text x="1845.0" y="811.6" font-size="28.7" fill="#7570B3" text-anchor="middle" dominant-baseline="central">200</text>
<text x="1746.5" y="830.4" font-size="28.7" fill="#7570B3" text-anchor="middle" dominant-baseline="central">220</text>
<text x="2028.0" y="839.3" font-size="28.7" fill="#7570B3" text-anchor="middle" dominant-baseline="central">240</text>
</g>
<rect x="1177.5" y="45.0" width="837.5" height="837.3" fill="none" stroke="#000" stroke-width="3.3"/>
<path d="M1208.5,882.3 V907.7 M1402.4,882.3 V907.7 M1596.2,882.3 V907.7 M1790.1,882.3 V907.7 M1984.0,882.3 V907.7 M1177.5,851.3 H1151.9 M1177.5,696.2 H1151.9 M1177.5,541.2 H1151.9 M1177.5,386.1 H1151.9 M1177.5,231.1 H1151.9 M1177.5,76.0 H1151.9" stroke="#000" stroke-width="3.1" stroke-linecap="round" fill="none"/>
<text x="1208.5" y="946.0" font-size="41" text-anchor="middle">15</text>
<text x="1402.4" y="946.0" font-size="41" text-anchor="middle">20</text>
<text x="1596.2" y="946.0" font-size="41" text-anchor="middle">25</text>
<text x="1790.1" y="946.0" font-size="41" text-anchor="middle">30</text>
<text x="1984.0" y="946.0" font-size="41" text-anchor="middle">35</text>
<text x="1143.2" y="851.3" font-size="41" text-anchor="middle" transform="rotate(-90 1143.2 851.3)">0</text>
<text x="1143.2" y="696.2" font-size="41" text-anchor="middle" transform="rotate(-90 1143.2 696.2)">20</text>
<text x="1143.2" y="541.2" font-size="41" text-anchor="middle" transform="rotate(-90 1143.2 541.2)">40</text>
<text x="1143.2" y="386.1" font-size="41" text-anchor="middle" transform="rotate(-90 1143.2 386.1)">60</text>
<text x="1143.2" y="231.1" font-size="41" text-anchor="middle" transform="rotate(-90 1143.2 231.1)">80</text>
<text x="1143.2" y="76.0" font-size="41" text-anchor="middle" transform="rotate(-90 1143.2 76.0)">100</text>
<text x="1596.2" y="995.1" font-size="41" text-anchor="middle">Temperature [°C]</text>
<text x="1094.1" y="463.6" font-size="41" text-anchor="middle" transform="rotate(-90 1094.1 463.6)">Relative humidity [%]</text>
<text x="1596.2" y="34.9" font-size="49.2" text-anchor="middle">Model</text>
<text x="1009.1" y="34.5" font-size="49.2">(b)</text>
<defs><clipPath id="clip2"><rect x="144.0" y="1078.4" width="837.5" height="837.3"/></clipPath></defs>
<g clip-path="url(#clip2)">
<g fill="#000"><circle cx="399.0" cy="1179.2" r="9.5"/><circle cx="398.4" cy="1201.3" r="9.5"/><circle cx="422.4" cy="1200.3" r="9.5"/><circle cx="380.3" cy="1213.4" r="9.5"/><circle cx="407.2" cy="1216.6" r="9.5"/><circle cx="405.8" cy="1224.0" r="9.5"/><circle cx="416.7" cy="1226.1" r="9.5"/><circle cx="431.7" cy="1235.6" r="9.5"/><circle cx="449.3" cy="1236.9" r="9.5"/><circle cx="446.6" cy="1231.5" r="9.5"/><circle cx="469.7" cy="1229.5" r="9.5"/><circle cx="480.6" cy="1234.2" r="9.5"/><circle cx="472.4" cy="1238.3" r="9.5"/><circle cx="480.6" cy="1245.1" r="9.5"/><circle cx="411.3" cy="1246.4" r="9.5"/><circle cx="432.3" cy="1257.3" r="9.5"/><circle cx="458.8" cy="1254.6" r="9.5"/><circle cx="505.0" cy="1243.5" r="9.5"/><circle cx="494.1" cy="1257.3" r="9.5"/><circle cx="498.2" cy="1262.7" r="9.5"/><circle cx="510.4" cy="1263.4" r="9.5"/><circle cx="526.7" cy="1258.7" r="9.5"/><circle cx="528.1" cy="1272.3" r="9.5"/><circle cx="472.4" cy="1270.2" r="9.5"/><circle cx="454.1" cy="1282.4" r="9.5"/><circle cx="498.2" cy="1281.8" r="9.5"/><circle cx="496.9" cy="1287.2" r="9.5"/><circle cx="474.4" cy="1297.4" r="9.5"/><circle cx="484.6" cy="1302.1" r="9.5"/><circle cx="517.2" cy="1301.5" r="9.5"/><circle cx="509.1" cy="1322.5" r="9.5"/><circle cx="522.0" cy="1325.2" r="9.5"/><circle cx="515.9" cy="1355.1" r="9.5"/><circle cx="530.0" cy="1352.4" r="9.5"/><circle cx="493.5" cy="1421.2" r="9.5"/><circle cx="451.3" cy="1454.5" r="9.5"/><circle cx="469.4" cy="1465.4" r="9.5"/><circle cx="440.5" cy="1483.5" r="9.5"/><circle cx="504.3" cy="1485.1" r="9.5"/><circle cx="496.2" cy="1499.4" r="9.5"/><circle cx="514.5" cy="1504.1" r="9.5"/><circle cx="490.7" cy="1512.9" r="9.5"/><circle cx="508.4" cy="1516.3" r="9.5"/><circle cx="514.5" cy="1520.4" r="9.5"/><circle cx="489.2" cy="1525.8" r="9.5"/><circle cx="528.1" cy="1519.0" r="9.5"/><circle cx="435.5" cy="1545.5" r="9.5"/><circle cx="450.4" cy="1551.7" r="9.5"/><circle cx="465.6" cy="1554.4" r="9.5"/><circle cx="524.0" cy="1544.9" r="9.5"/><circle cx="518.6" cy="1564.6" r="9.5"/><circle cx="492.5" cy="1577.2" r="9.5"/><circle cx="495.5" cy="1586.3" r="9.5"/><circle cx="442.2" cy="1590.4" r="9.5"/><circle cx="422.4" cy="1597.2" r="9.5"/><circle cx="477.4" cy="1597.2" r="9.5"/><circle cx="517.2" cy="1608.7" r="9.5"/><circle cx="480.6" cy="1626.4" r="9.5"/><circle cx="528.1" cy="1626.4" r="9.5"/><circle cx="395.4" cy="1638.6" r="9.5"/><circle cx="477.2" cy="1645.4" r="9.5"/><circle cx="513.2" cy="1644.0" r="9.5"/><circle cx="435.7" cy="1650.0" r="9.5"/><circle cx="446.6" cy="1650.0" r="9.5"/><circle cx="454.5" cy="1671.4" r="9.5"/><circle cx="478.5" cy="1660.6" r="9.5"/><circle cx="484.0" cy="1669.4" r="9.5"/><circle cx="478.5" cy="1681.6" r="9.5"/><circle cx="486.0" cy="1698.6" r="9.5"/><circle cx="506.4" cy="1708.8" r="9.5"/><circle cx="514.5" cy="1664.0" r="9.5"/><circle cx="511.1" cy="1674.8" r="9.5"/><circle cx="528.1" cy="1678.9" r="9.5"/><circle cx="528.1" cy="1703.4" r="9.5"/><circle cx="524.0" cy="1726.4" r="9.5"/><circle cx="528.1" cy="1745.5" r="9.5"/><circle cx="296.5" cy="1713.5" r="9.5"/><circle cx="371.2" cy="1727.8" r="9.5"/><circle cx="435.5" cy="1713.5" r="9.5"/><circle cx="457.5" cy="1711.5" r="9.5"/><circle cx="459.5" cy="1727.1" r="9.5"/><circle cx="476.5" cy="1723.7" r="9.5"/><circle cx="508.4" cy="1788.3" r="9.5"/><circle cx="549.6" cy="1264.1" r="9.5"/><circle cx="569.3" cy="1268.2" r="9.5"/><circle cx="534.6" cy="1272.3" r="9.5"/><circle cx="540.8" cy="1280.4" r="9.5"/><circle cx="542.8" cy="1293.3" r="9.5"/><circle cx="592.4" cy="1311.7" r="9.5"/><circle cx="597.8" cy="1321.2" r="9.5"/><circle cx="608.0" cy="1328.0" r="9.5"/><circle cx="558.4" cy="1319.8" r="9.5"/><circle cx="567.2" cy="1330.7" r="9.5"/><circle cx="559.8" cy="1342.9" r="9.5"/><circle cx="572.0" cy="1348.3" r="9.5"/><circle cx="565.2" cy="1351.0" r="9.5"/><circle cx="601.9" cy="1357.8" r="9.5"/><circle cx="589.7" cy="1363.3" r="9.5"/><circle cx="603.2" cy="1368.7" r="9.5"/><circle cx="622.3" cy="1359.2" r="9.5"/><circle cx="625.0" cy="1364.6" r="9.5"/><circle cx="543.5" cy="1378.2" r="9.5"/><circle cx="592.4" cy="1380.9" r="9.5"/><circle cx="619.5" cy="1383.6" r="9.5"/><circle cx="574.7" cy="1395.9" r="9.5"/><circle cx="581.5" cy="1399.9" r="9.5"/><circle cx="599.2" cy="1401.3" r="9.5"/><circle cx="622.3" cy="1401.3" r="9.5"/><circle cx="633.1" cy="1398.6" r="9.5"/><circle cx="642.6" cy="1405.4" r="9.5"/><circle cx="551.6" cy="1410.0" r="9.5"/><circle cx="574.0" cy="1421.2" r="9.5"/><circle cx="578.1" cy="1424.6" r="9.5"/><circle cx="500.0" cy="1421.2" r="9.5"/><circle cx="629.0" cy="1413.1" r="9.5"/><circle cx="646.0" cy="1414.5" r="9.5"/><circle cx="618.2" cy="1390.0" r="9.5"/><circle cx="552.3" cy="1447.1" r="9.5"/><circle cx="588.3" cy="1446.4" r="9.5"/><circle cx="627.7" cy="1432.1" r="9.5"/><circle cx="639.9" cy="1434.8" r="9.5"/><circle cx="660.3" cy="1431.4" r="9.5"/><circle cx="619.5" cy="1444.3" r="9.5"/><circle cx="622.3" cy="1457.9" r="9.5"/><circle cx="642.6" cy="1455.2" r="9.5"/><circle cx="638.6" cy="1468.8" r="9.5"/><circle cx="667.1" cy="1456.6" r="9.5"/><circle cx="598.5" cy="1466.8" r="9.5"/><circle cx="616.1" cy="1472.9" r="9.5"/><circle cx="687.5" cy="1471.5" r="9.5"/><circle cx="554.3" cy="1480.3" r="9.5"/><circle cx="649.4" cy="1482.4" r="9.5"/><circle cx="668.4" cy="1481.0" r="9.5"/><circle cx="690.2" cy="1489.2" r="9.5"/><circle cx="635.8" cy="1490.5" r="9.5"/><circle cx="619.5" cy="1500.0" r="9.5"/><circle cx="634.5" cy="1500.0" r="9.5"/><circle cx="563.2" cy="1499.4" r="9.5"/><circle cx="701.0" cy="1501.4" r="9.5"/><circle cx="663.0" cy="1502.7" r="9.5"/><circle cx="673.9" cy="1505.5" r="9.5"/><circle cx="672.5" cy="1516.3" r="9.5"/><circle cx="589.7" cy="1517.7" r="9.5"/><circle cx="597.8" cy="1513.6" r="9.5"/><circle cx="608.7" cy="1512.3" r="9.5"/><circle cx="501.4" cy="1501.4" r="9.5"/><circle cx="532.6" cy="1522.4" r="9.5"/><circle cx="566.6" cy="1522.4" r="9.5"/><circle cx="548.9" cy="1527.2" r="9.5"/><circle cx="562.5" cy="1539.4" r="9.5"/><circle cx="573.4" cy="1548.9" r="9.5"/><circle cx="531.2" cy="1542.1" r="9.5"/><circle cx="592.4" cy="1540.8" r="9.5"/><circle cx="610.0" cy="1528.6" r="9.5"/><circle cx="627.7" cy="1528.6" r="9.5"/><circle cx="646.7" cy="1532.6" r="9.5"/><circle cx="668.4" cy="1532.6" r="9.5"/><circle cx="669.8" cy="1525.8" r="9.5"/><circle cx="713.3" cy="1540.1" r="9.5"/><circle cx="730.9" cy="1536.7" r="9.5"/><circle cx="554.3" cy="1555.0" r="9.5"/><circle cx="622.3" cy="1548.9" r="9.5"/><circle cx="642.6" cy="1546.2" r="9.5"/><circle cx="663.0" cy="1550.3" r="9.5"/><circle cx="683.4" cy="1553.0" r="9.5"/><circle cx="595.1" cy="1559.8" r="9.5"/><circle cx="585.6" cy="1566.6" r="9.5"/><circle cx="604.6" cy="1576.1" r="9.5"/><circle cx="592.4" cy="1577.5" r="9.5"/><circle cx="568.6" cy="1574.1" r="9.5"/><circle cx="629.0" cy="1578.8" r="9.5"/><circle cx="635.8" cy="1559.8" r="9.5"/><circle cx="649.4" cy="1566.6" r="9.5"/><circle cx="660.3" cy="1561.2" r="9.5"/><circle cx="669.8" cy="1573.4" r="9.5"/><circle cx="690.2" cy="1569.3" r="9.5"/><circle cx="707.8" cy="1576.1" r="9.5"/><circle cx="740.4" cy="1571.3" r="9.5"/><circle cx="557.1" cy="1589.7" r="9.5"/><circle cx="576.1" cy="1593.8" r="9.5"/><circle cx="649.4" cy="1587.0" r="9.5"/><circle cx="663.0" cy="1588.3" r="9.5"/><circle cx="676.6" cy="1582.9" r="9.5"/><circle cx="697.0" cy="1580.2" r="9.5"/><circle cx="703.8" cy="1589.7" r="9.5"/><circle cx="727.5" cy="1589.7" r="9.5"/><circle cx="541.4" cy="1602.6" r="9.5"/><circle cx="581.5" cy="1600.6" r="9.5"/><circle cx="573.4" cy="1601.9" r="9.5"/><circle cx="599.2" cy="1593.8" r="9.5"/><circle cx="601.9" cy="1606.0" r="9.5"/><circle cx="611.4" cy="1616.9" r="9.5"/><circle cx="565.2" cy="1615.5" r="9.5"/><circle cx="563.8" cy="1620.9" r="9.5"/><circle cx="545.5" cy="1628.4" r="9.5"/><circle cx="595.1" cy="1620.9" r="9.5"/><circle cx="593.7" cy="1631.8" r="9.5"/><circle cx="639.9" cy="1608.7" r="9.5"/><circle cx="657.6" cy="1603.3" r="9.5"/><circle cx="676.6" cy="1614.1" r="9.5"/><circle cx="692.9" cy="1599.2" r="9.5"/><circle cx="711.9" cy="1607.3" r="9.5"/><circle cx="629.0" cy="1623.6" r="9.5"/><circle cx="644.0" cy="1620.9" r="9.5"/><circle cx="664.4" cy="1629.1" r="9.5"/><circle cx="688.8" cy="1631.8" r="9.5"/><circle cx="699.7" cy="1620.9" r="9.5"/><circle cx="714.6" cy="1625.0" r="9.5"/><circle cx="627.7" cy="1638.6" r="9.5"/><circle cx="637.2" cy="1639.9" r="9.5"/><circle cx="706.5" cy="1641.3" r="9.5"/><circle cx="676.6" cy="1648.1" r="9.5"/><circle cx="749.9" cy="1650.0" r="9.5"/><circle cx="657.6" cy="1650.0" r="9.5"/><circle cx="601.9" cy="1650.0" r="9.5"/><circle cx="581.5" cy="1650.0" r="9.5"/><circle cx="665.7" cy="1634.1" r="9.5"/><circle cx="581.5" cy="1657.2" r="9.5"/><circle cx="546.2" cy="1669.4" r="9.5"/><circle cx="601.2" cy="1668.7" r="9.5"/><circle cx="658.3" cy="1655.8" r="9.5"/><circle cx="667.1" cy="1658.5" r="9.5"/><circle cx="686.1" cy="1655.8" r="9.5"/><circle cx="713.3" cy="1656.5" r="9.5"/><circle cx="538.0" cy="1692.5" r="9.5"/><circle cx="561.1" cy="1682.3" r="9.5"/><circle cx="567.9" cy="1673.5" r="9.5"/><circle cx="581.5" cy="1678.9" r="9.5"/><circle cx="595.1" cy="1688.4" r="9.5"/><circle cx="576.1" cy="1693.8" r="9.5"/><circle cx="615.5" cy="1680.3" r="9.5"/><circle cx="634.5" cy="1672.1" r="9.5"/><circle cx="635.8" cy="1684.3" r="9.5"/><circle cx="654.9" cy="1673.5" r="9.5"/><circle cx="653.5" cy="1684.3" r="9.5"/><circle cx="615.5" cy="1688.4" r="9.5"/><circle cx="675.2" cy="1674.8" r="9.5"/><circle cx="684.7" cy="1673.5" r="9.5"/><circle cx="709.2" cy="1674.8" r="9.5"/><circle cx="728.2" cy="1669.4" r="9.5"/><circle cx="737.7" cy="1674.8" r="9.5"/><circle cx="749.9" cy="1687.1" r="9.5"/><circle cx="758.1" cy="1703.4" r="9.5"/><circle cx="539.4" cy="1712.9" r="9.5"/><circle cx="597.8" cy="1699.3" r="9.5"/><circle cx="606.0" cy="1710.1" r="9.5"/><circle cx="630.4" cy="1706.1" r="9.5"/><circle cx="619.5" cy="1711.5" r="9.5"/><circle cx="669.8" cy="1697.9" r="9.5"/><circle cx="649.4" cy="1704.7" r="9.5"/><circle cx="648.1" cy="1718.3" r="9.5"/><circle cx="663.0" cy="1711.5" r="9.5"/><circle cx="673.9" cy="1718.3" r="9.5"/><circle cx="682.0" cy="1722.4" r="9.5"/><circle cx="690.2" cy="1708.8" r="9.5"/><circle cx="697.0" cy="1697.9" r="9.5"/><circle cx="706.5" cy="1700.6" r="9.5"/><circle cx="706.5" cy="1718.3" r="9.5"/><circle cx="748.6" cy="1714.2" r="9.5"/><circle cx="758.1" cy="1722.4" r="9.5"/><circle cx="588.3" cy="1726.4" r="9.5"/><circle cx="620.9" cy="1727.8" r="9.5"/><circle cx="630.4" cy="1730.5" r="9.5"/><circle cx="680.7" cy="1733.2" r="9.5"/><circle cx="542.1" cy="1734.6" r="9.5"/><circle cx="572.0" cy="1736.0" r="9.5"/><circle cx="536.7" cy="1746.8" r="9.5"/><circle cx="550.3" cy="1746.8" r="9.5"/><circle cx="563.8" cy="1744.1" r="9.5"/><circle cx="574.7" cy="1748.2" r="9.5"/><circle cx="582.9" cy="1746.8" r="9.5"/><circle cx="600.5" cy="1753.6" r="9.5"/><circle cx="603.2" cy="1761.8" r="9.5"/><circle cx="629.0" cy="1746.8" r="9.5"/><circle cx="683.4" cy="1744.1" r="9.5"/><circle cx="548.2" cy="1763.1" r="9.5"/><circle cx="573.4" cy="1763.1" r="9.5"/><circle cx="621.6" cy="1767.2" r="9.5"/><circle cx="662.3" cy="1776.0" r="9.5"/><circle cx="649.4" cy="1792.3" r="9.5"/><circle cx="773.0" cy="1675.2" r="9.5"/><circle cx="779.2" cy="1681.4" r="9.5"/><circle cx="763.7" cy="1720.2" r="9.5"/><circle cx="777.6" cy="1712.4" r="9.5"/></g>
<g fill="#f00"><circle cx="608.7" cy="1324.6" r="9.5"/><circle cx="626.3" cy="1330.7" r="9.5"/><circle cx="635.2" cy="1353.8" r="9.5"/><circle cx="641.3" cy="1380.9" r="9.5"/><circle cx="650.8" cy="1385.0" r="9.5"/><circle cx="666.4" cy="1378.2" r="9.5"/><circle cx="685.4" cy="1364.6" r="9.5"/><circle cx="682.0" cy="1372.8" r="9.5"/><circle cx="711.2" cy="1383.6" r="9.5"/><circle cx="670.5" cy="1405.4" r="9.5"/><circle cx="692.2" cy="1410.0" r="9.5"/><circle cx="692.2" cy="1416.5" r="9.5"/><circle cx="710.6" cy="1426.7" r="9.5"/><circle cx="681.3" cy="1444.3" r="9.5"/><circle cx="684.7" cy="1455.9" r="9.5"/><circle cx="728.9" cy="1510.2" r="9.5"/><circle cx="737.0" cy="1509.5" r="9.5"/><circle cx="750.6" cy="1538.7" r="9.5"/><circle cx="642.6" cy="1390.0" r="9.5"/><circle cx="710.6" cy="1390.0" r="9.5"/></g>
<g fill="none" stroke="#7570B3" stroke-width="3.7" stroke-linecap="round" stroke-linejoin="round">
<path d="M132.4,1252.3 L139.6,1251.7 L146.8,1251.1 L154.1,1250.6 L161.3,1250.0 L168.5,1249.4 L175.8,1248.9 L183.0,1248.3 L190.2,1247.7 L197.5,1247.2 L204.7,1246.6 L211.9,1246.0 L219.2,1245.5 L226.4,1244.9 L233.6,1244.3 L240.9,1243.7 L248.1,1243.2 L255.3,1242.6 L262.6,1242.0 L269.8,1241.5 L277.0,1240.9 L284.3,1240.3 L291.5,1239.8 L298.7,1239.2 L306.0,1238.6 L313.2,1238.1 L320.4,1237.5 L327.7,1236.9 L334.9,1236.4 L342.1,1235.8 L349.4,1235.2 L356.6,1234.6 L363.8,1234.1 L371.1,1233.5 L378.3,1232.9 L385.5,1232.4 L392.8,1231.8 L400.0,1231.2 L407.2,1230.7 L414.5,1230.1 L421.7,1229.5 L428.9,1229.0 L436.2,1228.4 L443.4,1227.8 L450.6,1227.3 L457.9,1226.7 L465.1,1226.1 L472.3,1225.5 L479.6,1225.0 L486.8,1224.4 L494.0,1223.8 L501.3,1223.3 L508.5,1222.7 L515.7,1222.1 L523.0,1221.6 L530.2,1221.0 L537.4,1220.4 L544.7,1219.9 L551.9,1219.3 L559.1,1218.7 L566.4,1218.2 L573.6,1217.6 L580.8,1217.0 L588.1,1216.4 L595.3,1215.9 L602.5,1215.3 L609.8,1214.7 L617.0,1214.2 L624.2,1213.6 L631.5,1213.0 L638.7,1212.5 L645.9,1211.9 L653.2,1211.3 L660.4,1210.8 L667.6,1210.2 L674.9,1209.6 L682.1,1209.0 L689.3,1208.5 L696.6,1207.9 L703.8,1207.3 L711.0,1206.8 L718.3,1206.2 L725.5,1205.6 L732.7,1205.1 L740.0,1204.5 L747.2,1203.9 L754.4,1203.4 L761.7,1202.8 L768.9,1202.2 L776.1,1201.7 L783.4,1201.1 L790.6,1200.5 L797.8,1199.9 L805.1,1199.4 L812.3,1198.8 L819.5,1198.2 L826.8,1197.7 L834.0,1197.1 L841.2,1196.5 L848.5,1196.0 L855.7,1195.4 L862.9,1194.8 L870.2,1194.3 L877.4,1193.7 L884.6,1193.1 L891.9,1192.6 L899.1,1192.0 L906.3,1191.4 L913.6,1190.8 L920.8,1190.3 L928.0,1189.7 L935.3,1189.1 L942.5,1188.6 L949.7,1188.0 L957.0,1187.4 L964.2,1186.9 L971.4,1186.3 L978.7,1185.7 L985.9,1185.2 L993.1,1184.6"/>
<path d="M132.4,1513.6 L139.6,1513.3 L146.8,1513.1 L154.1,1512.8 L161.3,1512.5 L168.5,1512.3 L175.8,1512.0 L183.0,1511.7 L190.2,1511.5 L197.5,1511.2 L204.7,1510.9 L211.9,1510.7 L219.2,1510.4 L226.4,1510.1 L233.6,1509.8 L240.9,1509.6 L248.1,1509.3 L255.3,1509.0 L262.6,1508.8 L269.8,1508.5 L277.0,1508.2 L284.3,1508.0 L291.5,1507.7 L298.7,1507.4 L306.0,1507.2 L313.2,1506.9 L320.4,1506.6 L327.7,1506.4 L334.9,1506.1 L342.1,1505.8 L349.4,1505.6 L356.6,1505.3 L363.8,1505.0 L371.1,1504.8 L378.3,1504.5 L385.5,1504.2 L392.8,1504.0 L400.0,1503.7 L407.2,1503.5 L414.5,1503.2 L421.7,1502.9 L428.9,1502.7 L436.2,1502.4 L443.4,1502.1 L450.6,1501.9 L457.9,1501.6 L465.1,1501.3 L472.3,1501.1 L479.6,1500.8 L486.8,1500.6 L494.0,1500.3 L501.3,1500.0 L508.5,1499.8 L515.7,1499.5 L523.0,1499.2 L530.2,1499.0 L537.4,1498.7 L544.7,1498.5 L551.9,1498.2 L559.1,1497.9 L566.4,1497.7 L573.6,1497.4 L580.8,1497.1 L588.1,1496.9 L595.3,1496.6 L602.5,1496.4 L609.8,1496.1 L617.0,1495.8 L624.2,1495.6 L631.5,1495.3 L638.7,1495.1 L645.9,1494.8 L653.2,1494.5 L660.4,1494.3 L667.6,1494.0 L674.9,1493.8 L682.1,1493.5 L689.3,1493.3 L696.6,1493.0 L703.8,1492.7 L711.0,1492.5 L718.3,1492.2 L725.5,1492.0 L732.7,1491.7 L740.0,1491.4 L747.2,1491.2 L754.4,1490.9 L761.7,1490.7 L768.9,1490.4 L776.1,1490.2 L783.4,1489.9 L790.6,1489.7 L797.8,1489.4 L805.1,1489.1 L812.3,1488.9 L819.5,1488.6 L826.8,1488.4 L834.0,1488.1 L841.2,1487.9 L848.5,1487.6 L855.7,1487.4 L862.9,1487.1 L870.2,1486.8 L877.4,1486.6 L884.6,1486.3 L891.9,1486.1 L899.1,1485.8 L906.3,1485.6 L913.6,1485.3 L920.8,1485.1 L928.0,1484.8 L935.3,1484.6 L942.5,1484.3 L949.7,1484.0 L957.0,1483.8 L964.2,1483.5 L971.4,1483.3 L978.7,1483.0 L985.9,1482.8 L993.1,1482.5"/>
<path d="M132.4,1606.1 L139.6,1605.9 L146.8,1605.7 L154.1,1605.4 L161.3,1605.2 L168.5,1605.0 L175.8,1604.8 L183.0,1604.5 L190.2,1604.3 L197.5,1604.1 L204.7,1603.8 L211.9,1603.6 L219.2,1603.4 L226.4,1603.2 L233.6,1602.9 L240.9,1602.7 L248.1,1602.5 L255.3,1602.3 L262.6,1602.0 L269.8,1601.8 L277.0,1601.6 L284.3,1601.4 L291.5,1601.1 L298.7,1600.9 L306.0,1600.7 L313.2,1600.5 L320.4,1600.2 L327.7,1600.0 L334.9,1599.8 L342.1,1599.6 L349.4,1599.3 L356.6,1599.1 L363.8,1598.9 L371.1,1598.7 L378.3,1598.4 L385.5,1598.2 L392.8,1598.0 L400.0,1597.8 L407.2,1597.5 L414.5,1597.3 L421.7,1597.1 L428.9,1596.9 L436.2,1596.6 L443.4,1596.4 L450.6,1596.2 L457.9,1596.0 L465.1,1595.8 L472.3,1595.5 L479.6,1595.3 L486.8,1595.1 L494.0,1594.9 L501.3,1594.6 L508.5,1594.4 L515.7,1594.2 L523.0,1594.0 L530.2,1593.8 L537.4,1593.5 L544.7,1593.3 L551.9,1593.1 L559.1,1592.9 L566.4,1592.7 L573.6,1592.4 L580.8,1592.2 L588.1,1592.0 L595.3,1591.8 L602.5,1591.6 L609.8,1591.3 L617.0,1591.1 L624.2,1590.9 L631.5,1590.7 L638.7,1590.5 L645.9,1590.2 L653.2,1590.0 L660.4,1589.8 L667.6,1589.6 L674.9,1589.4 L682.1,1589.1 L689.3,1588.9 L696.6,1588.7 L703.8,1588.5 L711.0,1588.3 L718.3,1588.1 L725.5,1587.8 L732.7,1587.6 L740.0,1587.4 L747.2,1587.2 L754.4,1587.0 L761.7,1586.7 L768.9,1586.5 L776.1,1586.3 L783.4,1586.1 L790.6,1585.9 L797.8,1585.7 L805.1,1585.4 L812.3,1585.2 L819.5,1585.0 L826.8,1584.8 L834.0,1584.6 L841.2,1584.4 L848.5,1584.2 L855.7,1583.9 L862.9,1583.7 L870.2,1583.5 L877.4,1583.3 L884.6,1583.1 L891.9,1582.9 L899.1,1582.6 L906.3,1582.4 L913.6,1582.2 L920.8,1582.0 L928.0,1581.8 L935.3,1581.6 L942.5,1581.4 L949.7,1581.1 L957.0,1580.9 L964.2,1580.7 L971.4,1580.5 L978.7,1580.3 L985.9,1580.1 L993.1,1579.9"/>
<path d="M132.4,1665.5 L139.6,1665.3 L146.8,1665.1 L154.1,1664.9 L161.3,1664.7 L168.5,1664.4 L175.8,1664.2 L183.0,1664.0 L190.2,1663.8 L197.5,1663.6 L204.7,1663.4 L211.9,1663.2 L219.2,1663.0 L226.4,1662.8 L233.6,1662.6 L240.9,1662.4 L248.1,1662.2 L255.3,1662.0 L262.6,1661.8 L269.8,1661.6 L277.0,1661.4 L284.3,1661.2 L291.5,1660.9 L298.7,1660.7 L306.0,1660.5 L313.2,1660.3 L320.4,1660.1 L327.7,1659.9 L334.9,1659.7 L342.1,1659.5 L349.4,1659.3 L356.6,1659.1 L363.8,1658.9 L371.1,1658.7 L378.3,1658.5 L385.5,1658.3 L392.8,1658.1 L400.0,1657.9 L407.2,1657.7 L414.5,1657.5 L421.7,1657.3 L428.9,1657.1 L436.2,1656.9 L443.4,1656.7 L450.6,1656.5 L457.9,1656.3 L465.1,1656.1 L472.3,1655.9 L479.6,1655.7 L486.8,1655.5 L494.0,1655.3 L501.3,1655.1 L508.5,1654.9 L515.7,1654.7 L523.0,1654.5 L530.2,1654.2 L537.4,1654.0 L544.7,1653.8 L551.9,1653.6 L559.1,1653.4 L566.4,1653.2 L573.6,1653.0 L580.8,1652.8 L588.1,1652.6 L595.3,1652.4 L602.5,1652.2 L609.8,1652.0 L617.0,1651.8 L624.2,1651.6 L631.5,1651.4 L638.7,1651.2 L645.9,1651.0 L653.2,1650.8 L660.4,1650.6 L667.6,1650.4 L674.9,1650.2 L682.1,1650.0 L689.3,1649.8 L696.6,1649.7 L703.8,1649.5 L711.0,1649.3 L718.3,1649.1 L725.5,1648.9 L732.7,1648.7 L740.0,1648.5 L747.2,1648.3 L754.4,1648.1 L761.7,1647.9 L768.9,1647.7 L776.1,1647.5 L783.4,1647.3 L790.6,1647.1 L797.8,1646.9 L805.1,1646.7 L812.3,1646.5 L819.5,1646.3 L826.8,1646.1 L834.0,1645.9 L841.2,1645.7 L848.5,1645.5 L855.7,1645.3 L862.9,1645.1 L870.2,1644.9 L877.4,1644.7 L884.6,1644.5 L891.9,1644.3 L899.1,1644.1 L906.3,1643.9 L913.6,1643.7 L920.8,1643.5 L928.0,1643.3 L935.3,1643.2 L942.5,1643.0 L949.7,1642.8 L957.0,1642.6 L964.2,1642.4 L971.4,1642.2 L978.7,1642.0 L985.9,1641.8 L993.1,1641.6"/>
<path d="M132.4,1709.6 L139.6,1709.4 L146.8,1709.2 L154.1,1709.0 L161.3,1708.9 L168.5,1708.7 L175.8,1708.5 L183.0,1708.3 L190.2,1708.1 L197.5,1707.9 L204.7,1707.7 L211.9,1707.5 L219.2,1707.3 L226.4,1707.1 L233.6,1706.9 L240.9,1706.7 L248.1,1706.5 L255.3,1706.3 L262.6,1706.1 L269.8,1706.0 L277.0,1705.8 L284.3,1705.6 L291.5,1705.4 L298.7,1705.2 L306.0,1705.0 L313.2,1704.8 L320.4,1704.6 L327.7,1704.4 L334.9,1704.2 L342.1,1704.0 L349.4,1703.8 L356.6,1703.7 L363.8,1703.5 L371.1,1703.3 L378.3,1703.1 L385.5,1702.9 L392.8,1702.7 L400.0,1702.5 L407.2,1702.3 L414.5,1702.1 L421.7,1701.9 L428.9,1701.8 L436.2,1701.6 L443.4,1701.4 L450.6,1701.2 L457.9,1701.0 L465.1,1700.8 L472.3,1700.6 L479.6,1700.4 L486.8,1700.2 L494.0,1700.0 L501.3,1699.9 L508.5,1699.7 L515.7,1699.5 L523.0,1699.3 L530.2,1699.1 L537.4,1698.9 L544.7,1698.7 L551.9,1698.5 L559.1,1698.3 L566.4,1698.2 L573.6,1698.0 L580.8,1697.8 L588.1,1697.6 L595.3,1697.4 L602.5,1697.2 L609.8,1697.0 L617.0,1696.8 L624.2,1696.7 L631.5,1696.5 L638.7,1696.3 L645.9,1696.1 L653.2,1695.9 L660.4,1695.7 L667.6,1695.5 L674.9,1695.4 L682.1,1695.2 L689.3,1695.0 L696.6,1694.8 L703.8,1694.6 L711.0,1694.4 L718.3,1694.2 L725.5,1694.0 L732.7,1693.9 L740.0,1693.7 L747.2,1693.5 L754.4,1693.3 L761.7,1693.1 L768.9,1692.9 L776.1,1692.7 L783.4,1692.6 L790.6,1692.4 L797.8,1692.2 L805.1,1692.0 L812.3,1691.8 L819.5,1691.6 L826.8,1691.5 L834.0,1691.3 L841.2,1691.1 L848.5,1690.9 L855.7,1690.7 L862.9,1690.5 L870.2,1690.3 L877.4,1690.2 L884.6,1690.0 L891.9,1689.8 L899.1,1689.6 L906.3,1689.4 L913.6,1689.2 L920.8,1689.1 L928.0,1688.9 L935.3,1688.7 L942.5,1688.5 L949.7,1688.3 L957.0,1688.1 L964.2,1688.0 L971.4,1687.8 L978.7,1687.6 L985.9,1687.4 L993.1,1687.2"/>
<path d="M132.4,1744.9 L139.6,1744.7 L146.8,1744.5 L154.1,1744.4 L161.3,1744.2 L168.5,1744.0 L175.8,1743.8 L183.0,1743.6 L190.2,1743.4 L197.5,1743.3 L204.7,1743.1 L211.9,1742.9 L219.2,1742.7 L226.4,1742.5 L233.6,1742.3 L240.9,1742.2 L248.1,1742.0 L255.3,1741.8 L262.6,1741.6 L269.8,1741.4 L277.0,1741.2 L284.3,1741.1 L291.5,1740.9 L298.7,1740.7 L306.0,1740.5 L313.2,1740.3 L320.4,1740.1 L327.7,1740.0 L334.9,1739.8 L342.1,1739.6 L349.4,1739.4 L356.6,1739.2 L363.8,1739.1 L371.1,1738.9 L378.3,1738.7 L385.5,1738.5 L392.8,1738.3 L400.0,1738.1 L407.2,1738.0 L414.5,1737.8 L421.7,1737.6 L428.9,1737.4 L436.2,1737.2 L443.4,1737.1 L450.6,1736.9 L457.9,1736.7 L465.1,1736.5 L472.3,1736.3 L479.6,1736.2 L486.8,1736.0 L494.0,1735.8 L501.3,1735.6 L508.5,1735.4 L515.7,1735.3 L523.0,1735.1 L530.2,1734.9 L537.4,1734.7 L544.7,1734.5 L551.9,1734.4 L559.1,1734.2 L566.4,1734.0 L573.6,1733.8 L580.8,1733.6 L588.1,1733.5 L595.3,1733.3 L602.5,1733.1 L609.8,1732.9 L617.0,1732.7 L624.2,1732.6 L631.5,1732.4 L638.7,1732.2 L645.9,1732.0 L653.2,1731.9 L660.4,1731.7 L667.6,1731.5 L674.9,1731.3 L682.1,1731.1 L689.3,1731.0 L696.6,1730.8 L703.8,1730.6 L711.0,1730.4 L718.3,1730.3 L725.5,1730.1 L732.7,1729.9 L740.0,1729.7 L747.2,1729.5 L754.4,1729.4 L761.7,1729.2 L768.9,1729.0 L776.1,1728.8 L783.4,1728.7 L790.6,1728.5 L797.8,1728.3 L805.1,1728.1 L812.3,1728.0 L819.5,1727.8 L826.8,1727.6 L834.0,1727.4 L841.2,1727.3 L848.5,1727.1 L855.7,1726.9 L862.9,1726.7 L870.2,1726.6 L877.4,1726.4 L884.6,1726.2 L891.9,1726.0 L899.1,1725.9 L906.3,1725.7 L913.6,1725.5 L920.8,1725.3 L928.0,1725.2 L935.3,1725.0 L942.5,1724.8 L949.7,1724.6 L957.0,1724.5 L964.2,1724.3 L971.4,1724.1 L978.7,1723.9 L985.9,1723.8 L993.1,1723.6"/>
<path d="M132.4,1774.4 L139.6,1774.2 L146.8,1774.0 L154.1,1773.8 L161.3,1773.7 L168.5,1773.5 L175.8,1773.3 L183.0,1773.1 L190.2,1773.0 L197.5,1772.8 L204.7,1772.6 L211.9,1772.4 L219.2,1772.2 L226.4,1772.1 L233.6,1771.9 L240.9,1771.7 L248.1,1771.5 L255.3,1771.4 L262.6,1771.2 L269.8,1771.0 L277.0,1770.8 L284.3,1770.7 L291.5,1770.5 L298.7,1770.3 L306.0,1770.1 L313.2,1770.0 L320.4,1769.8 L327.7,1769.6 L334.9,1769.4 L342.1,1769.3 L349.4,1769.1 L356.6,1768.9 L363.8,1768.7 L371.1,1768.6 L378.3,1768.4 L385.5,1768.2 L392.8,1768.0 L400.0,1767.9 L407.2,1767.7 L414.5,1767.5 L421.7,1767.3 L428.9,1767.2 L436.2,1767.0 L443.4,1766.8 L450.6,1766.6 L457.9,1766.5 L465.1,1766.3 L472.3,1766.1 L479.6,1766.0 L486.8,1765.8 L494.0,1765.6 L501.3,1765.4 L508.5,1765.3 L515.7,1765.1 L523.0,1764.9 L530.2,1764.7 L537.4,1764.6 L544.7,1764.4 L551.9,1764.2 L559.1,1764.1 L566.4,1763.9 L573.6,1763.7 L580.8,1763.5 L588.1,1763.4 L595.3,1763.2 L602.5,1763.0 L609.8,1762.8 L617.0,1762.7 L624.2,1762.5 L631.5,1762.3 L638.7,1762.2 L645.9,1762.0 L653.2,1761.8 L660.4,1761.6 L667.6,1761.5 L674.9,1761.3 L682.1,1761.1 L689.3,1761.0 L696.6,1760.8 L703.8,1760.6 L711.0,1760.4 L718.3,1760.3 L725.5,1760.1 L732.7,1759.9 L740.0,1759.8 L747.2,1759.6 L754.4,1759.4 L761.7,1759.3 L768.9,1759.1 L776.1,1758.9 L783.4,1758.7 L790.6,1758.6 L797.8,1758.4 L805.1,1758.2 L812.3,1758.1 L819.5,1757.9 L826.8,1757.7 L834.0,1757.6 L841.2,1757.4 L848.5,1757.2 L855.7,1757.1 L862.9,1756.9 L870.2,1756.7 L877.4,1756.5 L884.6,1756.4 L891.9,1756.2 L899.1,1756.0 L906.3,1755.9 L913.6,1755.7 L920.8,1755.5 L928.0,1755.4 L935.3,1755.2 L942.5,1755.0 L949.7,1754.9 L957.0,1754.7 L964.2,1754.5 L971.4,1754.4 L978.7,1754.2 L985.9,1754.0 L993.1,1753.9"/>
<path d="M132.4,1799.7 L139.6,1799.5 L146.8,1799.4 L154.1,1799.2 L161.3,1799.0 L168.5,1798.8 L175.8,1798.7 L183.0,1798.5 L190.2,1798.3 L197.5,1798.2 L204.7,1798.0 L211.9,1797.8 L219.2,1797.6 L226.4,1797.5 L233.6,1797.3 L240.9,1797.1 L248.1,1797.0 L255.3,1796.8 L262.6,1796.6 L269.8,1796.4 L277.0,1796.3 L284.3,1796.1 L291.5,1795.9 L298.7,1795.8 L306.0,1795.6 L313.2,1795.4 L320.4,1795.3 L327.7,1795.1 L334.9,1794.9 L342.1,1794.7 L349.4,1794.6 L356.6,1794.4 L363.8,1794.2 L371.1,1794.1 L378.3,1793.9 L385.5,1793.7 L392.8,1793.6 L400.0,1793.4 L407.2,1793.2 L414.5,1793.1 L421.7,1792.9 L428.9,1792.7 L436.2,1792.6 L443.4,1792.4 L450.6,1792.2 L457.9,1792.0 L465.1,1791.9 L472.3,1791.7 L479.6,1791.5 L486.8,1791.4 L494.0,1791.2 L501.3,1791.0 L508.5,1790.9 L515.7,1790.7 L523.0,1790.5 L530.2,1790.4 L537.4,1790.2 L544.7,1790.0 L551.9,1789.9 L559.1,1789.7 L566.4,1789.5 L573.6,1789.4 L580.8,1789.2 L588.1,1789.0 L595.3,1788.9 L602.5,1788.7 L609.8,1788.5 L617.0,1788.4 L624.2,1788.2 L631.5,1788.0 L638.7,1787.9 L645.9,1787.7 L653.2,1787.5 L660.4,1787.4 L667.6,1787.2 L674.9,1787.0 L682.1,1786.9 L689.3,1786.7 L696.6,1786.5 L703.8,1786.4 L711.0,1786.2 L718.3,1786.1 L725.5,1785.9 L732.7,1785.7 L740.0,1785.6 L747.2,1785.4 L754.4,1785.2 L761.7,1785.1 L768.9,1784.9 L776.1,1784.7 L783.4,1784.6 L790.6,1784.4 L797.8,1784.2 L805.1,1784.1 L812.3,1783.9 L819.5,1783.7 L826.8,1783.6 L834.0,1783.4 L841.2,1783.3 L848.5,1783.1 L855.7,1782.9 L862.9,1782.8 L870.2,1782.6 L877.4,1782.4 L884.6,1782.3 L891.9,1782.1 L899.1,1781.9 L906.3,1781.8 L913.6,1781.6 L920.8,1781.5 L928.0,1781.3 L935.3,1781.1 L942.5,1781.0 L949.7,1780.8 L957.0,1780.6 L964.2,1780.5 L971.4,1780.3 L978.7,1780.2 L985.9,1780.0 L993.1,1779.8"/>
<path d="M132.4,1821.9 L139.6,1821.8 L146.8,1821.6 L154.1,1821.4 L161.3,1821.3 L168.5,1821.1 L175.8,1820.9 L183.0,1820.8 L190.2,1820.6 L197.5,1820.4 L204.7,1820.3 L211.9,1820.1 L219.2,1819.9 L226.4,1819.8 L233.6,1819.6 L240.9,1819.4 L248.1,1819.3 L255.3,1819.1 L262.6,1818.9 L269.8,1818.8 L277.0,1818.6 L284.3,1818.4 L291.5,1818.3 L298.7,1818.1 L306.0,1817.9 L313.2,1817.8 L320.4,1817.6 L327.7,1817.4 L334.9,1817.3 L342.1,1817.1 L349.4,1816.9 L356.6,1816.8 L363.8,1816.6 L371.1,1816.4 L378.3,1816.3 L385.5,1816.1 L392.8,1816.0 L400.0,1815.8 L407.2,1815.6 L414.5,1815.5 L421.7,1815.3 L428.9,1815.1 L436.2,1815.0 L443.4,1814.8 L450.6,1814.6 L457.9,1814.5 L465.1,1814.3 L472.3,1814.2 L479.6,1814.0 L486.8,1813.8 L494.0,1813.7 L501.3,1813.5 L508.5,1813.3 L515.7,1813.2 L523.0,1813.0 L530.2,1812.9 L537.4,1812.7 L544.7,1812.5 L551.9,1812.4 L559.1,1812.2 L566.4,1812.0 L573.6,1811.9 L580.8,1811.7 L588.1,1811.6 L595.3,1811.4 L602.5,1811.2 L609.8,1811.1 L617.0,1810.9 L624.2,1810.7 L631.5,1810.6 L638.7,1810.4 L645.9,1810.3 L653.2,1810.1 L660.4,1809.9 L667.6,1809.8 L674.9,1809.6 L682.1,1809.5 L689.3,1809.3 L696.6,1809.1 L703.8,1809.0 L711.0,1808.8 L718.3,1808.6 L725.5,1808.5 L732.7,1808.3 L740.0,1808.2 L747.2,1808.0 L754.4,1807.8 L761.7,1807.7 L768.9,1807.5 L776.1,1807.4 L783.4,1807.2 L790.6,1807.0 L797.8,1806.9 L805.1,1806.7 L812.3,1806.6 L819.5,1806.4 L826.8,1806.2 L834.0,1806.1 L841.2,1805.9 L848.5,1805.8 L855.7,1805.6 L862.9,1805.4 L870.2,1805.3 L877.4,1805.1 L884.6,1805.0 L891.9,1804.8 L899.1,1804.7 L906.3,1804.5 L913.6,1804.3 L920.8,1804.2 L928.0,1804.0 L935.3,1803.9 L942.5,1803.7 L949.7,1803.5 L957.0,1803.4 L964.2,1803.2 L971.4,1803.1 L978.7,1802.9 L985.9,1802.8 L993.1,1802.6"/>
<path d="M132.4,1841.7 L139.6,1841.6 L146.8,1841.4 L154.1,1841.3 L161.3,1841.1 L168.5,1840.9 L175.8,1840.8 L183.0,1840.6 L190.2,1840.4 L197.5,1840.3 L204.7,1840.1 L211.9,1840.0 L219.2,1839.8 L226.4,1839.6 L233.6,1839.5 L240.9,1839.3 L248.1,1839.1 L255.3,1839.0 L262.6,1838.8 L269.8,1838.7 L277.0,1838.5 L284.3,1838.3 L291.5,1838.2 L298.7,1838.0 L306.0,1837.8 L313.2,1837.7 L320.4,1837.5 L327.7,1837.4 L334.9,1837.2 L342.1,1837.0 L349.4,1836.9 L356.6,1836.7 L363.8,1836.6 L371.1,1836.4 L378.3,1836.2 L385.5,1836.1 L392.8,1835.9 L400.0,1835.8 L407.2,1835.6 L414.5,1835.4 L421.7,1835.3 L428.9,1835.1 L436.2,1835.0 L443.4,1834.8 L450.6,1834.6 L457.9,1834.5 L465.1,1834.3 L472.3,1834.2 L479.6,1834.0 L486.8,1833.8 L494.0,1833.7 L501.3,1833.5 L508.5,1833.4 L515.7,1833.2 L523.0,1833.0 L530.2,1832.9 L537.4,1832.7 L544.7,1832.6 L551.9,1832.4 L559.1,1832.3 L566.4,1832.1 L573.6,1831.9 L580.8,1831.8 L588.1,1831.6 L595.3,1831.5 L602.5,1831.3 L609.8,1831.1 L617.0,1831.0 L624.2,1830.8 L631.5,1830.7 L638.7,1830.5 L645.9,1830.4 L653.2,1830.2 L660.4,1830.0 L667.6,1829.9 L674.9,1829.7 L682.1,1829.6 L689.3,1829.4 L696.6,1829.3 L703.8,1829.1 L711.0,1828.9 L718.3,1828.8 L725.5,1828.6 L732.7,1828.5 L740.0,1828.3 L747.2,1828.2 L754.4,1828.0 L761.7,1827.8 L768.9,1827.7 L776.1,1827.5 L783.4,1827.4 L790.6,1827.2 L797.8,1827.1 L805.1,1826.9 L812.3,1826.7 L819.5,1826.6 L826.8,1826.4 L834.0,1826.3 L841.2,1826.1 L848.5,1826.0 L855.7,1825.8 L862.9,1825.7 L870.2,1825.5 L877.4,1825.3 L884.6,1825.2 L891.9,1825.0 L899.1,1824.9 L906.3,1824.7 L913.6,1824.6 L920.8,1824.4 L928.0,1824.3 L935.3,1824.1 L942.5,1824.0 L949.7,1823.8 L957.0,1823.6 L964.2,1823.5 L971.4,1823.3 L978.7,1823.2 L985.9,1823.0 L993.1,1822.9"/>
<path d="M132.4,1859.6 L139.6,1859.5 L146.8,1859.3 L154.1,1859.2 L161.3,1859.0 L168.5,1858.8 L175.8,1858.7 L183.0,1858.5 L190.2,1858.4 L197.5,1858.2 L204.7,1858.0 L211.9,1857.9 L219.2,1857.7 L226.4,1857.6 L233.6,1857.4 L240.9,1857.2 L248.1,1857.1 L255.3,1856.9 L262.6,1856.8 L269.8,1856.6 L277.0,1856.5 L284.3,1856.3 L291.5,1856.1 L298.7,1856.0 L306.0,1855.8 L313.2,1855.7 L320.4,1855.5 L327.7,1855.3 L334.9,1855.2 L342.1,1855.0 L349.4,1854.9 L356.6,1854.7 L363.8,1854.6 L371.1,1854.4 L378.3,1854.2 L385.5,1854.1 L392.8,1853.9 L400.0,1853.8 L407.2,1853.6 L414.5,1853.5 L421.7,1853.3 L428.9,1853.1 L436.2,1853.0 L443.4,1852.8 L450.6,1852.7 L457.9,1852.5 L465.1,1852.4 L472.3,1852.2 L479.6,1852.1 L486.8,1851.9 L494.0,1851.7 L501.3,1851.6 L508.5,1851.4 L515.7,1851.3 L523.0,1851.1 L530.2,1851.0 L537.4,1850.8 L544.7,1850.7 L551.9,1850.5 L559.1,1850.3 L566.4,1850.2 L573.6,1850.0 L580.8,1849.9 L588.1,1849.7 L595.3,1849.6 L602.5,1849.4 L609.8,1849.3 L617.0,1849.1 L624.2,1848.9 L631.5,1848.8 L638.7,1848.6 L645.9,1848.5 L653.2,1848.3 L660.4,1848.2 L667.6,1848.0 L674.9,1847.9 L682.1,1847.7 L689.3,1847.6 L696.6,1847.4 L703.8,1847.3 L711.0,1847.1 L718.3,1846.9 L725.5,1846.8 L732.7,1846.6 L740.0,1846.5 L747.2,1846.3 L754.4,1846.2 L761.7,1846.0 L768.9,1845.9 L776.1,1845.7 L783.4,1845.6 L790.6,1845.4 L797.8,1845.3 L805.1,1845.1 L812.3,1845.0 L819.5,1844.8 L826.8,1844.6 L834.0,1844.5 L841.2,1844.3 L848.5,1844.2 L855.7,1844.0 L862.9,1843.9 L870.2,1843.7 L877.4,1843.6 L884.6,1843.4 L891.9,1843.3 L899.1,1843.1 L906.3,1843.0 L913.6,1842.8 L920.8,1842.7 L928.0,1842.5 L935.3,1842.4 L942.5,1842.2 L949.7,1842.1 L957.0,1841.9 L964.2,1841.8 L971.4,1841.6 L978.7,1841.5 L985.9,1841.3 L993.1,1841.2"/>
<path d="M132.4,1875.9 L139.6,1875.8 L146.8,1875.6 L154.1,1875.5 L161.3,1875.3 L168.5,1875.2 L175.8,1875.0 L183.0,1874.9 L190.2,1874.7 L197.5,1874.5 L204.7,1874.4 L211.9,1874.2 L219.2,1874.1 L226.4,1873.9 L233.6,1873.8 L240.9,1873.6 L248.1,1873.4 L255.3,1873.3 L262.6,1873.1 L269.8,1873.0 L277.0,1872.8 L284.3,1872.7 L291.5,1872.5 L298.7,1872.4 L306.0,1872.2 L313.2,1872.1 L320.4,1871.9 L327.7,1871.7 L334.9,1871.6 L342.1,1871.4 L349.4,1871.3 L356.6,1871.1 L363.8,1871.0 L371.1,1870.8 L378.3,1870.7 L385.5,1870.5 L392.8,1870.4 L400.0,1870.2 L407.2,1870.0 L414.5,1869.9 L421.7,1869.7 L428.9,1869.6 L436.2,1869.4 L443.4,1869.3 L450.6,1869.1 L457.9,1869.0 L465.1,1868.8 L472.3,1868.7 L479.6,1868.5 L486.8,1868.4 L494.0,1868.2 L501.3,1868.1 L508.5,1867.9 L515.7,1867.7 L523.0,1867.6 L530.2,1867.4 L537.4,1867.3 L544.7,1867.1 L551.9,1867.0 L559.1,1866.8 L566.4,1866.7 L573.6,1866.5 L580.8,1866.4 L588.1,1866.2 L595.3,1866.1 L602.5,1865.9 L609.8,1865.8 L617.0,1865.6 L624.2,1865.5 L631.5,1865.3 L638.7,1865.2 L645.9,1865.0 L653.2,1864.9 L660.4,1864.7 L667.6,1864.6 L674.9,1864.4 L682.1,1864.3 L689.3,1864.1 L696.6,1863.9 L703.8,1863.8 L711.0,1863.6 L718.3,1863.5 L725.5,1863.3 L732.7,1863.2 L740.0,1863.0 L747.2,1862.9 L754.4,1862.7 L761.7,1862.6 L768.9,1862.4 L776.1,1862.3 L783.4,1862.1 L790.6,1862.0 L797.8,1861.8 L805.1,1861.7 L812.3,1861.5 L819.5,1861.4 L826.8,1861.2 L834.0,1861.1 L841.2,1860.9 L848.5,1860.8 L855.7,1860.6 L862.9,1860.5 L870.2,1860.3 L877.4,1860.2 L884.6,1860.0 L891.9,1859.9 L899.1,1859.7 L906.3,1859.6 L913.6,1859.4 L920.8,1859.3 L928.0,1859.2 L935.3,1859.0 L942.5,1858.9 L949.7,1858.7 L957.0,1858.6 L964.2,1858.4 L971.4,1858.3 L978.7,1858.1 L985.9,1858.0 L993.1,1857.8"/>
<path d="M429.0,1884.7 L436.2,1884.5 L443.4,1884.4 L450.6,1884.2 L457.9,1884.1 L465.1,1883.9 L472.3,1883.8 L479.6,1883.6 L486.8,1883.5 L494.0,1883.3 L501.3,1883.2 L508.5,1883.0 L515.7,1882.9 L523.0,1882.7 L530.2,1882.6 L537.4,1882.4 L544.7,1882.3 L551.9,1882.1 L559.1,1882.0 L566.4,1881.8 L573.6,1881.7 L580.8,1881.5 L588.1,1881.4 L595.3,1881.2 L602.5,1881.1 L609.8,1880.9 L617.0,1880.8 L624.2,1880.6 L631.5,1880.5 L638.7,1880.3 L645.9,1880.2 L653.2,1880.0 L660.4,1879.9 L667.6,1879.7 L674.9,1879.6 L682.1,1879.4 L689.3,1879.3 L696.6,1879.1 L703.8,1879.0 L711.0,1878.9 L718.3,1878.7 L725.5,1878.6 L732.7,1878.4 L740.0,1878.3 L747.2,1878.1 L754.4,1878.0 L761.7,1877.8 L768.9,1877.7 L776.1,1877.5 L783.4,1877.4 L790.6,1877.2 L797.8,1877.1 L805.1,1876.9 L812.3,1876.8 L819.5,1876.6 L826.8,1876.5 L834.0,1876.3 L841.2,1876.2 L848.5,1876.0 L855.7,1875.9 L862.9,1875.8 L870.2,1875.6 L877.4,1875.5 L884.6,1875.3 L891.9,1875.2 L899.1,1875.0 L906.3,1874.9 L913.6,1874.7 L920.8,1874.6 L928.0,1874.4 L935.3,1874.3 L942.5,1874.1 L949.7,1874.0 L957.0,1873.8 L964.2,1873.7 L971.4,1873.6 L978.7,1873.4 L985.9,1873.3 L993.1,1873.1"/>
</g>
<g fill="none" stroke="#E7298A" stroke-width="3.7" stroke-linecap="round" stroke-linejoin="round">
<path d="M59.3,1303.7 L60.0,1305.7 L60.7,1307.6 L61.4,1309.5 L62.1,1311.5 L62.8,1313.4 L63.5,1315.4 L64.2,1317.3 L64.9,1319.3 L65.6,1321.2 L66.4,1323.1 L67.1,1325.1 L67.8,1327.0 L68.5,1329.0 L69.3,1330.9 L70.0,1332.9 L70.7,1334.8 L71.5,1336.7 L72.2,1338.7 L72.9,1340.6 L73.7,1342.6 L74.4,1344.5 L75.2,1346.5 L75.9,1348.4 L76.7,1350.3 L77.4,1352.3 L78.2,1354.2 L78.9,1356.2 L79.7,1358.1 L80.4,1360.1 L81.2,1362.0 L82.0,1364.0 L82.7,1365.9 L83.5,1367.8 L84.3,1369.8 L85.0,1371.7 L85.8,1373.7 L86.6,1375.6 L87.4,1377.6 L88.1,1379.5 L88.9,1381.4 L89.7,1383.4 L90.5,1385.3 L91.3,1387.3 L92.1,1389.2 L92.9,1391.2 L93.6,1393.1 L94.4,1395.0 L95.2,1397.0 L96.0,1398.9 L96.8,1400.9 L97.6,1402.8 L98.5,1404.8 L99.3,1406.7 L100.1,1408.6 L100.9,1410.6 L101.7,1412.5 L102.5,1414.5 L103.3,1416.4 L104.2,1418.4 L105.0,1420.3 L105.8,1422.2 L106.6,1424.2 L107.4,1426.1 L108.3,1428.1 L109.1,1430.0 L109.9,1432.0 L110.8,1433.9 L111.6,1435.8 L112.5,1437.8 L113.3,1439.7 L114.1,1441.7 L115.0,1443.6 L115.8,1445.6 L116.7,1447.5 L117.5,1449.4 L118.4,1451.4 L119.3,1453.3 L120.1,1455.3 L121.0,1457.2 L121.8,1459.2 L122.7,1461.1 L123.6,1463.0 L124.4,1465.0 L125.3,1466.9 L126.2,1468.9 L127.1,1470.8 L127.9,1472.8 L128.8,1474.7 L129.7,1476.6 L130.6,1478.6 L131.5,1480.5 L132.4,1482.5 L133.2,1484.4 L134.1,1486.4 L135.0,1488.3 L135.9,1490.2 L136.8,1492.2 L137.7,1494.1 L138.6,1496.1 L139.5,1498.0 L140.4,1500.0 L141.4,1501.9 L142.3,1503.9 L143.2,1505.8 L144.1,1507.7 L145.0,1509.7 L145.9,1511.6 L146.9,1513.6 L147.8,1515.5 L148.7,1517.5 L149.7,1519.4 L150.6,1521.3 L151.5,1523.3 L152.5,1525.2 L153.4,1527.2 L154.4,1529.1 L155.3,1531.1 L156.3,1533.0 L157.2,1534.9 L158.2,1536.9 L159.1,1538.8 L160.1,1540.8 L161.1,1542.7 L162.0,1544.7 L163.0,1546.6 L164.0,1548.5 L164.9,1550.5 L165.9,1552.4 L166.9,1554.4 L167.9,1556.3 L168.9,1558.3 L169.8,1560.2 L170.8,1562.1 L171.8,1564.1 L172.8,1566.0 L173.8,1568.0 L174.8,1569.9 L175.8,1571.9 L176.9,1573.8 L177.9,1575.7 L178.9,1577.7 L179.9,1579.6 L180.9,1581.6 L182.0,1583.5 L183.0,1585.5 L184.0,1587.4 L185.0,1589.3 L186.1,1591.3 L187.1,1593.2 L188.2,1595.2 L189.2,1597.1 L190.3,1599.1 L191.3,1601.0 L192.4,1602.9 L193.5,1604.9 L194.5,1606.8 L195.6,1608.8 L196.7,1610.7 L197.8,1612.7 L198.8,1614.6 L199.9,1616.5 L201.0,1618.5 L202.1,1620.4 L203.2,1622.4 L204.3,1624.3 L205.4,1626.3 L206.5,1628.2 L207.6,1630.1 L208.8,1632.1 L209.9,1634.0 L211.0,1636.0 L212.2,1637.9 L213.3,1639.9 L214.4,1641.8 L215.6,1643.8 L216.7,1645.7 L217.9,1647.6 L219.0,1649.6 L220.2,1651.5 L221.4,1653.5 L222.6,1655.4 L223.7,1657.4 L224.9,1659.3 L226.1,1661.2 L227.3,1663.2 L228.5,1665.1 L229.7,1667.1 L230.9,1669.0 L232.1,1671.0 L233.4,1672.9 L234.6,1674.8 L235.8,1676.8 L237.1,1678.7 L238.3,1680.7 L239.6,1682.6 L240.8,1684.6 L242.1,1686.5 L243.3,1688.4 L244.6,1690.4 L245.9,1692.3 L247.2,1694.3 L248.5,1696.2 L249.8,1698.2 L251.1,1700.1 L252.4,1702.0 L253.7,1704.0 L255.0,1705.9 L256.4,1707.9 L257.7,1709.8 L259.1,1711.8 L260.4,1713.7 L261.8,1715.6 L263.1,1717.6 L264.5,1719.5 L265.9,1721.5 L267.3,1723.4 L268.7,1725.4 L270.1,1727.3 L271.5,1729.2 L272.9,1731.2 L274.4,1733.1 L275.8,1735.1 L277.3,1737.0 L278.7,1739.0 L280.2,1740.9 L281.6,1742.8 L283.1,1744.8 L284.6,1746.7 L286.1,1748.7 L287.6,1750.6 L289.1,1752.6 L290.7,1754.5 L292.2,1756.4 L293.7,1758.4 L295.3,1760.3 L296.9,1762.3 L298.4,1764.2 L300.0,1766.2 L301.6,1768.1 L303.2,1770.0 L304.9,1772.0 L306.5,1773.9 L308.1,1775.9 L309.8,1777.8 L311.4,1779.8 L313.1,1781.7 L314.8,1783.7 L316.5,1785.6 L318.2,1787.5 L319.9,1789.5 L321.6,1791.4 L323.4,1793.4 L325.2,1795.3 L326.9,1797.3 L328.7,1799.2 L330.5,1801.1 L332.3,1803.1 L334.1,1805.0 L336.0,1807.0 L337.8,1808.9 L339.7,1810.9 L341.6,1812.8 L343.5,1814.7 L345.4,1816.7 L347.3,1818.6 L349.3,1820.6 L351.2,1822.5 L353.2,1824.5 L355.2,1826.4 L357.2,1828.3 L359.2,1830.3 L361.3,1832.2 L363.3,1834.2 L365.4,1836.1 L367.5,1838.1 L369.6,1840.0 L371.7,1841.9 L373.9,1843.9 L376.0,1845.8 L378.2,1847.8 L380.4,1849.7 L382.7,1851.7 L384.9,1853.6"/>
<path d="M423.2,1883.5 L424.0,1884.7"/>
<path d="M189.3,1109.4 L189.9,1111.4 L190.5,1113.3 L191.0,1115.2 L191.6,1117.2 L192.2,1119.1 L192.8,1121.1 L193.4,1123.0 L194.0,1125.0 L194.5,1126.9 L195.1,1128.8 L195.7,1130.8 L196.3,1132.7 L196.9,1134.7 L197.5,1136.6 L198.2,1138.6 L198.8,1140.5 L199.4,1142.4 L200.0,1144.4 L200.6,1146.3 L201.3,1148.3 L201.9,1150.2 L202.5,1152.2 L203.2,1154.1 L203.8,1156.0 L204.4,1158.0 L205.1,1159.9 L205.7,1161.9 L206.4,1163.8 L207.1,1165.8 L207.7,1167.7 L208.4,1169.6 L209.0,1171.6 L209.7,1173.5 L210.4,1175.5 L211.0,1177.4 L211.7,1179.4 L212.4,1181.3 L213.1,1183.2 L213.8,1185.2 L214.5,1187.1 L215.1,1189.1 L215.8,1191.0 L216.5,1193.0 L217.2,1194.9 L217.9,1196.8 L218.6,1198.8 L219.3,1200.7 L220.1,1202.7 L220.8,1204.6 L221.5,1206.6 L222.2,1208.5 L222.9,1210.4 L223.7,1212.4 L224.4,1214.3 L225.1,1216.3 L225.8,1218.2 L226.6,1220.2 L227.3,1222.1 L228.1,1224.1 L228.8,1226.0 L229.5,1227.9 L230.3,1229.9 L231.0,1231.8 L231.8,1233.8 L232.5,1235.7 L233.3,1237.7 L234.1,1239.6 L234.8,1241.5 L235.6,1243.5 L236.4,1245.4 L237.1,1247.4 L237.9,1249.3 L238.7,1251.3 L239.5,1253.2 L240.2,1255.1 L241.0,1257.1 L241.8,1259.0 L242.6,1261.0 L243.4,1262.9 L244.2,1264.9 L245.0,1266.8 L245.8,1268.7 L246.6,1270.7 L247.4,1272.6 L248.2,1274.6 L249.0,1276.5 L249.8,1278.5 L250.6,1280.4 L251.4,1282.3 L252.2,1284.3 L253.0,1286.2 L253.9,1288.2 L254.7,1290.1 L255.5,1292.1 L256.3,1294.0 L257.2,1295.9 L258.0,1297.9 L258.8,1299.8 L259.7,1301.8 L260.5,1303.7 L261.4,1305.7 L262.2,1307.6 L263.0,1309.5 L263.9,1311.5 L264.7,1313.4 L265.6,1315.4 L266.5,1317.3 L267.3,1319.3 L268.2,1321.2 L269.0,1323.1 L269.9,1325.1 L270.8,1327.0 L271.6,1329.0 L272.5,1330.9 L273.4,1332.9 L274.3,1334.8 L275.1,1336.7 L276.0,1338.7 L276.9,1340.6 L277.8,1342.6 L278.7,1344.5 L279.6,1346.5 L280.4,1348.4 L281.3,1350.3 L282.2,1352.3 L283.1,1354.2 L284.0,1356.2 L284.9,1358.1 L285.8,1360.1 L286.7,1362.0 L287.6,1364.0 L288.6,1365.9 L289.5,1367.8 L290.4,1369.8 L291.3,1371.7 L292.2,1373.7 L293.2,1375.6 L294.1,1377.6 L295.0,1379.5 L295.9,1381.4 L296.9,1383.4 L297.8,1385.3 L298.7,1387.3 L299.7,1389.2 L300.6,1391.2 L301.6,1393.1 L302.5,1395.0 L303.5,1397.0 L304.4,1398.9 L305.4,1400.9 L306.3,1402.8 L307.3,1404.8 L308.2,1406.7 L309.2,1408.6 L310.2,1410.6 L311.1,1412.5 L312.1,1414.5 L313.1,1416.4 L314.0,1418.4 L315.0,1420.3 L316.0,1422.2 L317.0,1424.2 L318.0,1426.1 L319.0,1428.1 L319.9,1430.0 L320.9,1432.0 L321.9,1433.9 L322.9,1435.8 L323.9,1437.8 L324.9,1439.7 L325.9,1441.7 L326.9,1443.6 L328.0,1445.6 L329.0,1447.5 L330.0,1449.4 L331.0,1451.4 L332.0,1453.3 L333.0,1455.3 L334.1,1457.2 L335.1,1459.2 L336.1,1461.1 L337.2,1463.0 L338.2,1465.0 L339.3,1466.9 L340.3,1468.9 L341.3,1470.8 L342.4,1472.8 L343.5,1474.7 L344.5,1476.6 L345.6,1478.6 L346.6,1480.5 L347.7,1482.5 L348.8,1484.4 L349.8,1486.4 L350.9,1488.3 L352.0,1490.2 L353.1,1492.2 L354.2,1494.1 L355.2,1496.1 L356.3,1498.0 L357.4,1500.0 L358.5,1501.9 L359.6,1503.9 L360.7,1505.8 L361.8,1507.7 L362.9,1509.7 L364.1,1511.6 L365.2,1513.6 L366.3,1515.5 L367.4,1517.5 L368.6,1519.4 L369.7,1521.3 L370.8,1523.3 L372.0,1525.2 L373.1,1527.2 L374.3,1529.1 L375.4,1531.1 L376.6,1533.0 L377.7,1534.9 L378.9,1536.9 L380.1,1538.8 L381.2,1540.8 L382.4,1542.7 L383.6,1544.7 L384.8,1546.6 L386.0,1548.5 L387.2,1550.5 L388.4,1552.4 L389.6,1554.4 L390.8,1556.3 L392.0,1558.3 L393.2,1560.2 L394.4,1562.1 L395.6,1564.1 L396.9,1566.0 L398.1,1568.0 L399.3,1569.9 L400.6,1571.9 L401.8,1573.8 L403.1,1575.7 L404.3,1577.7 L405.6,1579.6 L406.9,1581.6 L408.1,1583.5 L409.4,1585.5 L410.7,1587.4 L412.0,1589.3 L413.3,1591.3 L414.6,1593.2 L415.9,1595.2 L417.2,1597.1 L418.5,1599.1 L419.8,1601.0 L421.1,1602.9 L422.5,1604.9 L423.8,1606.8 L425.2,1608.8 L426.5,1610.7 L427.9,1612.7 L429.2,1614.6 L430.6,1616.5 L432.0,1618.5 L433.4,1620.4 L434.7,1622.4 L436.1,1624.3 L437.5,1626.3 L438.9,1628.2 L440.4,1630.1 L441.8,1632.1 L443.2,1634.0 L444.6,1636.0 L446.1,1637.9 L447.5,1639.9 L449.0,1641.8 L450.5,1643.8 L451.9,1645.7 L453.4,1647.6 L454.9,1649.6 L456.4,1651.5 L457.9,1653.5 L459.4,1655.4 L460.9,1657.4 L462.4,1659.3 L464.0,1661.2 L465.5,1663.2 L467.1,1665.1 L468.6,1667.1 L470.2,1669.0 L471.8,1671.0 L473.3,1672.9 L474.9,1674.8 L476.5,1676.8 L478.1,1678.7 L479.8,1680.7 L481.4,1682.6 L483.0,1684.6 L484.7,1686.5 L486.3,1688.4 L488.0,1690.4 L489.7,1692.3 L491.4,1694.3 L493.1,1696.2 L494.8,1698.2 L496.5,1700.1 L498.2,1702.0 L500.0,1704.0 L501.7,1705.9 L503.5,1707.9 L505.2,1709.8 L507.0,1711.8 L508.8,1713.7 L510.6,1715.6 L512.5,1717.6 L514.3,1719.5 L516.1,1721.5 L518.0,1723.4 L519.8,1725.4 L521.7,1727.3 L523.6,1729.2 L525.5,1731.2 L527.4,1733.1 L529.4,1735.1 L531.3,1737.0 L533.3,1739.0 L535.2,1740.9 L537.2,1742.8 L539.2,1744.8 L541.2,1746.7 L543.3,1748.7 L545.3,1750.6 L547.4,1752.6 L549.5,1754.5 L551.5,1756.4 L553.6,1758.4 L555.8,1760.3 L557.9,1762.3 L560.1,1764.2 L562.2,1766.2 L564.4,1768.1 L566.6,1770.0 L568.8,1772.0 L571.1,1773.9 L573.3,1775.9 L575.6,1777.8 L577.9,1779.8 L580.2,1781.7 L582.5,1783.7 L584.9,1785.6 L587.2,1787.5 L589.6,1789.5 L592.0,1791.4 L594.5,1793.4 L596.9,1795.3 L599.4,1797.3 L601.9,1799.2 L604.4,1801.1 L606.9,1803.1 L609.5,1805.0 L612.0,1807.0 L614.6,1808.9 L617.3,1810.9 L619.9,1812.8 L622.6,1814.7 L625.3,1816.7 L628.0,1818.6 L630.7,1820.6 L633.5,1822.5 L636.3,1824.5 L639.1,1826.4 L642.0,1828.3 L644.8,1830.3 L647.7,1832.2 L650.7,1834.2 L653.6,1836.1 L656.6,1838.1 L659.6,1840.0 L662.7,1841.9 L665.8,1843.9 L668.9,1845.8 L672.0,1847.8 L675.2,1849.7 L678.4,1851.7 L681.6,1853.6 L684.9,1855.5 L688.2,1857.5 L691.5,1859.4 L694.9,1861.4"/>
<path d="M739.2,1883.5 L738.4,1884.7"/>
<path d="M379.6,1109.4 L380.3,1111.4 L381.0,1113.3 L381.8,1115.2 L382.5,1117.2 L383.2,1119.1 L384.0,1121.1 L384.7,1123.0 L385.4,1125.0 L386.2,1126.9 L386.9,1128.8 L387.7,1130.8 L388.4,1132.7 L389.2,1134.7 L389.9,1136.6 L390.7,1138.6 L391.5,1140.5 L392.2,1142.4 L393.0,1144.4 L393.8,1146.3 L394.5,1148.3 L395.3,1150.2 L396.1,1152.2 L396.9,1154.1 L397.7,1156.0 L398.4,1158.0 L399.2,1159.9 L400.0,1161.9 L400.8,1163.8 L401.6,1165.8 L402.4,1167.7 L403.2,1169.6 L404.0,1171.6 L404.8,1173.5 L405.7,1175.5 L406.5,1177.4 L407.3,1179.4 L408.1,1181.3 L408.9,1183.2 L409.8,1185.2 L410.6,1187.1 L411.4,1189.1 L412.2,1191.0 L413.1,1193.0 L413.9,1194.9 L414.8,1196.8 L415.6,1198.8 L416.4,1200.7 L417.3,1202.7 L418.1,1204.6 L419.0,1206.6 L419.8,1208.5 L420.7,1210.4 L421.6,1212.4 L422.4,1214.3 L423.3,1216.3 L424.1,1218.2 L425.0,1220.2 L425.9,1222.1 L426.8,1224.1 L427.6,1226.0 L428.5,1227.9 L429.4,1229.9 L430.3,1231.8 L431.2,1233.8 L432.0,1235.7 L432.9,1237.7 L433.8,1239.6 L434.7,1241.5 L435.6,1243.5 L436.5,1245.4 L437.4,1247.4 L438.3,1249.3 L439.2,1251.3 L440.1,1253.2 L441.0,1255.1 L442.0,1257.1 L442.9,1259.0 L443.8,1261.0 L444.7,1262.9 L445.6,1264.9 L446.6,1266.8 L447.5,1268.7 L448.4,1270.7 L449.3,1272.6 L450.3,1274.6 L451.2,1276.5 L452.1,1278.5 L453.1,1280.4 L454.0,1282.3 L455.0,1284.3 L455.9,1286.2 L456.9,1288.2 L457.8,1290.1 L458.8,1292.1 L459.7,1294.0 L460.7,1295.9 L461.6,1297.9 L462.6,1299.8 L463.6,1301.8 L464.5,1303.7 L465.5,1305.7 L466.5,1307.6 L467.5,1309.5 L468.4,1311.5 L469.4,1313.4 L470.4,1315.4 L471.4,1317.3 L472.4,1319.3 L473.4,1321.2 L474.3,1323.1 L475.3,1325.1 L476.3,1327.0 L477.3,1329.0 L478.3,1330.9 L479.3,1332.9 L480.3,1334.8 L481.3,1336.7 L482.4,1338.7 L483.4,1340.6 L484.4,1342.6 L485.4,1344.5 L486.4,1346.5 L487.4,1348.4 L488.5,1350.3 L489.5,1352.3 L490.5,1354.2 L491.5,1356.2 L492.6,1358.1 L493.6,1360.1 L494.7,1362.0 L495.7,1364.0 L496.7,1365.9 L497.8,1367.8 L498.8,1369.8 L499.9,1371.7 L500.9,1373.7 L502.0,1375.6 L503.1,1377.6 L504.1,1379.5 L505.2,1381.4 L506.3,1383.4 L507.3,1385.3 L508.4,1387.3 L509.5,1389.2 L510.6,1391.2 L511.6,1393.1 L512.7,1395.0 L513.8,1397.0 L514.9,1398.9 L516.0,1400.9 L517.1,1402.8 L518.2,1404.8 L519.3,1406.7 L520.4,1408.6 L521.5,1410.6 L522.6,1412.5 L523.7,1414.5 L524.8,1416.4 L526.0,1418.4 L527.1,1420.3 L528.2,1422.2 L529.3,1424.2 L530.5,1426.1 L531.6,1428.1 L532.7,1430.0 L533.9,1432.0 L535.0,1433.9 L536.2,1435.8 L537.3,1437.8 L538.5,1439.7 L539.6,1441.7 L540.8,1443.6 L542.0,1445.6 L543.1,1447.5 L544.3,1449.4 L545.5,1451.4 L546.7,1453.3 L547.9,1455.3 L549.0,1457.2 L550.2,1459.2 L551.4,1461.1 L552.6,1463.0 L553.8,1465.0 L555.0,1466.9 L556.2,1468.9 L557.4,1470.8 L558.7,1472.8 L559.9,1474.7 L561.1,1476.6 L562.3,1478.6 L563.6,1480.5 L564.8,1482.5 L566.0,1484.4 L567.3,1486.4 L568.5,1488.3 L569.8,1490.2 L571.0,1492.2 L572.3,1494.1 L573.6,1496.1 L574.8,1498.0 L576.1,1500.0 L577.4,1501.9 L578.7,1503.9 L580.0,1505.8 L581.3,1507.7 L582.6,1509.7 L583.9,1511.6 L585.2,1513.6 L586.5,1515.5 L587.8,1517.5 L589.1,1519.4 L590.4,1521.3 L591.8,1523.3 L593.1,1525.2 L594.5,1527.2 L595.8,1529.1 L597.2,1531.1 L598.5,1533.0 L599.9,1534.9 L601.2,1536.9 L602.6,1538.8 L604.0,1540.8 L605.4,1542.7 L606.8,1544.7 L608.2,1546.6 L609.6,1548.5 L611.0,1550.5 L612.4,1552.4 L613.8,1554.4 L615.2,1556.3 L616.7,1558.3 L618.1,1560.2 L619.5,1562.1 L621.0,1564.1 L622.5,1566.0 L623.9,1568.0 L625.4,1569.9 L626.9,1571.9 L628.3,1573.8 L629.8,1575.7 L631.3,1577.7 L632.8,1579.6 L634.3,1581.6 L635.9,1583.5 L637.4,1585.5 L638.9,1587.4 L640.5,1589.3 L642.0,1591.3 L643.6,1593.2 L645.1,1595.2 L646.7,1597.1 L648.3,1599.1 L649.9,1601.0 L651.4,1602.9 L653.0,1604.9 L654.7,1606.8 L656.3,1608.8 L657.9,1610.7 L659.5,1612.7 L661.2,1614.6 L662.8,1616.5 L664.5,1618.5 L666.1,1620.4 L667.8,1622.4 L669.5,1624.3 L671.2,1626.3 L672.9,1628.2 L674.6,1630.1 L676.3,1632.1 L678.1,1634.0 L679.8,1636.0 L681.6,1637.9 L683.3,1639.9 L685.1,1641.8 L686.9,1643.8 L688.7,1645.7 L690.5,1647.6 L692.3,1649.6 L694.1,1651.5 L695.9,1653.5 L697.8,1655.4 L699.6,1657.4 L701.5,1659.3 L703.4,1661.2 L705.2,1663.2 L707.1,1665.1 L709.1,1667.1 L711.0,1669.0 L712.9,1671.0 L714.9,1672.9 L716.8,1674.8 L718.8,1676.8 L720.8,1678.7 L722.8,1680.7 L724.8,1682.6 L726.8,1684.6 L728.8,1686.5 L730.9,1688.4 L732.9,1690.4 L735.0,1692.3 L737.1,1694.3 L739.2,1696.2 L741.3,1698.2 L743.5,1700.1 L745.6,1702.0 L747.8,1704.0 L750.0,1705.9 L752.1,1707.9 L754.4,1709.8 L756.6,1711.8 L758.8,1713.7 L761.1,1715.6 L763.3,1717.6 L765.6,1719.5 L767.9,1721.5 L770.3,1723.4 L772.6,1725.4 L775.0,1727.3 L777.3,1729.2 L779.7,1731.2 L782.1,1733.1 L784.6,1735.1 L787.0,1737.0 L789.5,1739.0 L792.0,1740.9 L794.5,1742.8 L797.0,1744.8 L799.5,1746.7 L802.1,1748.7 L804.7,1750.6 L807.3,1752.6 L809.9,1754.5 L812.6,1756.4 L815.2,1758.4 L817.9,1760.3 L820.6,1762.3 L823.4,1764.2 L826.1,1766.2 L828.9,1768.1 L831.7,1770.0 L834.5,1772.0 L837.4,1773.9 L840.3,1775.9 L843.2,1777.8 L846.1,1779.8 L849.1,1781.7 L852.1,1783.7 L855.1,1785.6 L858.1,1787.5 L861.2,1789.5 L864.3,1791.4 L867.4,1793.4 L870.5,1795.3 L873.7,1797.3 L876.9,1799.2 L880.2,1801.1 L883.5,1803.1 L886.8,1805.0 L890.1,1807.0 L893.5,1808.9 L896.9,1810.9 L900.3,1812.8 L903.8,1814.7 L907.3,1816.7 L910.8,1818.6 L914.4,1820.6 L918.0,1822.5 L921.7,1824.5 L925.4,1826.4 L929.1,1828.3 L932.9,1830.3 L936.7,1832.2 L940.5,1834.2 L944.4,1836.1 L948.4,1838.1 L952.4,1840.0 L956.4,1841.9 L960.5,1843.9 L964.6,1845.8 L968.8,1847.8 L973.0,1849.7 L977.2,1851.7 L981.6,1853.6 L985.9,1855.5 L990.4,1857.5 L994.8,1859.4 L999.4,1861.4 L1004.0,1863.3 L1008.6,1865.3 L1013.3,1867.2 L1018.1,1869.1 L1022.9,1871.1 L1027.8,1873.0 L1032.8,1875.0 L1037.8,1876.9 L1042.9,1878.9 L1048.1,1880.8 L1053.3,1882.7 L1058.7,1884.7"/>
<path d="M572.2,1109.4 L573.0,1111.4 L573.8,1113.3 L574.7,1115.2 L575.5,1117.2 L576.4,1119.1 L577.2,1121.1 L578.1,1123.0 L578.9,1125.0 L579.8,1126.9 L580.6,1128.8 L581.5,1130.8 L582.4,1132.7 L583.2,1134.7 L584.1,1136.6 L585.0,1138.6 L585.8,1140.5 L586.7,1142.4 L587.6,1144.4 L588.5,1146.3 L589.3,1148.3 L590.2,1150.2 L591.1,1152.2 L592.0,1154.1 L592.9,1156.0 L593.8,1158.0 L594.7,1159.9 L595.6,1161.9 L596.5,1163.8 L597.4,1165.8 L598.3,1167.7 L599.2,1169.6 L600.1,1171.6 L601.0,1173.5 L602.0,1175.5 L602.9,1177.4 L603.8,1179.4 L604.7,1181.3 L605.6,1183.2 L606.6,1185.2 L607.5,1187.1 L608.4,1189.1 L609.4,1191.0 L610.3,1193.0 L611.2,1194.9 L612.2,1196.8 L613.1,1198.8 L614.1,1200.7 L615.0,1202.7 L616.0,1204.6 L616.9,1206.6 L617.9,1208.5 L618.8,1210.4 L619.8,1212.4 L620.7,1214.3 L621.7,1216.3 L622.7,1218.2 L623.6,1220.2 L624.6,1222.1 L625.6,1224.1 L626.5,1226.0 L627.5,1227.9 L628.5,1229.9 L629.5,1231.8 L630.5,1233.8 L631.4,1235.7 L632.4,1237.7 L633.4,1239.6 L634.4,1241.5 L635.4,1243.5 L636.4,1245.4 L637.4,1247.4 L638.4,1249.3 L639.4,1251.3 L640.4,1253.2 L641.4,1255.1 L642.4,1257.1 L643.4,1259.0 L644.4,1261.0 L645.5,1262.9 L646.5,1264.9 L647.5,1266.8 L648.5,1268.7 L649.5,1270.7 L650.6,1272.6 L651.6,1274.6 L652.6,1276.5 L653.7,1278.5 L654.7,1280.4 L655.7,1282.3 L656.8,1284.3 L657.8,1286.2 L658.9,1288.2 L659.9,1290.1 L661.0,1292.1 L662.0,1294.0 L663.1,1295.9 L664.1,1297.9 L665.2,1299.8 L666.3,1301.8 L667.3,1303.7 L668.4,1305.7 L669.5,1307.6 L670.5,1309.5 L671.6,1311.5 L672.7,1313.4 L673.8,1315.4 L674.8,1317.3 L675.9,1319.3 L677.0,1321.2 L678.1,1323.1 L679.2,1325.1 L680.3,1327.0 L681.4,1329.0 L682.5,1330.9 L683.6,1332.9 L684.7,1334.8 L685.8,1336.7 L686.9,1338.7 L688.0,1340.6 L689.2,1342.6 L690.3,1344.5 L691.4,1346.5 L692.5,1348.4 L693.7,1350.3 L694.8,1352.3 L695.9,1354.2 L697.1,1356.2 L698.2,1358.1 L699.3,1360.1 L700.5,1362.0 L701.6,1364.0 L702.8,1365.9 L703.9,1367.8 L705.1,1369.8 L706.3,1371.7 L707.4,1373.7 L708.6,1375.6 L709.8,1377.6 L710.9,1379.5 L712.1,1381.4 L713.3,1383.4 L714.5,1385.3 L715.7,1387.3 L716.9,1389.2 L718.0,1391.2 L719.2,1393.1 L720.4,1395.0 L721.6,1397.0 L722.9,1398.9 L724.1,1400.9 L725.3,1402.8 L726.5,1404.8 L727.7,1406.7 L728.9,1408.6 L730.2,1410.6 L731.4,1412.5 L732.6,1414.5 L733.9,1416.4 L735.1,1418.4 L736.4,1420.3 L737.6,1422.2 L738.9,1424.2 L740.1,1426.1 L741.4,1428.1 L742.7,1430.0 L743.9,1432.0 L745.2,1433.9 L746.5,1435.8 L747.8,1437.8 L749.1,1439.7 L750.4,1441.7 L751.7,1443.6 L753.0,1445.6 L754.3,1447.5 L755.6,1449.4 L756.9,1451.4 L758.2,1453.3 L759.5,1455.3 L760.9,1457.2 L762.2,1459.2 L763.5,1461.1 L764.9,1463.0 L766.2,1465.0 L767.6,1466.9 L768.9,1468.9 L770.3,1470.8 L771.6,1472.8 L773.0,1474.7 L774.4,1476.6 L775.8,1478.6 L777.2,1480.5 L778.6,1482.5 L780.0,1484.4 L781.4,1486.4 L782.8,1488.3 L784.2,1490.2 L785.6,1492.2 L787.0,1494.1 L788.5,1496.1 L789.9,1498.0 L791.3,1500.0 L792.8,1501.9 L794.2,1503.9 L795.7,1505.8 L797.2,1507.7 L798.6,1509.7 L800.1,1511.6 L801.6,1513.6 L803.1,1515.5 L804.6,1517.5 L806.1,1519.4 L807.6,1521.3 L809.1,1523.3 L810.6,1525.2 L812.2,1527.2 L813.7,1529.1 L815.3,1531.1 L816.8,1533.0 L818.4,1534.9 L819.9,1536.9 L821.5,1538.8 L823.1,1540.8 L824.7,1542.7 L826.3,1544.7 L827.9,1546.6 L829.5,1548.5 L831.1,1550.5 L832.7,1552.4 L834.4,1554.4 L836.0,1556.3 L837.7,1558.3 L839.3,1560.2 L841.0,1562.1 L842.7,1564.1 L844.3,1566.0 L846.0,1568.0 L847.7,1569.9 L849.4,1571.9 L851.2,1573.8 L852.9,1575.7 L854.6,1577.7 L856.4,1579.6 L858.1,1581.6 L859.9,1583.5 L861.6,1585.5 L863.4,1587.4 L865.2,1589.3 L867.0,1591.3 L868.8,1593.2 L870.7,1595.2 L872.5,1597.1 L874.3,1599.1 L876.2,1601.0 L878.1,1602.9 L879.9,1604.9 L881.8,1606.8 L883.7,1608.8 L885.6,1610.7 L887.5,1612.7 L889.5,1614.6 L891.4,1616.5 L893.4,1618.5 L895.3,1620.4 L897.3,1622.4 L899.3,1624.3 L901.3,1626.3 L903.3,1628.2 L905.3,1630.1 L907.4,1632.1 L909.4,1634.0 L911.5,1636.0 L913.6,1637.9 L915.7,1639.9 L917.8,1641.8 L919.9,1643.8 L922.0,1645.7 L924.2,1647.6 L926.3,1649.6 L928.5,1651.5 L930.7,1653.5 L932.9,1655.4 L935.1,1657.4 L937.3,1659.3 L939.6,1661.2 L941.9,1663.2 L944.1,1665.1 L946.4,1667.1 L948.8,1669.0 L951.1,1671.0 L953.4,1672.9 L955.8,1674.8 L958.2,1676.8 L960.6,1678.7 L963.0,1680.7 L965.4,1682.6 L967.9,1684.6 L970.4,1686.5 L972.9,1688.4 L975.4,1690.4 L977.9,1692.3 L980.4,1694.3 L983.0,1696.2 L985.6,1698.2 L988.2,1700.1 L990.8,1702.0 L993.5,1704.0 L996.2,1705.9 L998.9,1707.9 L1001.6,1709.8 L1004.3,1711.8 L1007.1,1713.7 L1009.9,1715.6 L1012.7,1717.6 L1015.5,1719.5 L1018.4,1721.5 L1021.2,1723.4 L1024.1,1725.4 L1027.1,1727.3 L1030.0,1729.2 L1033.0,1731.2 L1036.0,1733.1 L1039.1,1735.1 L1042.1,1737.0 L1045.2,1739.0 L1048.4,1740.9 L1051.5,1742.8 L1054.7,1744.8 L1057.9,1746.7 L1061.1,1748.7 L1064.4,1750.6 L1067.7,1752.6 L1071.1,1754.5 L1074.4,1756.4 L1077.8,1758.4 L1081.3,1760.3 L1084.8,1762.3 L1088.3,1764.2 L1091.8,1766.2 L1095.4,1768.1 L1099.0,1770.0 L1102.7,1772.0 L1106.4,1773.9 L1110.1,1775.9 L1113.9,1777.8 L1117.8,1779.8 L1121.6,1781.7 L1125.5,1783.7 L1129.5,1785.6 L1133.5,1787.5 L1137.6,1789.5 L1141.7,1791.4"/>
<path d="M771.8,1109.4 L772.7,1111.4 L773.7,1113.3 L774.6,1115.2 L775.5,1117.2 L776.4,1119.1 L777.3,1121.1 L778.2,1123.0 L779.2,1125.0 L780.1,1126.9 L781.0,1128.8 L782.0,1130.8 L782.9,1132.7 L783.8,1134.7 L784.8,1136.6 L785.7,1138.6 L786.6,1140.5 L787.6,1142.4 L788.5,1144.4 L789.5,1146.3 L790.4,1148.3 L791.4,1150.2 L792.3,1152.2 L793.3,1154.1 L794.3,1156.0 L795.2,1158.0 L796.2,1159.9 L797.1,1161.9 L798.1,1163.8 L799.1,1165.8 L800.1,1167.7 L801.0,1169.6 L802.0,1171.6 L803.0,1173.5 L804.0,1175.5 L805.0,1177.4 L805.9,1179.4 L806.9,1181.3 L807.9,1183.2 L808.9,1185.2 L809.9,1187.1 L810.9,1189.1 L811.9,1191.0 L812.9,1193.0 L813.9,1194.9 L814.9,1196.8 L815.9,1198.8 L816.9,1200.7 L817.9,1202.7 L818.9,1204.6 L820.0,1206.6 L821.0,1208.5 L822.0,1210.4 L823.0,1212.4 L824.1,1214.3 L825.1,1216.3 L826.1,1218.2 L827.1,1220.2 L828.2,1222.1 L829.2,1224.1 L830.2,1226.0 L831.3,1227.9 L832.3,1229.9 L833.4,1231.8 L834.4,1233.8 L835.5,1235.7 L836.5,1237.7 L837.6,1239.6 L838.6,1241.5 L839.7,1243.5 L840.8,1245.4 L841.8,1247.4 L842.9,1249.3 L844.0,1251.3 L845.0,1253.2 L846.1,1255.1 L847.2,1257.1 L848.3,1259.0 L849.3,1261.0 L850.4,1262.9 L851.5,1264.9 L852.6,1266.8 L853.7,1268.7 L854.8,1270.7 L855.9,1272.6 L857.0,1274.6 L858.1,1276.5 L859.2,1278.5 L860.3,1280.4 L861.4,1282.3 L862.5,1284.3 L863.6,1286.2 L864.8,1288.2 L865.9,1290.1 L867.0,1292.1 L868.1,1294.0 L869.3,1295.9 L870.4,1297.9 L871.5,1299.8 L872.7,1301.8 L873.8,1303.7 L875.0,1305.7 L876.1,1307.6 L877.3,1309.5 L878.4,1311.5 L879.6,1313.4 L880.7,1315.4 L881.9,1317.3 L883.1,1319.3 L884.2,1321.2 L885.4,1323.1 L886.6,1325.1 L887.7,1327.0 L888.9,1329.0 L890.1,1330.9 L891.3,1332.9 L892.5,1334.8 L893.7,1336.7 L894.9,1338.7 L896.1,1340.6 L897.3,1342.6 L898.5,1344.5 L899.7,1346.5 L900.9,1348.4 L902.2,1350.3 L903.4,1352.3 L904.6,1354.2 L905.8,1356.2 L907.1,1358.1 L908.3,1360.1 L909.5,1362.0 L910.8,1364.0 L912.0,1365.9 L913.3,1367.8 L914.5,1369.8 L915.8,1371.7 L917.1,1373.7 L918.3,1375.6 L919.6,1377.6 L920.9,1379.5 L922.2,1381.4 L923.5,1383.4 L924.8,1385.3 L926.0,1387.3 L927.3,1389.2 L928.6,1391.2 L930.0,1393.1 L931.3,1395.0 L932.6,1397.0 L933.9,1398.9 L935.2,1400.9 L936.6,1402.8 L937.9,1404.8 L939.2,1406.7 L940.6,1408.6 L941.9,1410.6 L943.3,1412.5 L944.6,1414.5 L946.0,1416.4 L947.4,1418.4 L948.8,1420.3 L950.1,1422.2 L951.5,1424.2 L952.9,1426.1 L954.3,1428.1 L955.7,1430.0 L957.1,1432.0 L958.5,1433.9 L959.9,1435.8 L961.4,1437.8 L962.8,1439.7 L964.2,1441.7 L965.7,1443.6 L967.1,1445.6 L968.6,1447.5 L970.0,1449.4 L971.5,1451.4 L973.0,1453.3 L974.4,1455.3 L975.9,1457.2 L977.4,1459.2 L978.9,1461.1 L980.4,1463.0 L981.9,1465.0 L983.5,1466.9 L985.0,1468.9 L986.5,1470.8 L988.0,1472.8 L989.6,1474.7 L991.1,1476.6 L992.7,1478.6 L994.3,1480.5 L995.8,1482.5 L997.4,1484.4 L999.0,1486.4 L1000.6,1488.3 L1002.2,1490.2 L1003.8,1492.2 L1005.4,1494.1 L1007.1,1496.1 L1008.7,1498.0 L1010.3,1500.0 L1012.0,1501.9 L1013.6,1503.9 L1015.3,1505.8 L1017.0,1507.7 L1018.7,1509.7 L1020.4,1511.6 L1022.1,1513.6 L1023.8,1515.5 L1025.5,1517.5 L1027.2,1519.4 L1029.0,1521.3 L1030.7,1523.3 L1032.5,1525.2 L1034.2,1527.2 L1036.0,1529.1 L1037.8,1531.1 L1039.6,1533.0 L1041.4,1534.9 L1043.2,1536.9 L1045.0,1538.8 L1046.9,1540.8 L1048.7,1542.7 L1050.6,1544.7 L1052.5,1546.6 L1054.3,1548.5 L1056.2,1550.5 L1058.1,1552.4 L1060.1,1554.4 L1062.0,1556.3 L1063.9,1558.3 L1065.9,1560.2 L1067.8,1562.1 L1069.8,1564.1 L1071.8,1566.0 L1073.8,1568.0 L1075.8,1569.9 L1077.8,1571.9 L1079.9,1573.8 L1081.9,1575.7 L1084.0,1577.7 L1086.1,1579.6 L1088.2,1581.6 L1090.3,1583.5 L1092.4,1585.5 L1094.5,1587.4 L1096.7,1589.3 L1098.8,1591.3 L1101.0,1593.2 L1103.2,1595.2 L1105.4,1597.1 L1107.6,1599.1 L1109.9,1601.0 L1112.1,1602.9 L1114.4,1604.9 L1116.7,1606.8 L1119.0,1608.8 L1121.3,1610.7 L1123.7,1612.7 L1126.0,1614.6 L1128.4,1616.5 L1130.8,1618.5 L1133.2,1620.4 L1135.6,1622.4 L1138.1,1624.3 L1140.6,1626.3 L1143.1,1628.2"/>
</g>
<text x="405.1" y="1869.2" transform="rotate(36.6 405.1 1869.2)" font-size="28.7" fill="#E7298A" text-anchor="middle" dominant-baseline="central">10</text>
<text x="717.8" y="1872.9" transform="rotate(24.8 717.8 1872.9)" font-size="28.7" fill="#E7298A" text-anchor="middle" dominant-baseline="central">15</text>
</g>
<rect x="144.0" y="1078.4" width="837.5" height="837.3" fill="none" stroke="#000" stroke-width="3.3"/>
<path d="M175.0,1915.7 V1941.1 M368.9,1915.7 V1941.1 M562.8,1915.7 V1941.1 M756.6,1915.7 V1941.1 M950.5,1915.7 V1941.1 M144.0,1884.7 H118.4 M144.0,1729.6 H118.4 M144.0,1574.6 H118.4 M144.0,1419.5 H118.4 M144.0,1264.5 H118.4 M144.0,1109.4 H118.4" stroke="#000" stroke-width="3.1" stroke-linecap="round" fill="none"/>
<text x="175.0" y="1979.4" font-size="41" text-anchor="middle">15</text>
<text x="368.9" y="1979.4" font-size="41" text-anchor="middle">20</text>
<text x="562.8" y="1979.4" font-size="41" text-anchor="middle">25</text>
<text x="756.6" y="1979.4" font-size="41" text-anchor="middle">30</text>
<text x="950.5" y="1979.4" font-size="41" text-anchor="middle">35</text>
<text x="109.7" y="1884.7" font-size="41" text-anchor="middle" transform="rotate(-90 109.7 1884.7)">0</text>
<text x="109.7" y="1729.6" font-size="41" text-anchor="middle" transform="rotate(-90 109.7 1729.6)">20</text>
<text x="109.7" y="1574.6" font-size="41" text-anchor="middle" transform="rotate(-90 109.7 1574.6)">40</text>
<text x="109.7" y="1419.5" font-size="41" text-anchor="middle" transform="rotate(-90 109.7 1419.5)">60</text>
<text x="109.7" y="1264.5" font-size="41" text-anchor="middle" transform="rotate(-90 109.7 1264.5)">80</text>
<text x="109.7" y="1109.4" font-size="41" text-anchor="middle" transform="rotate(-90 109.7 1109.4)">100</text>
<text x="562.8" y="2028.5" font-size="41" text-anchor="middle">Temperature [°C]</text>
<text x="60.6" y="1497.1" font-size="41" text-anchor="middle" transform="rotate(-90 60.6 1497.1)">Relative humidity [%]</text>
<text x="562.8" y="1068.3" font-size="49.2" text-anchor="middle">UQM corrected</text>
<defs><clipPath id="lclip2"><rect x="0" y="1029.4" width="1010" height="60"/></clipPath></defs>
<text x="-3.4" y="1063.9" font-size="49.2" clip-path="url(#lclip2)">(c)</text>
<defs><clipPath id="clip3"><rect x="1177.5" y="1078.4" width="837.5" height="837.3"/></clipPath></defs>
<g clip-path="url(#clip3)">
<g fill="#000"><circle cx="1412.3" cy="1179.2" r="9.5"/><circle cx="1439.2" cy="1199.6" r="9.5"/><circle cx="1449.4" cy="1211.1" r="9.5"/><circle cx="1484.5" cy="1200.3" r="9.5"/><circle cx="1474.6" cy="1216.3" r="9.5"/><circle cx="1482.7" cy="1228.8" r="9.5"/><circle cx="1468.4" cy="1234.2" r="9.5"/><circle cx="1478.0" cy="1238.3" r="9.5"/><circle cx="1403.5" cy="1224.3" r="9.5"/><circle cx="1330.6" cy="1227.2" r="9.5"/><circle cx="1432.4" cy="1236.9" r="9.5"/><circle cx="1443.3" cy="1234.2" r="9.5"/><circle cx="1483.4" cy="1247.8" r="9.5"/><circle cx="1503.8" cy="1247.8" r="9.5"/><circle cx="1511.9" cy="1238.3" r="9.5"/><circle cx="1518.0" cy="1240.3" r="9.5"/><circle cx="1486.8" cy="1259.4" r="9.5"/><circle cx="1454.9" cy="1261.4" r="9.5"/><circle cx="1468.4" cy="1262.7" r="9.5"/><circle cx="1463.0" cy="1265.5" r="9.5"/><circle cx="1430.4" cy="1269.5" r="9.5"/><circle cx="1508.5" cy="1266.8" r="9.5"/><circle cx="1527.5" cy="1264.8" r="9.5"/><circle cx="1454.2" cy="1283.1" r="9.5"/><circle cx="1494.9" cy="1283.1" r="9.5"/><circle cx="1507.8" cy="1284.5" r="9.5"/><circle cx="1513.3" cy="1282.4" r="9.5"/><circle cx="1544.5" cy="1287.2" r="9.5"/><circle cx="1439.2" cy="1295.4" r="9.5"/><circle cx="1463.4" cy="1299.4" r="9.5"/><circle cx="1479.6" cy="1293.3" r="9.5"/><circle cx="1526.2" cy="1300.1" r="9.5"/><circle cx="1513.3" cy="1308.3" r="9.5"/><circle cx="1494.3" cy="1321.2" r="9.5"/><circle cx="1499.0" cy="1332.0" r="9.5"/><circle cx="1511.9" cy="1325.2" r="9.5"/><circle cx="1521.4" cy="1319.8" r="9.5"/><circle cx="1532.3" cy="1317.1" r="9.5"/><circle cx="1543.2" cy="1332.0" r="9.5"/><circle cx="1555.4" cy="1317.1" r="9.5"/><circle cx="1558.1" cy="1332.0" r="9.5"/><circle cx="1532.3" cy="1353.1" r="9.5"/><circle cx="1543.2" cy="1357.8" r="9.5"/><circle cx="1555.4" cy="1361.9" r="9.5"/><circle cx="1510.6" cy="1367.3" r="9.5"/><circle cx="1513.3" cy="1374.1" r="9.5"/><circle cx="1544.5" cy="1374.1" r="9.5"/><circle cx="1520.1" cy="1389.1" r="9.5"/><circle cx="1529.6" cy="1383.6" r="9.5"/><circle cx="1541.8" cy="1383.6" r="9.5"/><circle cx="1551.3" cy="1391.8" r="9.5"/><circle cx="1493.6" cy="1396.6" r="9.5"/><circle cx="1512.6" cy="1401.3" r="9.5"/><circle cx="1528.2" cy="1402.7" r="9.5"/><circle cx="1541.8" cy="1408.1" r="9.5"/><circle cx="1558.1" cy="1398.6" r="9.5"/><circle cx="1571.0" cy="1346.4" r="9.5"/><circle cx="1561.5" cy="1364.1" r="9.5"/><circle cx="1568.3" cy="1372.3" r="9.5"/><circle cx="1581.2" cy="1370.2" r="9.5"/><circle cx="1547.9" cy="1380.4" r="9.5"/><circle cx="1537.1" cy="1385.8" r="9.5"/><circle cx="1592.7" cy="1385.2" r="9.5"/><circle cx="1603.6" cy="1404.9" r="9.5"/><circle cx="1583.9" cy="1408.3" r="9.5"/><circle cx="1573.7" cy="1414.4" r="9.5"/><circle cx="1543.2" cy="1421.2" r="9.5"/><circle cx="1598.2" cy="1421.8" r="9.5"/><circle cx="1561.5" cy="1434.7" r="9.5"/><circle cx="1532.3" cy="1440.2" r="9.5"/><circle cx="1583.9" cy="1442.9" r="9.5"/><circle cx="1593.4" cy="1440.2" r="9.5"/><circle cx="1609.0" cy="1434.7" r="9.5"/><circle cx="1619.9" cy="1440.2" r="9.5"/><circle cx="1615.8" cy="1453.8" r="9.5"/><circle cx="1610.4" cy="1464.6" r="9.5"/><circle cx="1630.8" cy="1456.5" r="9.5"/><circle cx="1563.5" cy="1456.5" r="9.5"/><circle cx="1575.1" cy="1461.9" r="9.5"/><circle cx="1592.1" cy="1470.1" r="9.5"/><circle cx="1487.5" cy="1456.5" r="9.5"/><circle cx="1588.7" cy="1489.1" r="9.5"/><circle cx="1605.0" cy="1485.0" r="9.5"/><circle cx="1611.1" cy="1483.6" r="9.5"/><circle cx="1624.0" cy="1486.4" r="9.5"/><circle cx="1636.2" cy="1483.6" r="9.5"/><circle cx="1655.2" cy="1493.2" r="9.5"/><circle cx="1538.4" cy="1493.2" r="9.5"/><circle cx="1558.5" cy="1489.1" r="9.5"/><circle cx="1598.2" cy="1502.7" r="9.5"/><circle cx="1615.8" cy="1505.4" r="9.5"/><circle cx="1636.2" cy="1505.4" r="9.5"/><circle cx="1656.6" cy="1505.4" r="9.5"/><circle cx="1575.1" cy="1510.0" r="9.5"/><circle cx="1565.6" cy="1518.5" r="9.5"/><circle cx="1569.0" cy="1524.6" r="9.5"/><circle cx="1602.3" cy="1519.2" r="9.5"/><circle cx="1588.7" cy="1533.5" r="9.5"/><circle cx="1580.5" cy="1533.5" r="9.5"/><circle cx="1569.0" cy="1543.7" r="9.5"/><circle cx="1583.2" cy="1551.1" r="9.5"/><circle cx="1509.2" cy="1545.4" r="9.5"/><circle cx="1527.5" cy="1546.4" r="9.5"/><circle cx="1528.2" cy="1589.2" r="9.5"/><circle cx="1608.4" cy="1538.9" r="9.5"/><circle cx="1615.8" cy="1547.1" r="9.5"/><circle cx="1607.7" cy="1551.1" r="9.5"/><circle cx="1607.7" cy="1563.4" r="9.5"/><circle cx="1622.6" cy="1571.5" r="9.5"/><circle cx="1637.6" cy="1574.2" r="9.5"/><circle cx="1633.5" cy="1585.1" r="9.5"/><circle cx="1622.6" cy="1589.2" r="9.5"/><circle cx="1575.1" cy="1603.4" r="9.5"/><circle cx="1608.4" cy="1605.5" r="9.5"/><circle cx="1627.4" cy="1608.2" r="9.5"/><circle cx="1635.5" cy="1623.1" r="9.5"/><circle cx="1568.3" cy="1621.1" r="9.5"/><circle cx="1653.9" cy="1619.0" r="9.5"/><circle cx="1672.9" cy="1619.0" r="9.5"/><circle cx="1682.4" cy="1625.8" r="9.5"/><circle cx="1655.2" cy="1628.6" r="9.5"/><circle cx="1651.2" cy="1643.5" r="9.5"/><circle cx="1667.5" cy="1646.2" r="9.5"/><circle cx="1622.6" cy="1638.7" r="9.5"/><circle cx="1613.1" cy="1642.8" r="9.5"/><circle cx="1721.8" cy="1574.2" r="9.5"/><circle cx="1704.1" cy="1566.1" r="9.5"/><circle cx="1706.9" cy="1597.3" r="9.5"/><circle cx="1723.2" cy="1609.5" r="9.5"/><circle cx="1728.6" cy="1633.3" r="9.5"/><circle cx="1735.4" cy="1591.9" r="9.5"/><circle cx="1662.0" cy="1601.4" r="9.5"/><circle cx="1637.6" cy="1659.8" r="9.5"/><circle cx="1624.0" cy="1675.4" r="9.5"/><circle cx="1602.3" cy="1672.0" r="9.5"/><circle cx="1592.7" cy="1682.9" r="9.5"/><circle cx="1603.6" cy="1685.6" r="9.5"/><circle cx="1598.9" cy="1706.0" r="9.5"/><circle cx="1598.2" cy="1720.9" r="9.5"/><circle cx="1611.8" cy="1726.4" r="9.5"/><circle cx="1633.5" cy="1711.4" r="9.5"/><circle cx="1634.9" cy="1729.1" r="9.5"/><circle cx="1626.7" cy="1745.4" r="9.5"/><circle cx="1670.2" cy="1742.7" r="9.5"/><circle cx="1656.6" cy="1720.9" r="9.5"/><circle cx="1649.8" cy="1703.3" r="9.5"/><circle cx="1677.0" cy="1712.8" r="9.5"/><circle cx="1687.8" cy="1725.0" r="9.5"/><circle cx="1710.9" cy="1729.1" r="9.5"/><circle cx="1724.5" cy="1714.1" r="9.5"/><circle cx="1738.1" cy="1723.6" r="9.5"/><circle cx="1595.5" cy="1496.8" r="9.5"/><circle cx="1611.5" cy="1496.8" r="9.5"/><circle cx="1627.5" cy="1496.8" r="9.5"/><circle cx="1643.6" cy="1496.8" r="9.5"/><circle cx="1659.6" cy="1496.8" r="9.5"/><circle cx="1617.1" cy="1510.4" r="9.5"/><circle cx="1633.1" cy="1510.4" r="9.5"/><circle cx="1649.1" cy="1510.4" r="9.5"/><circle cx="1665.2" cy="1510.4" r="9.5"/><circle cx="1615.8" cy="1524.0" r="9.5"/><circle cx="1631.9" cy="1524.0" r="9.5"/><circle cx="1647.9" cy="1524.0" r="9.5"/><circle cx="1663.9" cy="1524.0" r="9.5"/><circle cx="1680.0" cy="1524.0" r="9.5"/><circle cx="1630.6" cy="1537.5" r="9.5"/><circle cx="1646.7" cy="1537.5" r="9.5"/><circle cx="1662.7" cy="1537.5" r="9.5"/><circle cx="1678.7" cy="1537.5" r="9.5"/><circle cx="1629.4" cy="1551.1" r="9.5"/><circle cx="1645.5" cy="1551.1" r="9.5"/><circle cx="1661.5" cy="1551.1" r="9.5"/><circle cx="1677.5" cy="1551.1" r="9.5"/><circle cx="1644.2" cy="1564.7" r="9.5"/><circle cx="1660.3" cy="1564.7" r="9.5"/><circle cx="1676.3" cy="1564.7" r="9.5"/><circle cx="1692.3" cy="1564.7" r="9.5"/><circle cx="1643.0" cy="1578.3" r="9.5"/><circle cx="1659.0" cy="1578.3" r="9.5"/><circle cx="1675.1" cy="1578.3" r="9.5"/><circle cx="1691.1" cy="1578.3" r="9.5"/><circle cx="1707.1" cy="1578.3" r="9.5"/><circle cx="1657.8" cy="1591.9" r="9.5"/><circle cx="1673.8" cy="1591.9" r="9.5"/><circle cx="1689.9" cy="1591.9" r="9.5"/><circle cx="1705.9" cy="1591.9" r="9.5"/><circle cx="1679.4" cy="1605.5" r="9.5"/><circle cx="1695.4" cy="1605.5" r="9.5"/><circle cx="1685.0" cy="1619.0" r="9.5"/><circle cx="1701.0" cy="1619.0" r="9.5"/><circle cx="1717.0" cy="1619.0" r="9.5"/><circle cx="1683.8" cy="1632.6" r="9.5"/><circle cx="1699.8" cy="1632.6" r="9.5"/><circle cx="1685.0" cy="1646.2" r="9.5"/><circle cx="1701.0" cy="1646.2" r="9.5"/><circle cx="1717.0" cy="1646.2" r="9.5"/><circle cx="1733.1" cy="1646.2" r="9.5"/><circle cx="1649.8" cy="1659.8" r="9.5"/><circle cx="1665.8" cy="1659.8" r="9.5"/><circle cx="1681.9" cy="1659.8" r="9.5"/><circle cx="1697.9" cy="1659.8" r="9.5"/><circle cx="1713.9" cy="1659.8" r="9.5"/><circle cx="1729.9" cy="1659.8" r="9.5"/><circle cx="1657.8" cy="1673.4" r="9.5"/><circle cx="1673.8" cy="1673.4" r="9.5"/><circle cx="1689.9" cy="1673.4" r="9.5"/><circle cx="1705.9" cy="1673.4" r="9.5"/><circle cx="1721.9" cy="1673.4" r="9.5"/><circle cx="1738.0" cy="1673.4" r="9.5"/><circle cx="1656.6" cy="1687.0" r="9.5"/><circle cx="1672.6" cy="1687.0" r="9.5"/><circle cx="1688.7" cy="1687.0" r="9.5"/><circle cx="1704.7" cy="1687.0" r="9.5"/><circle cx="1720.7" cy="1687.0" r="9.5"/><circle cx="1736.7" cy="1687.0" r="9.5"/><circle cx="1671.4" cy="1700.6" r="9.5"/><circle cx="1687.4" cy="1700.6" r="9.5"/><circle cx="1703.5" cy="1700.6" r="9.5"/><circle cx="1719.5" cy="1700.6" r="9.5"/><circle cx="1735.5" cy="1700.6" r="9.5"/><circle cx="1683.8" cy="1714.1" r="9.5"/><circle cx="1699.8" cy="1714.1" r="9.5"/><circle cx="1715.8" cy="1714.1" r="9.5"/><circle cx="1619.5" cy="1745.2" r="9.5"/><circle cx="1631.8" cy="1746.6" r="9.5"/><circle cx="1664.4" cy="1737.1" r="9.5"/><circle cx="1616.1" cy="1767.6" r="9.5"/><circle cx="1639.2" cy="1763.5" r="9.5"/><circle cx="1575.4" cy="1792.1" r="9.5"/><circle cx="1680.7" cy="1788.7" r="9.5"/><circle cx="1710.6" cy="1775.8" r="9.5"/><circle cx="1720.7" cy="1758.1" r="9.5"/><circle cx="1729.6" cy="1765.6" r="9.5"/><circle cx="1748.6" cy="1751.3" r="9.5"/><circle cx="1657.6" cy="1714.0" r="9.5"/><circle cx="1707.8" cy="1734.3" r="9.5"/><circle cx="1717.3" cy="1727.5" r="9.5"/><circle cx="1744.5" cy="1716.7" r="9.5"/><circle cx="1758.1" cy="1727.5" r="9.5"/><circle cx="1663.0" cy="1686.8" r="9.5"/><circle cx="1683.4" cy="1688.2" r="9.5"/><circle cx="1724.1" cy="1693.6" r="9.5"/><circle cx="1744.5" cy="1693.6" r="9.5"/><circle cx="1694.3" cy="1707.2" r="9.5"/><circle cx="1710.6" cy="1714.0" r="9.5"/><circle cx="1730.9" cy="1707.2" r="9.5"/><circle cx="1758.1" cy="1707.2" r="9.5"/><circle cx="1744.9" cy="1649.0" r="9.5"/><circle cx="1760.5" cy="1668.7" r="9.5"/><circle cx="1742.9" cy="1659.2" r="9.5"/><circle cx="1759.2" cy="1682.3" r="9.5"/><circle cx="1784.3" cy="1687.0" r="9.5"/><circle cx="1798.6" cy="1690.4" r="9.5"/><circle cx="1806.0" cy="1690.4" r="9.5"/><circle cx="1805.4" cy="1701.3" r="9.5"/><circle cx="1785.0" cy="1710.8" r="9.5"/><circle cx="1812.1" cy="1720.3" r="9.5"/><circle cx="1808.1" cy="1744.7" r="9.5"/><circle cx="1813.5" cy="1744.7" r="9.5"/><circle cx="1811.5" cy="1763.8" r="9.5"/><circle cx="1668.0" cy="1580.4" r="9.5"/><circle cx="1684.0" cy="1580.4" r="9.5"/><circle cx="1700.1" cy="1580.4" r="9.5"/><circle cx="1713.7" cy="1607.5" r="9.5"/><circle cx="1660.0" cy="1621.1" r="9.5"/><circle cx="1692.1" cy="1621.1" r="9.5"/><circle cx="1708.1" cy="1621.1" r="9.5"/><circle cx="1668.0" cy="1634.7" r="9.5"/><circle cx="1716.1" cy="1634.7" r="9.5"/><circle cx="1660.0" cy="1648.3" r="9.5"/><circle cx="1676.0" cy="1648.3" r="9.5"/><circle cx="1692.1" cy="1648.3" r="9.5"/><circle cx="1708.1" cy="1648.3" r="9.5"/><circle cx="1724.1" cy="1648.3" r="9.5"/><circle cx="1748.2" cy="1661.9" r="9.5"/><circle cx="1668.0" cy="1689.0" r="9.5"/><circle cx="1700.1" cy="1689.0" r="9.5"/><circle cx="1716.1" cy="1689.0" r="9.5"/><circle cx="1732.1" cy="1689.0" r="9.5"/><circle cx="1748.2" cy="1689.0" r="9.5"/><circle cx="1764.2" cy="1689.0" r="9.5"/><circle cx="1660.0" cy="1702.6" r="9.5"/><circle cx="1676.0" cy="1702.6" r="9.5"/><circle cx="1692.1" cy="1702.6" r="9.5"/><circle cx="1708.1" cy="1702.6" r="9.5"/><circle cx="1724.1" cy="1702.6" r="9.5"/><circle cx="1740.1" cy="1702.6" r="9.5"/><circle cx="1772.2" cy="1702.6" r="9.5"/><circle cx="1788.2" cy="1702.6" r="9.5"/><circle cx="1729.7" cy="1716.2" r="9.5"/><circle cx="1761.7" cy="1716.2" r="9.5"/><circle cx="1694.0" cy="1729.8" r="9.5"/><circle cx="1426.4" cy="1443.3" r="9.5"/></g>
<g fill="#f00"><circle cx="1550.6" cy="1272.3" r="9.5"/><circle cx="1581.2" cy="1340.3" r="9.5"/><circle cx="1579.2" cy="1351.9" r="9.5"/><circle cx="1590.0" cy="1358.7" r="9.5"/><circle cx="1616.5" cy="1375.0" r="9.5"/><circle cx="1600.2" cy="1387.2" r="9.5"/><circle cx="1622.0" cy="1415.7" r="9.5"/><circle cx="1629.4" cy="1425.9" r="9.5"/><circle cx="1642.3" cy="1424.6" r="9.5"/><circle cx="1633.5" cy="1446.3" r="9.5"/><circle cx="1643.7" cy="1448.3" r="9.5"/><circle cx="1665.4" cy="1466.0" r="9.5"/><circle cx="1658.6" cy="1471.4" r="9.5"/><circle cx="1674.3" cy="1489.1" r="9.5"/><circle cx="1679.0" cy="1505.4" r="9.5"/><circle cx="1695.3" cy="1526.7" r="9.5"/><circle cx="1702.1" cy="1540.3" r="9.5"/><circle cx="1772.5" cy="1630.4" r="9.5"/></g>
<g fill="none" stroke="#7570B3" stroke-width="3.7" stroke-linecap="round" stroke-linejoin="round">
<path d="M1165.9,1252.3 L1173.1,1251.7 L1180.3,1251.1 L1187.6,1250.6 L1194.8,1250.0 L1202.0,1249.4 L1209.3,1248.9 L1216.5,1248.3 L1223.7,1247.7 L1231.0,1247.2 L1238.2,1246.6 L1245.4,1246.0 L1252.7,1245.5 L1259.9,1244.9 L1267.1,1244.3 L1274.4,1243.7 L1281.6,1243.2 L1288.8,1242.6 L1296.1,1242.0 L1303.3,1241.5 L1310.5,1240.9 L1317.8,1240.3 L1325.0,1239.8 L1332.2,1239.2 L1339.5,1238.6 L1346.7,1238.1 L1353.9,1237.5 L1361.2,1236.9 L1368.4,1236.4 L1375.6,1235.8 L1382.9,1235.2 L1390.1,1234.6 L1397.3,1234.1 L1404.6,1233.5 L1411.8,1232.9 L1419.0,1232.4 L1426.3,1231.8 L1433.5,1231.2 L1440.7,1230.7 L1448.0,1230.1 L1455.2,1229.5 L1462.4,1229.0 L1469.7,1228.4 L1476.9,1227.8 L1484.1,1227.3 L1491.4,1226.7 L1498.6,1226.1 L1505.8,1225.5 L1513.1,1225.0 L1520.3,1224.4 L1527.5,1223.8 L1534.8,1223.3 L1542.0,1222.7 L1549.2,1222.1 L1556.5,1221.6 L1563.7,1221.0 L1570.9,1220.4 L1578.2,1219.9 L1585.4,1219.3 L1592.6,1218.7 L1599.9,1218.2 L1607.1,1217.6 L1614.3,1217.0 L1621.6,1216.4 L1628.8,1215.9 L1636.0,1215.3 L1643.3,1214.7 L1650.5,1214.2 L1657.7,1213.6 L1665.0,1213.0 L1672.2,1212.5 L1679.4,1211.9 L1686.7,1211.3 L1693.9,1210.8 L1701.1,1210.2 L1708.4,1209.6 L1715.6,1209.0 L1722.8,1208.5 L1730.1,1207.9 L1737.3,1207.3 L1744.5,1206.8 L1751.8,1206.2 L1759.0,1205.6 L1766.2,1205.1 L1773.5,1204.5 L1780.7,1203.9 L1787.9,1203.4 L1795.2,1202.8 L1802.4,1202.2 L1809.6,1201.7 L1816.9,1201.1 L1824.1,1200.5 L1831.3,1199.9 L1838.6,1199.4 L1845.8,1198.8 L1853.0,1198.2 L1860.3,1197.7 L1867.5,1197.1 L1874.7,1196.5 L1882.0,1196.0 L1889.2,1195.4 L1896.4,1194.8 L1903.7,1194.3 L1910.9,1193.7 L1918.1,1193.1 L1925.4,1192.6 L1932.6,1192.0 L1939.8,1191.4 L1947.1,1190.8 L1954.3,1190.3 L1961.5,1189.7 L1968.8,1189.1 L1976.0,1188.6 L1983.2,1188.0 L1990.5,1187.4 L1997.7,1186.9 L2004.9,1186.3 L2012.2,1185.7 L2019.4,1185.2 L2026.6,1184.6"/>
<path d="M1165.9,1513.6 L1173.1,1513.3 L1180.3,1513.1 L1187.6,1512.8 L1194.8,1512.5 L1202.0,1512.3 L1209.3,1512.0 L1216.5,1511.7 L1223.7,1511.5 L1231.0,1511.2 L1238.2,1510.9 L1245.4,1510.7 L1252.7,1510.4 L1259.9,1510.1 L1267.1,1509.8 L1274.4,1509.6 L1281.6,1509.3 L1288.8,1509.0 L1296.1,1508.8 L1303.3,1508.5 L1310.5,1508.2 L1317.8,1508.0 L1325.0,1507.7 L1332.2,1507.4 L1339.5,1507.2 L1346.7,1506.9 L1353.9,1506.6 L1361.2,1506.4 L1368.4,1506.1 L1375.6,1505.8 L1382.9,1505.6 L1390.1,1505.3 L1397.3,1505.0 L1404.6,1504.8 L1411.8,1504.5 L1419.0,1504.2 L1426.3,1504.0 L1433.5,1503.7 L1440.7,1503.5 L1448.0,1503.2 L1455.2,1502.9 L1462.4,1502.7 L1469.7,1502.4 L1476.9,1502.1 L1484.1,1501.9 L1491.4,1501.6 L1498.6,1501.3 L1505.8,1501.1 L1513.1,1500.8 L1520.3,1500.6 L1527.5,1500.3 L1534.8,1500.0 L1542.0,1499.8 L1549.2,1499.5 L1556.5,1499.2 L1563.7,1499.0 L1570.9,1498.7 L1578.2,1498.5 L1585.4,1498.2 L1592.6,1497.9 L1599.9,1497.7 L1607.1,1497.4 L1614.3,1497.1 L1621.6,1496.9 L1628.8,1496.6 L1636.0,1496.4 L1643.3,1496.1 L1650.5,1495.8 L1657.7,1495.6 L1665.0,1495.3 L1672.2,1495.1 L1679.4,1494.8 L1686.7,1494.5 L1693.9,1494.3 L1701.1,1494.0 L1708.4,1493.8 L1715.6,1493.5 L1722.8,1493.3 L1730.1,1493.0 L1737.3,1492.7 L1744.5,1492.5 L1751.8,1492.2 L1759.0,1492.0 L1766.2,1491.7 L1773.5,1491.4 L1780.7,1491.2 L1787.9,1490.9 L1795.2,1490.7 L1802.4,1490.4 L1809.6,1490.2 L1816.9,1489.9 L1824.1,1489.7 L1831.3,1489.4 L1838.6,1489.1 L1845.8,1488.9 L1853.0,1488.6 L1860.3,1488.4 L1867.5,1488.1 L1874.7,1487.9 L1882.0,1487.6 L1889.2,1487.4 L1896.4,1487.1 L1903.7,1486.8 L1910.9,1486.6 L1918.1,1486.3 L1925.4,1486.1 L1932.6,1485.8 L1939.8,1485.6 L1947.1,1485.3 L1954.3,1485.1 L1961.5,1484.8 L1968.8,1484.6 L1976.0,1484.3 L1983.2,1484.0 L1990.5,1483.8 L1997.7,1483.5 L2004.9,1483.3 L2012.2,1483.0 L2019.4,1482.8 L2026.6,1482.5"/>
<path d="M1165.9,1606.1 L1173.1,1605.9 L1180.3,1605.7 L1187.6,1605.4 L1194.8,1605.2 L1202.0,1605.0 L1209.3,1604.8 L1216.5,1604.5 L1223.7,1604.3 L1231.0,1604.1 L1238.2,1603.8 L1245.4,1603.6 L1252.7,1603.4 L1259.9,1603.2 L1267.1,1602.9 L1274.4,1602.7 L1281.6,1602.5 L1288.8,1602.3 L1296.1,1602.0 L1303.3,1601.8 L1310.5,1601.6 L1317.8,1601.4 L1325.0,1601.1 L1332.2,1600.9 L1339.5,1600.7 L1346.7,1600.5 L1353.9,1600.2 L1361.2,1600.0 L1368.4,1599.8 L1375.6,1599.6 L1382.9,1599.3 L1390.1,1599.1 L1397.3,1598.9 L1404.6,1598.7 L1411.8,1598.4 L1419.0,1598.2 L1426.3,1598.0 L1433.5,1597.8 L1440.7,1597.5 L1448.0,1597.3 L1455.2,1597.1 L1462.4,1596.9 L1469.7,1596.6 L1476.9,1596.4 L1484.1,1596.2 L1491.4,1596.0 L1498.6,1595.8 L1505.8,1595.5 L1513.1,1595.3 L1520.3,1595.1 L1527.5,1594.9 L1534.8,1594.6 L1542.0,1594.4 L1549.2,1594.2 L1556.5,1594.0 L1563.7,1593.8 L1570.9,1593.5 L1578.2,1593.3 L1585.4,1593.1 L1592.6,1592.9 L1599.9,1592.7 L1607.1,1592.4 L1614.3,1592.2 L1621.6,1592.0 L1628.8,1591.8 L1636.0,1591.6 L1643.3,1591.3 L1650.5,1591.1 L1657.7,1590.9 L1665.0,1590.7 L1672.2,1590.5 L1679.4,1590.2 L1686.7,1590.0 L1693.9,1589.8 L1701.1,1589.6 L1708.4,1589.4 L1715.6,1589.1 L1722.8,1588.9 L1730.1,1588.7 L1737.3,1588.5 L1744.5,1588.3 L1751.8,1588.1 L1759.0,1587.8 L1766.2,1587.6 L1773.5,1587.4 L1780.7,1587.2 L1787.9,1587.0 L1795.2,1586.7 L1802.4,1586.5 L1809.6,1586.3 L1816.9,1586.1 L1824.1,1585.9 L1831.3,1585.7 L1838.6,1585.4 L1845.8,1585.2 L1853.0,1585.0 L1860.3,1584.8 L1867.5,1584.6 L1874.7,1584.4 L1882.0,1584.2 L1889.2,1583.9 L1896.4,1583.7 L1903.7,1583.5 L1910.9,1583.3 L1918.1,1583.1 L1925.4,1582.9 L1932.6,1582.6 L1939.8,1582.4 L1947.1,1582.2 L1954.3,1582.0 L1961.5,1581.8 L1968.8,1581.6"/>
<path d="M2019.4,1580.1 L2026.6,1579.9"/>
<path d="M1165.9,1665.5 L1173.1,1665.3 L1180.3,1665.1 L1187.6,1664.9 L1194.8,1664.7 L1202.0,1664.4 L1209.3,1664.2 L1216.5,1664.0 L1223.7,1663.8 L1231.0,1663.6 L1238.2,1663.4 L1245.4,1663.2 L1252.7,1663.0 L1259.9,1662.8 L1267.1,1662.6 L1274.4,1662.4 L1281.6,1662.2 L1288.8,1662.0 L1296.1,1661.8 L1303.3,1661.6 L1310.5,1661.4 L1317.8,1661.2 L1325.0,1660.9 L1332.2,1660.7 L1339.5,1660.5 L1346.7,1660.3 L1353.9,1660.1 L1361.2,1659.9 L1368.4,1659.7 L1375.6,1659.5 L1382.9,1659.3 L1390.1,1659.1 L1397.3,1658.9 L1404.6,1658.7 L1411.8,1658.5 L1419.0,1658.3 L1426.3,1658.1 L1433.5,1657.9 L1440.7,1657.7 L1448.0,1657.5 L1455.2,1657.3 L1462.4,1657.1 L1469.7,1656.9 L1476.9,1656.7 L1484.1,1656.5 L1491.4,1656.3 L1498.6,1656.1 L1505.8,1655.9 L1513.1,1655.7 L1520.3,1655.5 L1527.5,1655.3 L1534.8,1655.1 L1542.0,1654.9 L1549.2,1654.7 L1556.5,1654.5 L1563.7,1654.2 L1570.9,1654.0 L1578.2,1653.8 L1585.4,1653.6 L1592.6,1653.4 L1599.9,1653.2 L1607.1,1653.0 L1614.3,1652.8 L1621.6,1652.6 L1628.8,1652.4 L1636.0,1652.2 L1643.3,1652.0 L1650.5,1651.8 L1657.7,1651.6 L1665.0,1651.4 L1672.2,1651.2 L1679.4,1651.0 L1686.7,1650.8 L1693.9,1650.6 L1701.1,1650.4 L1708.4,1650.2 L1715.6,1650.0 L1722.8,1649.8 L1730.1,1649.7 L1737.3,1649.5 L1744.5,1649.3 L1751.8,1649.1 L1759.0,1648.9 L1766.2,1648.7 L1773.5,1648.5 L1780.7,1648.3 L1787.9,1648.1 L1795.2,1647.9 L1802.4,1647.7 L1809.6,1647.5 L1816.9,1647.3 L1824.1,1647.1 L1831.3,1646.9 L1838.6,1646.7 L1845.8,1646.5 L1853.0,1646.3 L1860.3,1646.1 L1867.5,1645.9 L1874.7,1645.7 L1882.0,1645.5 L1889.2,1645.3 L1896.4,1645.1 L1903.7,1644.9 L1910.9,1644.7 L1918.1,1644.5 L1925.4,1644.3 L1932.6,1644.1 L1939.8,1643.9 L1947.1,1643.7 L1954.3,1643.5 L1961.5,1643.3 L1968.8,1643.2 L1976.0,1643.0 L1983.2,1642.8 L1990.5,1642.6 L1997.7,1642.4 L2004.9,1642.2"/>
<path d="M1165.9,1709.6 L1173.1,1709.4 L1180.3,1709.2 L1187.6,1709.0 L1194.8,1708.9 L1202.0,1708.7 L1209.3,1708.5 L1216.5,1708.3 L1223.7,1708.1 L1231.0,1707.9 L1238.2,1707.7 L1245.4,1707.5 L1252.7,1707.3 L1259.9,1707.1 L1267.1,1706.9 L1274.4,1706.7 L1281.6,1706.5 L1288.8,1706.3 L1296.1,1706.1 L1303.3,1706.0 L1310.5,1705.8 L1317.8,1705.6 L1325.0,1705.4 L1332.2,1705.2 L1339.5,1705.0 L1346.7,1704.8 L1353.9,1704.6 L1361.2,1704.4 L1368.4,1704.2 L1375.6,1704.0 L1382.9,1703.8 L1390.1,1703.7 L1397.3,1703.5 L1404.6,1703.3 L1411.8,1703.1 L1419.0,1702.9 L1426.3,1702.7 L1433.5,1702.5 L1440.7,1702.3 L1448.0,1702.1 L1455.2,1701.9 L1462.4,1701.8 L1469.7,1701.6 L1476.9,1701.4 L1484.1,1701.2 L1491.4,1701.0 L1498.6,1700.8 L1505.8,1700.6 L1513.1,1700.4 L1520.3,1700.2 L1527.5,1700.0 L1534.8,1699.9 L1542.0,1699.7 L1549.2,1699.5 L1556.5,1699.3 L1563.7,1699.1 L1570.9,1698.9 L1578.2,1698.7 L1585.4,1698.5 L1592.6,1698.3 L1599.9,1698.2 L1607.1,1698.0 L1614.3,1697.8 L1621.6,1697.6 L1628.8,1697.4 L1636.0,1697.2 L1643.3,1697.0 L1650.5,1696.8 L1657.7,1696.7 L1665.0,1696.5 L1672.2,1696.3 L1679.4,1696.1 L1686.7,1695.9 L1693.9,1695.7 L1701.1,1695.5 L1708.4,1695.4 L1715.6,1695.2 L1722.8,1695.0 L1730.1,1694.8 L1737.3,1694.6 L1744.5,1694.4 L1751.8,1694.2 L1759.0,1694.0 L1766.2,1693.9 L1773.5,1693.7 L1780.7,1693.5 L1787.9,1693.3 L1795.2,1693.1 L1802.4,1692.9 L1809.6,1692.7 L1816.9,1692.6 L1824.1,1692.4 L1831.3,1692.2 L1838.6,1692.0 L1845.8,1691.8 L1853.0,1691.6 L1860.3,1691.5 L1867.5,1691.3 L1874.7,1691.1 L1882.0,1690.9 L1889.2,1690.7 L1896.4,1690.5 L1903.7,1690.3 L1910.9,1690.2 L1918.1,1690.0 L1925.4,1689.8 L1932.6,1689.6 L1939.8,1689.4 L1947.1,1689.2 L1954.3,1689.1 L1961.5,1688.9 L1968.8,1688.7"/>
<path d="M2019.4,1687.4 L2026.6,1687.2"/>
<path d="M1165.9,1744.9 L1173.1,1744.7 L1180.3,1744.5 L1187.6,1744.4 L1194.8,1744.2 L1202.0,1744.0 L1209.3,1743.8 L1216.5,1743.6 L1223.7,1743.4 L1231.0,1743.3 L1238.2,1743.1 L1245.4,1742.9 L1252.7,1742.7 L1259.9,1742.5 L1267.1,1742.3 L1274.4,1742.2 L1281.6,1742.0 L1288.8,1741.8 L1296.1,1741.6 L1303.3,1741.4 L1310.5,1741.2 L1317.8,1741.1 L1325.0,1740.9 L1332.2,1740.7 L1339.5,1740.5 L1346.7,1740.3 L1353.9,1740.1 L1361.2,1740.0 L1368.4,1739.8 L1375.6,1739.6 L1382.9,1739.4 L1390.1,1739.2 L1397.3,1739.1 L1404.6,1738.9 L1411.8,1738.7 L1419.0,1738.5 L1426.3,1738.3 L1433.5,1738.1 L1440.7,1738.0 L1448.0,1737.8 L1455.2,1737.6 L1462.4,1737.4 L1469.7,1737.2 L1476.9,1737.1 L1484.1,1736.9 L1491.4,1736.7 L1498.6,1736.5 L1505.8,1736.3 L1513.1,1736.2 L1520.3,1736.0 L1527.5,1735.8 L1534.8,1735.6 L1542.0,1735.4 L1549.2,1735.3 L1556.5,1735.1 L1563.7,1734.9 L1570.9,1734.7 L1578.2,1734.5 L1585.4,1734.4 L1592.6,1734.2 L1599.9,1734.0 L1607.1,1733.8 L1614.3,1733.6 L1621.6,1733.5 L1628.8,1733.3 L1636.0,1733.1 L1643.3,1732.9 L1650.5,1732.7 L1657.7,1732.6 L1665.0,1732.4 L1672.2,1732.2 L1679.4,1732.0 L1686.7,1731.9 L1693.9,1731.7 L1701.1,1731.5 L1708.4,1731.3 L1715.6,1731.1 L1722.8,1731.0 L1730.1,1730.8 L1737.3,1730.6 L1744.5,1730.4 L1751.8,1730.3 L1759.0,1730.1 L1766.2,1729.9 L1773.5,1729.7 L1780.7,1729.5 L1787.9,1729.4 L1795.2,1729.2 L1802.4,1729.0 L1809.6,1728.8 L1816.9,1728.7 L1824.1,1728.5 L1831.3,1728.3 L1838.6,1728.1 L1845.8,1728.0 L1853.0,1727.8"/>
<path d="M1918.1,1726.2 L1925.4,1726.0 L1932.6,1725.9 L1939.8,1725.7 L1947.1,1725.5 L1954.3,1725.3 L1961.5,1725.2 L1968.8,1725.0 L1976.0,1724.8 L1983.2,1724.6 L1990.5,1724.5 L1997.7,1724.3 L2004.9,1724.1 L2012.2,1723.9 L2019.4,1723.8 L2026.6,1723.6"/>
<path d="M1165.9,1774.4 L1173.1,1774.2 L1180.3,1774.0 L1187.6,1773.8 L1194.8,1773.7 L1202.0,1773.5 L1209.3,1773.3 L1216.5,1773.1 L1223.7,1773.0 L1231.0,1772.8 L1238.2,1772.6 L1245.4,1772.4 L1252.7,1772.2 L1259.9,1772.1 L1267.1,1771.9 L1274.4,1771.7 L1281.6,1771.5 L1288.8,1771.4 L1296.1,1771.2 L1303.3,1771.0 L1310.5,1770.8 L1317.8,1770.7 L1325.0,1770.5 L1332.2,1770.3 L1339.5,1770.1 L1346.7,1770.0 L1353.9,1769.8 L1361.2,1769.6 L1368.4,1769.4 L1375.6,1769.3 L1382.9,1769.1 L1390.1,1768.9 L1397.3,1768.7 L1404.6,1768.6 L1411.8,1768.4 L1419.0,1768.2 L1426.3,1768.0 L1433.5,1767.9 L1440.7,1767.7 L1448.0,1767.5 L1455.2,1767.3 L1462.4,1767.2 L1469.7,1767.0 L1476.9,1766.8 L1484.1,1766.6 L1491.4,1766.5 L1498.6,1766.3 L1505.8,1766.1 L1513.1,1766.0 L1520.3,1765.8 L1527.5,1765.6 L1534.8,1765.4 L1542.0,1765.3 L1549.2,1765.1 L1556.5,1764.9 L1563.7,1764.7 L1570.9,1764.6 L1578.2,1764.4 L1585.4,1764.2 L1592.6,1764.1 L1599.9,1763.9 L1607.1,1763.7 L1614.3,1763.5 L1621.6,1763.4 L1628.8,1763.2 L1636.0,1763.0 L1643.3,1762.8 L1650.5,1762.7 L1657.7,1762.5 L1665.0,1762.3 L1672.2,1762.2 L1679.4,1762.0 L1686.7,1761.8 L1693.9,1761.6 L1701.1,1761.5 L1708.4,1761.3 L1715.6,1761.1 L1722.8,1761.0 L1730.1,1760.8 L1737.3,1760.6 L1744.5,1760.4 L1751.8,1760.3 L1759.0,1760.1 L1766.2,1759.9 L1773.5,1759.8 L1780.7,1759.6 L1787.9,1759.4 L1795.2,1759.3 L1802.4,1759.1 L1809.6,1758.9 L1816.9,1758.7 L1824.1,1758.6 L1831.3,1758.4 L1838.6,1758.2 L1845.8,1758.1 L1853.0,1757.9 L1860.3,1757.7 L1867.5,1757.6 L1874.7,1757.4 L1882.0,1757.2 L1889.2,1757.1 L1896.4,1756.9 L1903.7,1756.7 L1910.9,1756.5 L1918.1,1756.4 L1925.4,1756.2 L1932.6,1756.0 L1939.8,1755.9 L1947.1,1755.7"/>
<path d="M2019.4,1754.0 L2026.6,1753.9"/>
<path d="M1165.9,1799.7 L1173.1,1799.5 L1180.3,1799.4 L1187.6,1799.2 L1194.8,1799.0 L1202.0,1798.8 L1209.3,1798.7 L1216.5,1798.5 L1223.7,1798.3 L1231.0,1798.2 L1238.2,1798.0 L1245.4,1797.8 L1252.7,1797.6 L1259.9,1797.5 L1267.1,1797.3 L1274.4,1797.1 L1281.6,1797.0 L1288.8,1796.8 L1296.1,1796.6 L1303.3,1796.4 L1310.5,1796.3 L1317.8,1796.1 L1325.0,1795.9 L1332.2,1795.8 L1339.5,1795.6 L1346.7,1795.4 L1353.9,1795.3 L1361.2,1795.1 L1368.4,1794.9 L1375.6,1794.7 L1382.9,1794.6 L1390.1,1794.4 L1397.3,1794.2 L1404.6,1794.1 L1411.8,1793.9 L1419.0,1793.7 L1426.3,1793.6 L1433.5,1793.4 L1440.7,1793.2 L1448.0,1793.1 L1455.2,1792.9 L1462.4,1792.7 L1469.7,1792.6 L1476.9,1792.4 L1484.1,1792.2 L1491.4,1792.0 L1498.6,1791.9 L1505.8,1791.7 L1513.1,1791.5 L1520.3,1791.4 L1527.5,1791.2 L1534.8,1791.0 L1542.0,1790.9 L1549.2,1790.7 L1556.5,1790.5 L1563.7,1790.4 L1570.9,1790.2 L1578.2,1790.0 L1585.4,1789.9 L1592.6,1789.7 L1599.9,1789.5 L1607.1,1789.4 L1614.3,1789.2 L1621.6,1789.0 L1628.8,1788.9 L1636.0,1788.7 L1643.3,1788.5 L1650.5,1788.4 L1657.7,1788.2 L1665.0,1788.0 L1672.2,1787.9 L1679.4,1787.7 L1686.7,1787.5 L1693.9,1787.4 L1701.1,1787.2 L1708.4,1787.0 L1715.6,1786.9 L1722.8,1786.7 L1730.1,1786.5 L1737.3,1786.4 L1744.5,1786.2 L1751.8,1786.1 L1759.0,1785.9 L1766.2,1785.7 L1773.5,1785.6 L1780.7,1785.4 L1787.9,1785.2 L1795.2,1785.1 L1802.4,1784.9 L1809.6,1784.7 L1816.9,1784.6 L1824.1,1784.4 L1831.3,1784.2 L1838.6,1784.1 L1845.8,1783.9 L1853.0,1783.7"/>
<path d="M1925.4,1782.1 L1932.6,1781.9 L1939.8,1781.8 L1947.1,1781.6 L1954.3,1781.5 L1961.5,1781.3 L1968.8,1781.1 L1976.0,1781.0 L1983.2,1780.8 L1990.5,1780.6 L1997.7,1780.5 L2004.9,1780.3 L2012.2,1780.2 L2019.4,1780.0 L2026.6,1779.8"/>
<path d="M1165.9,1821.9 L1173.1,1821.8 L1180.3,1821.6 L1187.6,1821.4 L1194.8,1821.3 L1202.0,1821.1 L1209.3,1820.9 L1216.5,1820.8 L1223.7,1820.6 L1231.0,1820.4 L1238.2,1820.3 L1245.4,1820.1 L1252.7,1819.9 L1259.9,1819.8 L1267.1,1819.6 L1274.4,1819.4 L1281.6,1819.3 L1288.8,1819.1 L1296.1,1818.9 L1303.3,1818.8 L1310.5,1818.6 L1317.8,1818.4 L1325.0,1818.3 L1332.2,1818.1 L1339.5,1817.9 L1346.7,1817.8 L1353.9,1817.6 L1361.2,1817.4 L1368.4,1817.3 L1375.6,1817.1 L1382.9,1816.9 L1390.1,1816.8 L1397.3,1816.6 L1404.6,1816.4 L1411.8,1816.3 L1419.0,1816.1 L1426.3,1816.0 L1433.5,1815.8 L1440.7,1815.6 L1448.0,1815.5 L1455.2,1815.3 L1462.4,1815.1 L1469.7,1815.0 L1476.9,1814.8 L1484.1,1814.6 L1491.4,1814.5 L1498.6,1814.3 L1505.8,1814.2 L1513.1,1814.0 L1520.3,1813.8 L1527.5,1813.7 L1534.8,1813.5 L1542.0,1813.3 L1549.2,1813.2 L1556.5,1813.0 L1563.7,1812.9 L1570.9,1812.7 L1578.2,1812.5 L1585.4,1812.4 L1592.6,1812.2 L1599.9,1812.0 L1607.1,1811.9 L1614.3,1811.7 L1621.6,1811.6 L1628.8,1811.4 L1636.0,1811.2 L1643.3,1811.1 L1650.5,1810.9 L1657.7,1810.7 L1665.0,1810.6 L1672.2,1810.4 L1679.4,1810.3 L1686.7,1810.1 L1693.9,1809.9 L1701.1,1809.8 L1708.4,1809.6 L1715.6,1809.5 L1722.8,1809.3 L1730.1,1809.1 L1737.3,1809.0 L1744.5,1808.8 L1751.8,1808.6 L1759.0,1808.5 L1766.2,1808.3 L1773.5,1808.2 L1780.7,1808.0 L1787.9,1807.8 L1795.2,1807.7 L1802.4,1807.5 L1809.6,1807.4 L1816.9,1807.2 L1824.1,1807.0 L1831.3,1806.9 L1838.6,1806.7 L1845.8,1806.6 L1853.0,1806.4 L1860.3,1806.2 L1867.5,1806.1 L1874.7,1805.9 L1882.0,1805.8 L1889.2,1805.6 L1896.4,1805.4 L1903.7,1805.3 L1910.9,1805.1 L1918.1,1805.0 L1925.4,1804.8 L1932.6,1804.7 L1939.8,1804.5 L1947.1,1804.3 L1954.3,1804.2 L1961.5,1804.0 L1968.8,1803.9"/>
<path d="M1165.9,1841.7 L1173.1,1841.6 L1180.3,1841.4 L1187.6,1841.3 L1194.8,1841.1 L1202.0,1840.9 L1209.3,1840.8 L1216.5,1840.6 L1223.7,1840.4 L1231.0,1840.3 L1238.2,1840.1 L1245.4,1840.0 L1252.7,1839.8 L1259.9,1839.6 L1267.1,1839.5 L1274.4,1839.3 L1281.6,1839.1 L1288.8,1839.0 L1296.1,1838.8 L1303.3,1838.7 L1310.5,1838.5 L1317.8,1838.3 L1325.0,1838.2 L1332.2,1838.0 L1339.5,1837.8 L1346.7,1837.7 L1353.9,1837.5 L1361.2,1837.4 L1368.4,1837.2 L1375.6,1837.0 L1382.9,1836.9 L1390.1,1836.7 L1397.3,1836.6 L1404.6,1836.4 L1411.8,1836.2 L1419.0,1836.1 L1426.3,1835.9 L1433.5,1835.8 L1440.7,1835.6 L1448.0,1835.4 L1455.2,1835.3 L1462.4,1835.1 L1469.7,1835.0 L1476.9,1834.8 L1484.1,1834.6 L1491.4,1834.5 L1498.6,1834.3 L1505.8,1834.2 L1513.1,1834.0 L1520.3,1833.8 L1527.5,1833.7 L1534.8,1833.5 L1542.0,1833.4 L1549.2,1833.2 L1556.5,1833.0 L1563.7,1832.9 L1570.9,1832.7 L1578.2,1832.6 L1585.4,1832.4 L1592.6,1832.3 L1599.9,1832.1 L1607.1,1831.9 L1614.3,1831.8 L1621.6,1831.6 L1628.8,1831.5 L1636.0,1831.3 L1643.3,1831.1 L1650.5,1831.0 L1657.7,1830.8 L1665.0,1830.7 L1672.2,1830.5 L1679.4,1830.4 L1686.7,1830.2 L1693.9,1830.0 L1701.1,1829.9 L1708.4,1829.7 L1715.6,1829.6 L1722.8,1829.4 L1730.1,1829.3 L1737.3,1829.1 L1744.5,1828.9 L1751.8,1828.8 L1759.0,1828.6 L1766.2,1828.5 L1773.5,1828.3 L1780.7,1828.2 L1787.9,1828.0 L1795.2,1827.8 L1802.4,1827.7 L1809.6,1827.5 L1816.9,1827.4 L1824.1,1827.2 L1831.3,1827.1 L1838.6,1826.9 L1845.8,1826.7 L1853.0,1826.6 L1860.3,1826.4 L1867.5,1826.3 L1874.7,1826.1 L1882.0,1826.0 L1889.2,1825.8 L1896.4,1825.7 L1903.7,1825.5"/>
<path d="M1968.8,1824.1 L1976.0,1824.0 L1983.2,1823.8 L1990.5,1823.6 L1997.7,1823.5 L2004.9,1823.3 L2012.2,1823.2 L2019.4,1823.0 L2026.6,1822.9"/>
<path d="M1165.9,1859.6 L1173.1,1859.5 L1180.3,1859.3 L1187.6,1859.2 L1194.8,1859.0 L1202.0,1858.8 L1209.3,1858.7 L1216.5,1858.5 L1223.7,1858.4 L1231.0,1858.2 L1238.2,1858.0 L1245.4,1857.9 L1252.7,1857.7 L1259.9,1857.6 L1267.1,1857.4 L1274.4,1857.2 L1281.6,1857.1 L1288.8,1856.9 L1296.1,1856.8 L1303.3,1856.6 L1310.5,1856.5 L1317.8,1856.3 L1325.0,1856.1 L1332.2,1856.0 L1339.5,1855.8 L1346.7,1855.7 L1353.9,1855.5 L1361.2,1855.3 L1368.4,1855.2 L1375.6,1855.0 L1382.9,1854.9 L1390.1,1854.7 L1397.3,1854.6 L1404.6,1854.4 L1411.8,1854.2 L1419.0,1854.1 L1426.3,1853.9 L1433.5,1853.8 L1440.7,1853.6 L1448.0,1853.5 L1455.2,1853.3 L1462.4,1853.1 L1469.7,1853.0 L1476.9,1852.8 L1484.1,1852.7 L1491.4,1852.5 L1498.6,1852.4 L1505.8,1852.2 L1513.1,1852.1 L1520.3,1851.9 L1527.5,1851.7 L1534.8,1851.6 L1542.0,1851.4 L1549.2,1851.3 L1556.5,1851.1 L1563.7,1851.0 L1570.9,1850.8 L1578.2,1850.7 L1585.4,1850.5 L1592.6,1850.3 L1599.9,1850.2 L1607.1,1850.0 L1614.3,1849.9 L1621.6,1849.7 L1628.8,1849.6 L1636.0,1849.4 L1643.3,1849.3 L1650.5,1849.1 L1657.7,1848.9 L1665.0,1848.8 L1672.2,1848.6 L1679.4,1848.5 L1686.7,1848.3 L1693.9,1848.2 L1701.1,1848.0 L1708.4,1847.9 L1715.6,1847.7 L1722.8,1847.6 L1730.1,1847.4 L1737.3,1847.3 L1744.5,1847.1 L1751.8,1846.9 L1759.0,1846.8 L1766.2,1846.6 L1773.5,1846.5 L1780.7,1846.3 L1787.9,1846.2 L1795.2,1846.0 L1802.4,1845.9 L1809.6,1845.7"/>
<path d="M1882.0,1844.2 L1889.2,1844.0 L1896.4,1843.9 L1903.7,1843.7 L1910.9,1843.6 L1918.1,1843.4 L1925.4,1843.3 L1932.6,1843.1 L1939.8,1843.0 L1947.1,1842.8 L1954.3,1842.7 L1961.5,1842.5 L1968.8,1842.4 L1976.0,1842.2 L1983.2,1842.1 L1990.5,1841.9 L1997.7,1841.8 L2004.9,1841.6 L2012.2,1841.5 L2019.4,1841.3 L2026.6,1841.2"/>
<path d="M1165.9,1875.9 L1173.1,1875.8 L1180.3,1875.6 L1187.6,1875.5 L1194.8,1875.3 L1202.0,1875.2 L1209.3,1875.0 L1216.5,1874.9 L1223.7,1874.7 L1231.0,1874.5 L1238.2,1874.4 L1245.4,1874.2 L1252.7,1874.1 L1259.9,1873.9 L1267.1,1873.8 L1274.4,1873.6 L1281.6,1873.4 L1288.8,1873.3 L1296.1,1873.1 L1303.3,1873.0 L1310.5,1872.8 L1317.8,1872.7 L1325.0,1872.5 L1332.2,1872.4 L1339.5,1872.2 L1346.7,1872.1 L1353.9,1871.9 L1361.2,1871.7 L1368.4,1871.6 L1375.6,1871.4 L1382.9,1871.3 L1390.1,1871.1 L1397.3,1871.0 L1404.6,1870.8 L1411.8,1870.7 L1419.0,1870.5 L1426.3,1870.4 L1433.5,1870.2 L1440.7,1870.0 L1448.0,1869.9 L1455.2,1869.7 L1462.4,1869.6 L1469.7,1869.4 L1476.9,1869.3 L1484.1,1869.1 L1491.4,1869.0 L1498.6,1868.8 L1505.8,1868.7 L1513.1,1868.5 L1520.3,1868.4 L1527.5,1868.2 L1534.8,1868.1 L1542.0,1867.9 L1549.2,1867.7 L1556.5,1867.6 L1563.7,1867.4 L1570.9,1867.3 L1578.2,1867.1 L1585.4,1867.0 L1592.6,1866.8 L1599.9,1866.7 L1607.1,1866.5 L1614.3,1866.4 L1621.6,1866.2 L1628.8,1866.1 L1636.0,1865.9 L1643.3,1865.8 L1650.5,1865.6 L1657.7,1865.5 L1665.0,1865.3 L1672.2,1865.2 L1679.4,1865.0 L1686.7,1864.9 L1693.9,1864.7 L1701.1,1864.6 L1708.4,1864.4"/>
<path d="M1780.7,1862.9 L1787.9,1862.7 L1795.2,1862.6 L1802.4,1862.4 L1809.6,1862.3 L1816.9,1862.1 L1824.1,1862.0 L1831.3,1861.8 L1838.6,1861.7 L1845.8,1861.5 L1853.0,1861.4 L1860.3,1861.2 L1867.5,1861.1 L1874.7,1860.9 L1882.0,1860.8 L1889.2,1860.6 L1896.4,1860.5 L1903.7,1860.3 L1910.9,1860.2 L1918.1,1860.0 L1925.4,1859.9 L1932.6,1859.7 L1939.8,1859.6 L1947.1,1859.4 L1954.3,1859.3 L1961.5,1859.2 L1968.8,1859.0 L1976.0,1858.9 L1983.2,1858.7 L1990.5,1858.6 L1997.7,1858.4 L2004.9,1858.3 L2012.2,1858.1 L2019.4,1858.0 L2026.6,1857.8"/>
<path d="M1462.5,1884.7 L1469.7,1884.5 L1476.9,1884.4 L1484.1,1884.2 L1491.4,1884.1 L1498.6,1883.9 L1505.8,1883.8 L1513.1,1883.6 L1520.3,1883.5 L1527.5,1883.3 L1534.8,1883.2 L1542.0,1883.0 L1549.2,1882.9 L1556.5,1882.7 L1563.7,1882.6 L1570.9,1882.4 L1578.2,1882.3 L1585.4,1882.1 L1592.6,1882.0 L1599.9,1881.8 L1607.1,1881.7 L1614.3,1881.5 L1621.6,1881.4 L1628.8,1881.2 L1636.0,1881.1 L1643.3,1880.9 L1650.5,1880.8 L1657.7,1880.6 L1665.0,1880.5 L1672.2,1880.3 L1679.4,1880.2 L1686.7,1880.0 L1693.9,1879.9 L1701.1,1879.7 L1708.4,1879.6 L1715.6,1879.4 L1722.8,1879.3 L1730.1,1879.1 L1737.3,1879.0 L1744.5,1878.9 L1751.8,1878.7 L1759.0,1878.6 L1766.2,1878.4 L1773.5,1878.3 L1780.7,1878.1 L1787.9,1878.0 L1795.2,1877.8 L1802.4,1877.7 L1809.6,1877.5 L1816.9,1877.4 L1824.1,1877.2 L1831.3,1877.1 L1838.6,1876.9 L1845.8,1876.8 L1853.0,1876.6 L1860.3,1876.5 L1867.5,1876.3 L1874.7,1876.2 L1882.0,1876.0 L1889.2,1875.9 L1896.4,1875.8 L1903.7,1875.6 L1910.9,1875.5 L1918.1,1875.3 L1925.4,1875.2 L1932.6,1875.0 L1939.8,1874.9 L1947.1,1874.7 L1954.3,1874.6 L1961.5,1874.4 L1968.8,1874.3 L1976.0,1874.1 L1983.2,1874.0 L1990.5,1873.8"/>
</g>
<g fill="none" stroke="#E7298A" stroke-width="3.7" stroke-linecap="round" stroke-linejoin="round">
<path d="M1092.8,1303.7 L1093.5,1305.7 L1094.2,1307.6 L1094.9,1309.5 L1095.6,1311.5 L1096.3,1313.4 L1097.0,1315.4 L1097.7,1317.3 L1098.4,1319.3 L1099.1,1321.2 L1099.9,1323.1 L1100.6,1325.1 L1101.3,1327.0 L1102.0,1329.0 L1102.8,1330.9 L1103.5,1332.9 L1104.2,1334.8 L1105.0,1336.7 L1105.7,1338.7 L1106.4,1340.6 L1107.2,1342.6 L1107.9,1344.5 L1108.7,1346.5 L1109.4,1348.4 L1110.2,1350.3 L1110.9,1352.3 L1111.7,1354.2 L1112.4,1356.2 L1113.2,1358.1 L1113.9,1360.1 L1114.7,1362.0 L1115.5,1364.0 L1116.2,1365.9 L1117.0,1367.8 L1117.8,1369.8 L1118.5,1371.7 L1119.3,1373.7 L1120.1,1375.6 L1120.9,1377.6 L1121.6,1379.5 L1122.4,1381.4 L1123.2,1383.4 L1124.0,1385.3 L1124.8,1387.3 L1125.6,1389.2 L1126.4,1391.2 L1127.1,1393.1 L1127.9,1395.0 L1128.7,1397.0 L1129.5,1398.9 L1130.3,1400.9 L1131.1,1402.8 L1132.0,1404.8 L1132.8,1406.7 L1133.6,1408.6 L1134.4,1410.6 L1135.2,1412.5 L1136.0,1414.5 L1136.8,1416.4 L1137.7,1418.4 L1138.5,1420.3 L1139.3,1422.2 L1140.1,1424.2 L1140.9,1426.1 L1141.8,1428.1 L1142.6,1430.0 L1143.4,1432.0 L1144.3,1433.9 L1145.1,1435.8 L1146.0,1437.8 L1146.8,1439.7 L1147.6,1441.7 L1148.5,1443.6 L1149.3,1445.6 L1150.2,1447.5 L1151.0,1449.4 L1151.9,1451.4 L1152.8,1453.3 L1153.6,1455.3 L1154.5,1457.2 L1155.3,1459.2 L1156.2,1461.1 L1157.1,1463.0 L1157.9,1465.0 L1158.8,1466.9 L1159.7,1468.9 L1160.6,1470.8 L1161.4,1472.8 L1162.3,1474.7 L1163.2,1476.6 L1164.1,1478.6 L1165.0,1480.5 L1165.9,1482.5 L1166.7,1484.4 L1167.6,1486.4 L1168.5,1488.3 L1169.4,1490.2 L1170.3,1492.2 L1171.2,1494.1 L1172.1,1496.1 L1173.0,1498.0 L1173.9,1500.0 L1174.9,1501.9 L1175.8,1503.9 L1176.7,1505.8 L1177.6,1507.7 L1178.5,1509.7 L1179.4,1511.6 L1180.4,1513.6 L1181.3,1515.5 L1182.2,1517.5 L1183.2,1519.4 L1184.1,1521.3 L1185.0,1523.3 L1186.0,1525.2 L1186.9,1527.2 L1187.9,1529.1 L1188.8,1531.1 L1189.8,1533.0 L1190.7,1534.9 L1191.7,1536.9 L1192.6,1538.8 L1193.6,1540.8 L1194.6,1542.7 L1195.5,1544.7 L1196.5,1546.6 L1197.5,1548.5 L1198.4,1550.5 L1199.4,1552.4 L1200.4,1554.4 L1201.4,1556.3 L1202.4,1558.3 L1203.3,1560.2 L1204.3,1562.1 L1205.3,1564.1 L1206.3,1566.0 L1207.3,1568.0 L1208.3,1569.9 L1209.3,1571.9 L1210.4,1573.8 L1211.4,1575.7 L1212.4,1577.7 L1213.4,1579.6 L1214.4,1581.6 L1215.5,1583.5 L1216.5,1585.5 L1217.5,1587.4 L1218.5,1589.3 L1219.6,1591.3 L1220.6,1593.2 L1221.7,1595.2 L1222.7,1597.1 L1223.8,1599.1 L1224.8,1601.0 L1225.9,1602.9 L1227.0,1604.9 L1228.0,1606.8 L1229.1,1608.8 L1230.2,1610.7 L1231.3,1612.7 L1232.3,1614.6 L1233.4,1616.5 L1234.5,1618.5 L1235.6,1620.4 L1236.7,1622.4 L1237.8,1624.3 L1238.9,1626.3 L1240.0,1628.2 L1241.1,1630.1 L1242.3,1632.1 L1243.4,1634.0 L1244.5,1636.0 L1245.7,1637.9 L1246.8,1639.9 L1247.9,1641.8 L1249.1,1643.8 L1250.2,1645.7 L1251.4,1647.6 L1252.5,1649.6 L1253.7,1651.5 L1254.9,1653.5 L1256.1,1655.4 L1257.2,1657.4 L1258.4,1659.3 L1259.6,1661.2 L1260.8,1663.2 L1262.0,1665.1 L1263.2,1667.1 L1264.4,1669.0 L1265.6,1671.0 L1266.9,1672.9 L1268.1,1674.8 L1269.3,1676.8 L1270.6,1678.7 L1271.8,1680.7 L1273.1,1682.6 L1274.3,1684.6 L1275.6,1686.5 L1276.8,1688.4 L1278.1,1690.4 L1279.4,1692.3 L1280.7,1694.3 L1282.0,1696.2 L1283.3,1698.2 L1284.6,1700.1 L1285.9,1702.0 L1287.2,1704.0 L1288.5,1705.9 L1289.9,1707.9 L1291.2,1709.8 L1292.6,1711.8 L1293.9,1713.7 L1295.3,1715.6 L1296.6,1717.6 L1298.0,1719.5 L1299.4,1721.5 L1300.8,1723.4 L1302.2,1725.4 L1303.6,1727.3 L1305.0,1729.2 L1306.4,1731.2 L1307.9,1733.1 L1309.3,1735.1 L1310.8,1737.0 L1312.2,1739.0 L1313.7,1740.9 L1315.1,1742.8 L1316.6,1744.8 L1318.1,1746.7 L1319.6,1748.7 L1321.1,1750.6 L1322.6,1752.6 L1324.2,1754.5 L1325.7,1756.4 L1327.2,1758.4 L1328.8,1760.3 L1330.4,1762.3 L1331.9,1764.2 L1333.5,1766.2 L1335.1,1768.1 L1336.7,1770.0 L1338.4,1772.0 L1340.0,1773.9 L1341.6,1775.9 L1343.3,1777.8 L1344.9,1779.8 L1346.6,1781.7 L1348.3,1783.7 L1350.0,1785.6 L1351.7,1787.5 L1353.4,1789.5 L1355.1,1791.4 L1356.9,1793.4 L1358.7,1795.3 L1360.4,1797.3 L1362.2,1799.2 L1364.0,1801.1 L1365.8,1803.1 L1367.6,1805.0 L1369.5,1807.0 L1371.3,1808.9 L1373.2,1810.9 L1375.1,1812.8 L1377.0,1814.7 L1378.9,1816.7 L1380.8,1818.6 L1382.8,1820.6 L1384.7,1822.5 L1386.7,1824.5 L1388.7,1826.4 L1390.7,1828.3 L1392.7,1830.3 L1394.8,1832.2 L1396.8,1834.2 L1398.9,1836.1 L1401.0,1838.1 L1403.1,1840.0 L1405.2,1841.9 L1407.4,1843.9 L1409.5,1845.8 L1411.7,1847.8 L1413.9,1849.7 L1416.2,1851.7 L1418.4,1853.6"/>
<path d="M1456.7,1883.5 L1457.5,1884.7"/>
<path d="M1222.8,1109.4 L1223.4,1111.4 L1224.0,1113.3 L1224.5,1115.2 L1225.1,1117.2 L1225.7,1119.1 L1226.3,1121.1 L1226.9,1123.0 L1227.5,1125.0 L1228.0,1126.9 L1228.6,1128.8 L1229.2,1130.8 L1229.8,1132.7 L1230.4,1134.7 L1231.0,1136.6 L1231.7,1138.6 L1232.3,1140.5 L1232.9,1142.4 L1233.5,1144.4 L1234.1,1146.3 L1234.8,1148.3 L1235.4,1150.2 L1236.0,1152.2 L1236.7,1154.1 L1237.3,1156.0 L1237.9,1158.0 L1238.6,1159.9 L1239.2,1161.9 L1239.9,1163.8 L1240.6,1165.8 L1241.2,1167.7 L1241.9,1169.6 L1242.5,1171.6 L1243.2,1173.5 L1243.9,1175.5 L1244.5,1177.4 L1245.2,1179.4 L1245.9,1181.3 L1246.6,1183.2 L1247.3,1185.2 L1248.0,1187.1 L1248.6,1189.1 L1249.3,1191.0 L1250.0,1193.0 L1250.7,1194.9 L1251.4,1196.8 L1252.1,1198.8 L1252.8,1200.7 L1253.6,1202.7 L1254.3,1204.6 L1255.0,1206.6 L1255.7,1208.5 L1256.4,1210.4 L1257.2,1212.4 L1257.9,1214.3 L1258.6,1216.3 L1259.3,1218.2 L1260.1,1220.2 L1260.8,1222.1 L1261.6,1224.1 L1262.3,1226.0 L1263.0,1227.9 L1263.8,1229.9 L1264.5,1231.8 L1265.3,1233.8 L1266.0,1235.7 L1266.8,1237.7 L1267.6,1239.6 L1268.3,1241.5 L1269.1,1243.5 L1269.9,1245.4 L1270.6,1247.4 L1271.4,1249.3 L1272.2,1251.3 L1273.0,1253.2 L1273.7,1255.1 L1274.5,1257.1 L1275.3,1259.0 L1276.1,1261.0 L1276.9,1262.9 L1277.7,1264.9 L1278.5,1266.8 L1279.3,1268.7 L1280.1,1270.7 L1280.9,1272.6 L1281.7,1274.6 L1282.5,1276.5 L1283.3,1278.5 L1284.1,1280.4 L1284.9,1282.3 L1285.7,1284.3 L1286.5,1286.2 L1287.4,1288.2 L1288.2,1290.1 L1289.0,1292.1 L1289.8,1294.0 L1290.7,1295.9 L1291.5,1297.9 L1292.3,1299.8 L1293.2,1301.8 L1294.0,1303.7 L1294.9,1305.7 L1295.7,1307.6 L1296.5,1309.5 L1297.4,1311.5 L1298.2,1313.4 L1299.1,1315.4 L1300.0,1317.3 L1300.8,1319.3 L1301.7,1321.2 L1302.5,1323.1 L1303.4,1325.1 L1304.3,1327.0 L1305.1,1329.0 L1306.0,1330.9 L1306.9,1332.9 L1307.8,1334.8 L1308.6,1336.7 L1309.5,1338.7 L1310.4,1340.6 L1311.3,1342.6 L1312.2,1344.5 L1313.1,1346.5 L1313.9,1348.4 L1314.8,1350.3 L1315.7,1352.3 L1316.6,1354.2 L1317.5,1356.2 L1318.4,1358.1 L1319.3,1360.1 L1320.2,1362.0 L1321.1,1364.0 L1322.1,1365.9 L1323.0,1367.8 L1323.9,1369.8 L1324.8,1371.7 L1325.7,1373.7 L1326.7,1375.6 L1327.6,1377.6 L1328.5,1379.5 L1329.4,1381.4 L1330.4,1383.4 L1331.3,1385.3 L1332.2,1387.3 L1333.2,1389.2 L1334.1,1391.2 L1335.1,1393.1 L1336.0,1395.0 L1337.0,1397.0 L1337.9,1398.9 L1338.9,1400.9 L1339.8,1402.8 L1340.8,1404.8 L1341.7,1406.7 L1342.7,1408.6 L1343.7,1410.6 L1344.6,1412.5 L1345.6,1414.5 L1346.6,1416.4 L1347.5,1418.4 L1348.5,1420.3 L1349.5,1422.2 L1350.5,1424.2 L1351.5,1426.1 L1352.5,1428.1 L1353.4,1430.0 L1354.4,1432.0 L1355.4,1433.9 L1356.4,1435.8 L1357.4,1437.8 L1358.4,1439.7 L1359.4,1441.7 L1360.4,1443.6 L1361.5,1445.6 L1362.5,1447.5 L1363.5,1449.4 L1364.5,1451.4 L1365.5,1453.3 L1366.5,1455.3 L1367.6,1457.2 L1368.6,1459.2 L1369.6,1461.1 L1370.7,1463.0 L1371.7,1465.0 L1372.8,1466.9 L1373.8,1468.9 L1374.8,1470.8 L1375.9,1472.8 L1377.0,1474.7 L1378.0,1476.6 L1379.1,1478.6 L1380.1,1480.5 L1381.2,1482.5 L1382.3,1484.4 L1383.3,1486.4 L1384.4,1488.3 L1385.5,1490.2 L1386.6,1492.2 L1387.7,1494.1 L1388.7,1496.1 L1389.8,1498.0 L1390.9,1500.0 L1392.0,1501.9 L1393.1,1503.9 L1394.2,1505.8 L1395.3,1507.7 L1396.4,1509.7 L1397.6,1511.6 L1398.7,1513.6 L1399.8,1515.5 L1400.9,1517.5 L1402.1,1519.4 L1403.2,1521.3 L1404.3,1523.3 L1405.5,1525.2 L1406.6,1527.2 L1407.8,1529.1 L1408.9,1531.1 L1410.1,1533.0 L1411.2,1534.9 L1412.4,1536.9 L1413.6,1538.8 L1414.7,1540.8 L1415.9,1542.7 L1417.1,1544.7 L1418.3,1546.6 L1419.5,1548.5 L1420.7,1550.5 L1421.9,1552.4 L1423.1,1554.4 L1424.3,1556.3 L1425.5,1558.3 L1426.7,1560.2 L1427.9,1562.1 L1429.1,1564.1 L1430.4,1566.0 L1431.6,1568.0 L1432.8,1569.9 L1434.1,1571.9 L1435.3,1573.8 L1436.6,1575.7 L1437.8,1577.7 L1439.1,1579.6 L1440.4,1581.6 L1441.6,1583.5 L1442.9,1585.5 L1444.2,1587.4 L1445.5,1589.3 L1446.8,1591.3 L1448.1,1593.2 L1449.4,1595.2 L1450.7,1597.1 L1452.0,1599.1 L1453.3,1601.0 L1454.6,1602.9 L1456.0,1604.9 L1457.3,1606.8 L1458.7,1608.8 L1460.0,1610.7 L1461.4,1612.7 L1462.7,1614.6 L1464.1,1616.5 L1465.5,1618.5 L1466.9,1620.4 L1468.2,1622.4 L1469.6,1624.3 L1471.0,1626.3 L1472.4,1628.2 L1473.9,1630.1 L1475.3,1632.1 L1476.7,1634.0 L1478.1,1636.0 L1479.6,1637.9 L1481.0,1639.9 L1482.5,1641.8 L1484.0,1643.8 L1485.4,1645.7 L1486.9,1647.6 L1488.4,1649.6 L1489.9,1651.5 L1491.4,1653.5 L1492.9,1655.4 L1494.4,1657.4 L1495.9,1659.3 L1497.5,1661.2 L1499.0,1663.2 L1500.6,1665.1 L1502.1,1667.1 L1503.7,1669.0 L1505.3,1671.0 L1506.8,1672.9 L1508.4,1674.8 L1510.0,1676.8 L1511.6,1678.7 L1513.3,1680.7 L1514.9,1682.6 L1516.5,1684.6 L1518.2,1686.5 L1519.8,1688.4 L1521.5,1690.4 L1523.2,1692.3 L1524.9,1694.3 L1526.6,1696.2 L1528.3,1698.2 L1530.0,1700.1 L1531.7,1702.0 L1533.5,1704.0 L1535.2,1705.9 L1537.0,1707.9 L1538.7,1709.8 L1540.5,1711.8 L1542.3,1713.7 L1544.1,1715.6 L1546.0,1717.6 L1547.8,1719.5 L1549.6,1721.5 L1551.5,1723.4 L1553.3,1725.4 L1555.2,1727.3 L1557.1,1729.2 L1559.0,1731.2 L1560.9,1733.1 L1562.9,1735.1 L1564.8,1737.0 L1566.8,1739.0 L1568.7,1740.9 L1570.7,1742.8 L1572.7,1744.8 L1574.7,1746.7 L1576.8,1748.7 L1578.8,1750.6 L1580.9,1752.6 L1583.0,1754.5 L1585.0,1756.4 L1587.1,1758.4 L1589.3,1760.3 L1591.4,1762.3 L1593.6,1764.2 L1595.7,1766.2 L1597.9,1768.1 L1600.1,1770.0 L1602.3,1772.0 L1604.6,1773.9 L1606.8,1775.9 L1609.1,1777.8 L1611.4,1779.8 L1613.7,1781.7 L1616.0,1783.7 L1618.4,1785.6 L1620.7,1787.5 L1623.1,1789.5 L1625.5,1791.4 L1628.0,1793.4 L1630.4,1795.3 L1632.9,1797.3 L1635.4,1799.2 L1637.9,1801.1 L1640.4,1803.1 L1643.0,1805.0 L1645.5,1807.0 L1648.1,1808.9 L1650.8,1810.9 L1653.4,1812.8 L1656.1,1814.7 L1658.8,1816.7 L1661.5,1818.6 L1664.2,1820.6 L1667.0,1822.5 L1669.8,1824.5 L1672.6,1826.4 L1675.5,1828.3 L1678.3,1830.3 L1681.2,1832.2 L1684.2,1834.2 L1687.1,1836.1 L1690.1,1838.1 L1693.1,1840.0 L1696.2,1841.9 L1699.3,1843.9 L1702.4,1845.8 L1705.5,1847.8 L1708.7,1849.7 L1711.9,1851.7 L1715.1,1853.6 L1718.4,1855.5 L1721.7,1857.5 L1725.0,1859.4 L1728.4,1861.4"/>
<path d="M1772.7,1883.5 L1771.9,1884.7"/>
<path d="M1413.1,1109.4 L1413.8,1111.4 L1414.5,1113.3 L1415.3,1115.2 L1416.0,1117.2 L1416.7,1119.1 L1417.5,1121.1 L1418.2,1123.0 L1418.9,1125.0 L1419.7,1126.9 L1420.4,1128.8 L1421.2,1130.8 L1421.9,1132.7 L1422.7,1134.7 L1423.4,1136.6 L1424.2,1138.6 L1425.0,1140.5 L1425.7,1142.4 L1426.5,1144.4 L1427.3,1146.3 L1428.0,1148.3 L1428.8,1150.2 L1429.6,1152.2 L1430.4,1154.1 L1431.2,1156.0 L1431.9,1158.0 L1432.7,1159.9 L1433.5,1161.9 L1434.3,1163.8 L1435.1,1165.8 L1435.9,1167.7 L1436.7,1169.6 L1437.5,1171.6 L1438.3,1173.5 L1439.2,1175.5 L1440.0,1177.4 L1440.8,1179.4 L1441.6,1181.3 L1442.4,1183.2 L1443.3,1185.2 L1444.1,1187.1 L1444.9,1189.1 L1445.7,1191.0 L1446.6,1193.0 L1447.4,1194.9 L1448.3,1196.8 L1449.1,1198.8 L1449.9,1200.7 L1450.8,1202.7 L1451.6,1204.6 L1452.5,1206.6 L1453.3,1208.5 L1454.2,1210.4 L1455.1,1212.4 L1455.9,1214.3 L1456.8,1216.3 L1457.6,1218.2 L1458.5,1220.2 L1459.4,1222.1 L1460.3,1224.1 L1461.1,1226.0 L1462.0,1227.9 L1462.9,1229.9 L1463.8,1231.8 L1464.7,1233.8 L1465.5,1235.7 L1466.4,1237.7 L1467.3,1239.6 L1468.2,1241.5 L1469.1,1243.5 L1470.0,1245.4 L1470.9,1247.4 L1471.8,1249.3 L1472.7,1251.3 L1473.6,1253.2 L1474.5,1255.1 L1475.5,1257.1 L1476.4,1259.0 L1477.3,1261.0 L1478.2,1262.9 L1479.1,1264.9 L1480.1,1266.8 L1481.0,1268.7 L1481.9,1270.7 L1482.8,1272.6 L1483.8,1274.6 L1484.7,1276.5 L1485.6,1278.5 L1486.6,1280.4 L1487.5,1282.3 L1488.5,1284.3 L1489.4,1286.2 L1490.4,1288.2 L1491.3,1290.1 L1492.3,1292.1 L1493.2,1294.0 L1494.2,1295.9 L1495.1,1297.9 L1496.1,1299.8 L1497.1,1301.8 L1498.0,1303.7 L1499.0,1305.7 L1500.0,1307.6 L1501.0,1309.5 L1501.9,1311.5 L1502.9,1313.4 L1503.9,1315.4 L1504.9,1317.3 L1505.9,1319.3 L1506.9,1321.2 L1507.8,1323.1 L1508.8,1325.1 L1509.8,1327.0 L1510.8,1329.0 L1511.8,1330.9 L1512.8,1332.9 L1513.8,1334.8 L1514.8,1336.7 L1515.9,1338.7 L1516.9,1340.6 L1517.9,1342.6 L1518.9,1344.5 L1519.9,1346.5 L1520.9,1348.4 L1522.0,1350.3 L1523.0,1352.3 L1524.0,1354.2 L1525.0,1356.2 L1526.1,1358.1 L1527.1,1360.1 L1528.2,1362.0 L1529.2,1364.0 L1530.2,1365.9 L1531.3,1367.8 L1532.3,1369.8 L1533.4,1371.7 L1534.4,1373.7 L1535.5,1375.6 L1536.6,1377.6 L1537.6,1379.5 L1538.7,1381.4 L1539.8,1383.4 L1540.8,1385.3 L1541.9,1387.3 L1543.0,1389.2 L1544.1,1391.2 L1545.1,1393.1 L1546.2,1395.0 L1547.3,1397.0 L1548.4,1398.9 L1549.5,1400.9 L1550.6,1402.8 L1551.7,1404.8 L1552.8,1406.7 L1553.9,1408.6 L1555.0,1410.6 L1556.1,1412.5 L1557.2,1414.5 L1558.3,1416.4 L1559.5,1418.4 L1560.6,1420.3 L1561.7,1422.2 L1562.8,1424.2 L1564.0,1426.1 L1565.1,1428.1 L1566.2,1430.0 L1567.4,1432.0 L1568.5,1433.9 L1569.7,1435.8 L1570.8,1437.8 L1572.0,1439.7 L1573.1,1441.7 L1574.3,1443.6 L1575.5,1445.6 L1576.6,1447.5 L1577.8,1449.4 L1579.0,1451.4 L1580.2,1453.3 L1581.4,1455.3 L1582.5,1457.2 L1583.7,1459.2 L1584.9,1461.1 L1586.1,1463.0 L1587.3,1465.0 L1588.5,1466.9 L1589.7,1468.9 L1590.9,1470.8 L1592.2,1472.8 L1593.4,1474.7 L1594.6,1476.6 L1595.8,1478.6 L1597.1,1480.5 L1598.3,1482.5 L1599.5,1484.4 L1600.8,1486.4 L1602.0,1488.3 L1603.3,1490.2 L1604.5,1492.2 L1605.8,1494.1 L1607.1,1496.1 L1608.3,1498.0 L1609.6,1500.0 L1610.9,1501.9 L1612.2,1503.9 L1613.5,1505.8 L1614.8,1507.7 L1616.1,1509.7 L1617.4,1511.6 L1618.7,1513.6 L1620.0,1515.5 L1621.3,1517.5 L1622.6,1519.4 L1623.9,1521.3 L1625.3,1523.3 L1626.6,1525.2 L1628.0,1527.2 L1629.3,1529.1 L1630.7,1531.1 L1632.0,1533.0 L1633.4,1534.9 L1634.7,1536.9 L1636.1,1538.8 L1637.5,1540.8 L1638.9,1542.7 L1640.3,1544.7 L1641.7,1546.6 L1643.1,1548.5 L1644.5,1550.5 L1645.9,1552.4 L1647.3,1554.4 L1648.7,1556.3 L1650.2,1558.3 L1651.6,1560.2 L1653.0,1562.1 L1654.5,1564.1 L1656.0,1566.0 L1657.4,1568.0 L1658.9,1569.9 L1660.4,1571.9 L1661.8,1573.8 L1663.3,1575.7 L1664.8,1577.7 L1666.3,1579.6 L1667.8,1581.6 L1669.4,1583.5 L1670.9,1585.5 L1672.4,1587.4 L1674.0,1589.3 L1675.5,1591.3 L1677.1,1593.2 L1678.6,1595.2 L1680.2,1597.1 L1681.8,1599.1 L1683.4,1601.0 L1684.9,1602.9 L1686.5,1604.9 L1688.2,1606.8 L1689.8,1608.8 L1691.4,1610.7 L1693.0,1612.7 L1694.7,1614.6 L1696.3,1616.5 L1698.0,1618.5 L1699.6,1620.4 L1701.3,1622.4 L1703.0,1624.3 L1704.7,1626.3 L1706.4,1628.2 L1708.1,1630.1 L1709.8,1632.1 L1711.6,1634.0 L1713.3,1636.0 L1715.1,1637.9 L1716.8,1639.9 L1718.6,1641.8 L1720.4,1643.8 L1722.2,1645.7 L1724.0,1647.6 L1725.8,1649.6 L1727.6,1651.5 L1729.4,1653.5 L1731.3,1655.4 L1733.1,1657.4 L1735.0,1659.3 L1736.9,1661.2 L1738.7,1663.2 L1740.6,1665.1 L1742.6,1667.1 L1744.5,1669.0 L1746.4,1671.0 L1748.4,1672.9 L1750.3,1674.8 L1752.3,1676.8 L1754.3,1678.7 L1756.3,1680.7 L1758.3,1682.6 L1760.3,1684.6 L1762.3,1686.5 L1764.4,1688.4 L1766.4,1690.4 L1768.5,1692.3 L1770.6,1694.3 L1772.7,1696.2 L1774.8,1698.2 L1777.0,1700.1 L1779.1,1702.0 L1781.3,1704.0 L1783.5,1705.9 L1785.6,1707.9 L1787.9,1709.8 L1790.1,1711.8 L1792.3,1713.7 L1794.6,1715.6 L1796.8,1717.6 L1799.1,1719.5 L1801.4,1721.5 L1803.8,1723.4 L1806.1,1725.4 L1808.5,1727.3 L1810.8,1729.2 L1813.2,1731.2 L1815.6,1733.1 L1818.1,1735.1 L1820.5,1737.0 L1823.0,1739.0 L1825.5,1740.9 L1828.0,1742.8 L1830.5,1744.8 L1833.0,1746.7 L1835.6,1748.7 L1838.2,1750.6 L1840.8,1752.6 L1843.4,1754.5 L1846.1,1756.4 L1848.7,1758.4 L1851.4,1760.3 L1854.1,1762.3 L1856.9,1764.2 L1859.6,1766.2 L1862.4,1768.1 L1865.2,1770.0 L1868.0,1772.0 L1870.9,1773.9 L1873.8,1775.9 L1876.7,1777.8 L1879.6,1779.8 L1882.6,1781.7 L1885.6,1783.7 L1888.6,1785.6 L1891.6,1787.5 L1894.7,1789.5 L1897.8,1791.4 L1900.9,1793.4 L1904.0,1795.3 L1907.2,1797.3 L1910.4,1799.2 L1913.7,1801.1 L1917.0,1803.1 L1920.3,1805.0 L1923.6,1807.0 L1927.0,1808.9 L1930.4,1810.9 L1933.8,1812.8 L1937.3,1814.7 L1940.8,1816.7 L1944.3,1818.6 L1947.9,1820.6 L1951.5,1822.5 L1955.2,1824.5 L1958.9,1826.4 L1962.6,1828.3 L1966.4,1830.3 L1970.2,1832.2 L1974.0,1834.2 L1977.9,1836.1 L1981.9,1838.1 L1985.9,1840.0 L1989.9,1841.9 L1994.0,1843.9 L1998.1,1845.8 L2002.3,1847.8 L2006.5,1849.7 L2010.7,1851.7 L2015.1,1853.6 L2019.4,1855.5 L2023.9,1857.5 L2028.3,1859.4 L2032.9,1861.4 L2037.5,1863.3 L2042.1,1865.3 L2046.8,1867.2 L2051.6,1869.1 L2056.4,1871.1 L2061.3,1873.0 L2066.3,1875.0 L2071.3,1876.9 L2076.4,1878.9 L2081.6,1880.8 L2086.8,1882.7 L2092.2,1884.7"/>
<path d="M1605.7,1109.4 L1606.5,1111.4 L1607.3,1113.3 L1608.2,1115.2 L1609.0,1117.2 L1609.9,1119.1 L1610.7,1121.1 L1611.6,1123.0 L1612.4,1125.0 L1613.3,1126.9 L1614.1,1128.8 L1615.0,1130.8 L1615.9,1132.7 L1616.7,1134.7 L1617.6,1136.6 L1618.5,1138.6 L1619.3,1140.5 L1620.2,1142.4 L1621.1,1144.4 L1622.0,1146.3 L1622.8,1148.3 L1623.7,1150.2 L1624.6,1152.2 L1625.5,1154.1 L1626.4,1156.0 L1627.3,1158.0 L1628.2,1159.9 L1629.1,1161.9 L1630.0,1163.8 L1630.9,1165.8 L1631.8,1167.7 L1632.7,1169.6 L1633.6,1171.6 L1634.5,1173.5 L1635.5,1175.5 L1636.4,1177.4 L1637.3,1179.4 L1638.2,1181.3 L1639.1,1183.2 L1640.1,1185.2 L1641.0,1187.1 L1641.9,1189.1 L1642.9,1191.0 L1643.8,1193.0 L1644.7,1194.9 L1645.7,1196.8 L1646.6,1198.8 L1647.6,1200.7 L1648.5,1202.7 L1649.5,1204.6 L1650.4,1206.6 L1651.4,1208.5 L1652.3,1210.4 L1653.3,1212.4 L1654.2,1214.3 L1655.2,1216.3 L1656.2,1218.2 L1657.1,1220.2 L1658.1,1222.1 L1659.1,1224.1 L1660.0,1226.0 L1661.0,1227.9 L1662.0,1229.9 L1663.0,1231.8 L1664.0,1233.8 L1664.9,1235.7 L1665.9,1237.7 L1666.9,1239.6 L1667.9,1241.5 L1668.9,1243.5 L1669.9,1245.4 L1670.9,1247.4 L1671.9,1249.3 L1672.9,1251.3 L1673.9,1253.2 L1674.9,1255.1 L1675.9,1257.1 L1676.9,1259.0 L1677.9,1261.0 L1679.0,1262.9 L1680.0,1264.9 L1681.0,1266.8 L1682.0,1268.7 L1683.0,1270.7 L1684.1,1272.6 L1685.1,1274.6 L1686.1,1276.5 L1687.2,1278.5 L1688.2,1280.4 L1689.2,1282.3 L1690.3,1284.3 L1691.3,1286.2 L1692.4,1288.2 L1693.4,1290.1 L1694.5,1292.1 L1695.5,1294.0 L1696.6,1295.9 L1697.6,1297.9 L1698.7,1299.8 L1699.8,1301.8 L1700.8,1303.7 L1701.9,1305.7 L1703.0,1307.6 L1704.0,1309.5 L1705.1,1311.5 L1706.2,1313.4 L1707.3,1315.4 L1708.3,1317.3 L1709.4,1319.3 L1710.5,1321.2 L1711.6,1323.1 L1712.7,1325.1 L1713.8,1327.0 L1714.9,1329.0 L1716.0,1330.9 L1717.1,1332.9 L1718.2,1334.8 L1719.3,1336.7 L1720.4,1338.7 L1721.5,1340.6 L1722.7,1342.6 L1723.8,1344.5 L1724.9,1346.5 L1726.0,1348.4 L1727.2,1350.3 L1728.3,1352.3 L1729.4,1354.2 L1730.6,1356.2 L1731.7,1358.1 L1732.8,1360.1 L1734.0,1362.0 L1735.1,1364.0 L1736.3,1365.9 L1737.4,1367.8 L1738.6,1369.8 L1739.8,1371.7 L1740.9,1373.7 L1742.1,1375.6 L1743.3,1377.6 L1744.4,1379.5 L1745.6,1381.4 L1746.8,1383.4 L1748.0,1385.3 L1749.2,1387.3 L1750.4,1389.2 L1751.5,1391.2 L1752.7,1393.1 L1753.9,1395.0 L1755.1,1397.0 L1756.4,1398.9 L1757.6,1400.9 L1758.8,1402.8 L1760.0,1404.8 L1761.2,1406.7 L1762.4,1408.6 L1763.7,1410.6 L1764.9,1412.5 L1766.1,1414.5 L1767.4,1416.4 L1768.6,1418.4 L1769.9,1420.3 L1771.1,1422.2 L1772.4,1424.2 L1773.6,1426.1 L1774.9,1428.1 L1776.2,1430.0 L1777.4,1432.0 L1778.7,1433.9 L1780.0,1435.8 L1781.3,1437.8 L1782.6,1439.7 L1783.9,1441.7 L1785.2,1443.6 L1786.5,1445.6 L1787.8,1447.5 L1789.1,1449.4 L1790.4,1451.4 L1791.7,1453.3 L1793.0,1455.3 L1794.4,1457.2 L1795.7,1459.2 L1797.0,1461.1 L1798.4,1463.0 L1799.7,1465.0 L1801.1,1466.9 L1802.4,1468.9 L1803.8,1470.8 L1805.1,1472.8 L1806.5,1474.7 L1807.9,1476.6 L1809.3,1478.6 L1810.7,1480.5 L1812.1,1482.5 L1813.5,1484.4 L1814.9,1486.4 L1816.3,1488.3 L1817.7,1490.2 L1819.1,1492.2 L1820.5,1494.1 L1822.0,1496.1 L1823.4,1498.0 L1824.8,1500.0 L1826.3,1501.9 L1827.7,1503.9 L1829.2,1505.8 L1830.7,1507.7 L1832.1,1509.7 L1833.6,1511.6 L1835.1,1513.6 L1836.6,1515.5 L1838.1,1517.5 L1839.6,1519.4 L1841.1,1521.3 L1842.6,1523.3 L1844.1,1525.2 L1845.7,1527.2 L1847.2,1529.1 L1848.8,1531.1 L1850.3,1533.0 L1851.9,1534.9 L1853.4,1536.9 L1855.0,1538.8 L1856.6,1540.8 L1858.2,1542.7 L1859.8,1544.7 L1861.4,1546.6 L1863.0,1548.5 L1864.6,1550.5 L1866.2,1552.4 L1867.9,1554.4 L1869.5,1556.3 L1871.2,1558.3 L1872.8,1560.2 L1874.5,1562.1 L1876.2,1564.1 L1877.8,1566.0 L1879.5,1568.0 L1881.2,1569.9 L1882.9,1571.9 L1884.7,1573.8 L1886.4,1575.7 L1888.1,1577.7 L1889.9,1579.6 L1891.6,1581.6 L1893.4,1583.5 L1895.1,1585.5 L1896.9,1587.4 L1898.7,1589.3 L1900.5,1591.3 L1902.3,1593.2 L1904.2,1595.2 L1906.0,1597.1 L1907.8,1599.1 L1909.7,1601.0 L1911.6,1602.9 L1913.4,1604.9 L1915.3,1606.8 L1917.2,1608.8 L1919.1,1610.7 L1921.0,1612.7 L1923.0,1614.6 L1924.9,1616.5 L1926.9,1618.5 L1928.8,1620.4 L1930.8,1622.4 L1932.8,1624.3 L1934.8,1626.3 L1936.8,1628.2 L1938.8,1630.1 L1940.9,1632.1 L1942.9,1634.0 L1945.0,1636.0 L1947.1,1637.9 L1949.2,1639.9 L1951.3,1641.8 L1953.4,1643.8 L1955.5,1645.7 L1957.7,1647.6 L1959.8,1649.6 L1962.0,1651.5 L1964.2,1653.5 L1966.4,1655.4 L1968.6,1657.4 L1970.8,1659.3 L1973.1,1661.2 L1975.4,1663.2 L1977.6,1665.1 L1979.9,1667.1 L1982.3,1669.0 L1984.6,1671.0 L1986.9,1672.9 L1989.3,1674.8 L1991.7,1676.8 L1994.1,1678.7 L1996.5,1680.7 L1998.9,1682.6 L2001.4,1684.6 L2003.9,1686.5 L2006.4,1688.4 L2008.9,1690.4 L2011.4,1692.3 L2013.9,1694.3 L2016.5,1696.2 L2019.1,1698.2 L2021.7,1700.1 L2024.3,1702.0 L2027.0,1704.0 L2029.7,1705.9 L2032.4,1707.9 L2035.1,1709.8 L2037.8,1711.8 L2040.6,1713.7 L2043.4,1715.6 L2046.2,1717.6 L2049.0,1719.5 L2051.9,1721.5 L2054.7,1723.4 L2057.6,1725.4 L2060.6,1727.3 L2063.5,1729.2 L2066.5,1731.2 L2069.5,1733.1 L2072.6,1735.1 L2075.6,1737.0 L2078.7,1739.0 L2081.9,1740.9 L2085.0,1742.8 L2088.2,1744.8 L2091.4,1746.7 L2094.6,1748.7 L2097.9,1750.6 L2101.2,1752.6 L2104.6,1754.5 L2107.9,1756.4 L2111.3,1758.4 L2114.8,1760.3 L2118.3,1762.3 L2121.8,1764.2 L2125.3,1766.2 L2128.9,1768.1 L2132.5,1770.0 L2136.2,1772.0 L2139.9,1773.9 L2143.6,1775.9 L2147.4,1777.8 L2151.3,1779.8 L2155.1,1781.7 L2159.0,1783.7 L2163.0,1785.6 L2167.0,1787.5 L2171.1,1789.5 L2175.2,1791.4"/>
<path d="M1805.3,1109.4 L1806.2,1111.4 L1807.2,1113.3 L1808.1,1115.2 L1809.0,1117.2 L1809.9,1119.1 L1810.8,1121.1 L1811.7,1123.0 L1812.7,1125.0 L1813.6,1126.9 L1814.5,1128.8 L1815.5,1130.8 L1816.4,1132.7 L1817.3,1134.7 L1818.3,1136.6 L1819.2,1138.6 L1820.1,1140.5 L1821.1,1142.4 L1822.0,1144.4 L1823.0,1146.3 L1823.9,1148.3 L1824.9,1150.2 L1825.8,1152.2 L1826.8,1154.1 L1827.8,1156.0 L1828.7,1158.0 L1829.7,1159.9 L1830.6,1161.9 L1831.6,1163.8 L1832.6,1165.8 L1833.6,1167.7 L1834.5,1169.6 L1835.5,1171.6 L1836.5,1173.5 L1837.5,1175.5 L1838.5,1177.4 L1839.4,1179.4 L1840.4,1181.3 L1841.4,1183.2 L1842.4,1185.2 L1843.4,1187.1 L1844.4,1189.1 L1845.4,1191.0 L1846.4,1193.0 L1847.4,1194.9 L1848.4,1196.8 L1849.4,1198.8 L1850.4,1200.7 L1851.4,1202.7 L1852.4,1204.6 L1853.5,1206.6 L1854.5,1208.5 L1855.5,1210.4 L1856.5,1212.4 L1857.6,1214.3 L1858.6,1216.3 L1859.6,1218.2 L1860.6,1220.2 L1861.7,1222.1 L1862.7,1224.1 L1863.7,1226.0 L1864.8,1227.9 L1865.8,1229.9 L1866.9,1231.8 L1867.9,1233.8 L1869.0,1235.7 L1870.0,1237.7 L1871.1,1239.6 L1872.1,1241.5 L1873.2,1243.5 L1874.3,1245.4 L1875.3,1247.4 L1876.4,1249.3 L1877.5,1251.3 L1878.5,1253.2 L1879.6,1255.1 L1880.7,1257.1 L1881.8,1259.0 L1882.8,1261.0 L1883.9,1262.9 L1885.0,1264.9 L1886.1,1266.8 L1887.2,1268.7 L1888.3,1270.7 L1889.4,1272.6 L1890.5,1274.6 L1891.6,1276.5 L1892.7,1278.5 L1893.8,1280.4 L1894.9,1282.3 L1896.0,1284.3 L1897.1,1286.2 L1898.3,1288.2 L1899.4,1290.1 L1900.5,1292.1 L1901.6,1294.0 L1902.8,1295.9 L1903.9,1297.9 L1905.0,1299.8 L1906.2,1301.8 L1907.3,1303.7 L1908.5,1305.7 L1909.6,1307.6 L1910.8,1309.5 L1911.9,1311.5 L1913.1,1313.4 L1914.2,1315.4 L1915.4,1317.3 L1916.6,1319.3 L1917.7,1321.2 L1918.9,1323.1 L1920.1,1325.1 L1921.2,1327.0 L1922.4,1329.0 L1923.6,1330.9 L1924.8,1332.9 L1926.0,1334.8 L1927.2,1336.7 L1928.4,1338.7 L1929.6,1340.6 L1930.8,1342.6 L1932.0,1344.5 L1933.2,1346.5 L1934.4,1348.4 L1935.7,1350.3 L1936.9,1352.3 L1938.1,1354.2 L1939.3,1356.2 L1940.6,1358.1 L1941.8,1360.1 L1943.0,1362.0 L1944.3,1364.0 L1945.5,1365.9 L1946.8,1367.8 L1948.0,1369.8 L1949.3,1371.7 L1950.6,1373.7 L1951.8,1375.6 L1953.1,1377.6 L1954.4,1379.5 L1955.7,1381.4 L1957.0,1383.4 L1958.3,1385.3 L1959.5,1387.3 L1960.8,1389.2 L1962.1,1391.2 L1963.5,1393.1 L1964.8,1395.0 L1966.1,1397.0 L1967.4,1398.9 L1968.7,1400.9 L1970.1,1402.8 L1971.4,1404.8 L1972.7,1406.7 L1974.1,1408.6 L1975.4,1410.6 L1976.8,1412.5 L1978.1,1414.5 L1979.5,1416.4 L1980.9,1418.4 L1982.3,1420.3 L1983.6,1422.2 L1985.0,1424.2 L1986.4,1426.1 L1987.8,1428.1 L1989.2,1430.0 L1990.6,1432.0 L1992.0,1433.9 L1993.4,1435.8 L1994.9,1437.8 L1996.3,1439.7 L1997.7,1441.7 L1999.2,1443.6 L2000.6,1445.6 L2002.1,1447.5 L2003.5,1449.4 L2005.0,1451.4 L2006.5,1453.3 L2007.9,1455.3 L2009.4,1457.2 L2010.9,1459.2 L2012.4,1461.1 L2013.9,1463.0 L2015.4,1465.0 L2017.0,1466.9 L2018.5,1468.9 L2020.0,1470.8 L2021.5,1472.8 L2023.1,1474.7 L2024.6,1476.6 L2026.2,1478.6 L2027.8,1480.5 L2029.3,1482.5 L2030.9,1484.4 L2032.5,1486.4 L2034.1,1488.3 L2035.7,1490.2 L2037.3,1492.2 L2038.9,1494.1 L2040.6,1496.1 L2042.2,1498.0 L2043.8,1500.0 L2045.5,1501.9 L2047.1,1503.9 L2048.8,1505.8 L2050.5,1507.7 L2052.2,1509.7 L2053.9,1511.6 L2055.6,1513.6 L2057.3,1515.5 L2059.0,1517.5 L2060.7,1519.4 L2062.5,1521.3 L2064.2,1523.3 L2066.0,1525.2 L2067.7,1527.2 L2069.5,1529.1 L2071.3,1531.1 L2073.1,1533.0 L2074.9,1534.9 L2076.7,1536.9 L2078.5,1538.8 L2080.4,1540.8 L2082.2,1542.7 L2084.1,1544.7 L2086.0,1546.6 L2087.8,1548.5 L2089.7,1550.5 L2091.6,1552.4 L2093.6,1554.4 L2095.5,1556.3 L2097.4,1558.3 L2099.4,1560.2 L2101.3,1562.1 L2103.3,1564.1 L2105.3,1566.0 L2107.3,1568.0 L2109.3,1569.9 L2111.3,1571.9 L2113.4,1573.8 L2115.4,1575.7 L2117.5,1577.7 L2119.6,1579.6 L2121.7,1581.6 L2123.8,1583.5 L2125.9,1585.5 L2128.0,1587.4 L2130.2,1589.3 L2132.3,1591.3 L2134.5,1593.2 L2136.7,1595.2 L2138.9,1597.1 L2141.1,1599.1 L2143.4,1601.0 L2145.6,1602.9 L2147.9,1604.9 L2150.2,1606.8 L2152.5,1608.8 L2154.8,1610.7 L2157.2,1612.7 L2159.5,1614.6 L2161.9,1616.5 L2164.3,1618.5 L2166.7,1620.4 L2169.1,1622.4 L2171.6,1624.3 L2174.1,1626.3 L2176.6,1628.2"/>
</g>
<text x="1438.6" y="1869.2" transform="rotate(36.6 1438.6 1869.2)" font-size="28.7" fill="#E7298A" text-anchor="middle" dominant-baseline="central">10</text>
<text x="1751.3" y="1872.9" transform="rotate(24.8 1751.3 1872.9)" font-size="28.7" fill="#E7298A" text-anchor="middle" dominant-baseline="central">15</text>
<text x="1991.6" y="1581.4" font-size="28.7" fill="#7570B3" text-anchor="middle" dominant-baseline="central">40</text>
<text x="1996.8" y="1687.9" font-size="28.7" fill="#7570B3" text-anchor="middle" dominant-baseline="central">80</text>
<text x="1886.3" y="1726.7" font-size="28.7" fill="#7570B3" text-anchor="middle" dominant-baseline="central">100</text>
<text x="1981.6" y="1755.6" font-size="28.7" fill="#7570B3" text-anchor="middle" dominant-baseline="central">120</text>
<text x="1891.0" y="1782.2" font-size="28.7" fill="#7570B3" text-anchor="middle" dominant-baseline="central">140</text>
<text x="2006.6" y="1803.3" font-size="28.7" fill="#7570B3" text-anchor="middle" dominant-baseline="central">160</text>
<text x="1937.6" y="1824.7" font-size="28.7" fill="#7570B3" text-anchor="middle" dominant-baseline="central">180</text>
<text x="1845.0" y="1845.0" font-size="28.7" fill="#7570B3" text-anchor="middle" dominant-baseline="central">200</text>
<text x="1746.5" y="1863.8" font-size="28.7" fill="#7570B3" text-anchor="middle" dominant-baseline="central">220</text>
<text x="2028.0" y="1872.7" font-size="28.7" fill="#7570B3" text-anchor="middle" dominant-baseline="central">240</text>
</g>
<rect x="1177.5" y="1078.4" width="837.5" height="837.3" fill="none" stroke="#000" stroke-width="3.3"/>
<path d="M1208.5,1915.7 V1941.1 M1402.4,1915.7 V1941.1 M1596.2,1915.7 V1941.1 M1790.1,1915.7 V1941.1 M1984.0,1915.7 V1941.1 M1177.5,1884.7 H1151.9 M1177.5,1729.6 H1151.9 M1177.5,1574.6 H1151.9 M1177.5,1419.5 H1151.9 M1177.5,1264.5 H1151.9 M1177.5,1109.4 H1151.9" stroke="#000" stroke-width="3.1" stroke-linecap="round" fill="none"/>
<text x="1208.5" y="1979.4" font-size="41" text-anchor="middle">15</text>
<text x="1402.4" y="1979.4" font-size="41" text-anchor="middle">20</text>
<text x="1596.2" y="1979.4" font-size="41" text-anchor="middle">25</text>
<text x="1790.1" y="1979.4" font-size="41" text-anchor="middle">30</text>
<text x="1984.0" y="1979.4" font-size="41" text-anchor="middle">35</text>
<text x="1143.2" y="1884.7" font-size="41" text-anchor="middle" transform="rotate(-90 1143.2 1884.7)">0</text>
<text x="1143.2" y="1729.6" font-size="41" text-anchor="middle" transform="rotate(-90 1143.2 1729.6)">20</text>
<text x="1143.2" y="1574.6" font-size="41" text-anchor="middle" transform="rotate(-90 1143.2 1574.6)">40</text>
<text x="1143.2" y="1419.5" font-size="41" text-anchor="middle" transform="rotate(-90 1143.2 1419.5)">60</text>
<text x="1143.2" y="1264.5" font-size="41" text-anchor="middle" transform="rotate(-90 1143.2 1264.5)">80</text>
<text x="1143.2" y="1109.4" font-size="41" text-anchor="middle" transform="rotate(-90 1143.2 1109.4)">100</text>
<text x="1596.2" y="2028.5" font-size="41" text-anchor="middle">Temperature [°C]</text>
<text x="1094.1" y="1497.1" font-size="41" text-anchor="middle" transform="rotate(-90 1094.1 1497.1)">Relative humidity [%]</text>
<text x="1596.2" y="1068.3" font-size="49.2" text-anchor="middle">MBCn corrected</text>
<defs><clipPath id="lclip3"><rect x="1000" y="1029.4" width="1010" height="60"/></clipPath></defs>
<text x="1009.1" y="1063.9" font-size="49.2" clip-path="url(#lclip3)">(d)</text>
<rect x="144.6" y="637.1" width="377.4" height="245.19999999999993" fill="#fff" stroke="#000" stroke-width="3.3"/>
<path d="M153.6,686.4 H229.6" stroke="#7570B3" stroke-width="3.7" stroke-linecap="round"/>
<path d="M153.6,735.3 H229.6" stroke="#E7298A" stroke-width="3.7" stroke-linecap="round"/>
<circle cx="192.6" cy="784.3" r="9.4" fill="none" stroke="#000" stroke-width="2.4"/>
<circle cx="192.6" cy="833.2" r="9.5" fill="#f00"/>
<text x="263.5" y="701.0" font-size="41">CBI</text>
<text x="263.5" y="749.6" font-size="41">WBGT</text>
<text x="263.5" y="798.9" font-size="41">Data</text>
<text x="263.5" y="848.2" font-size="41">WBGT &gt; q95</text>
</svg>
</body></html>
